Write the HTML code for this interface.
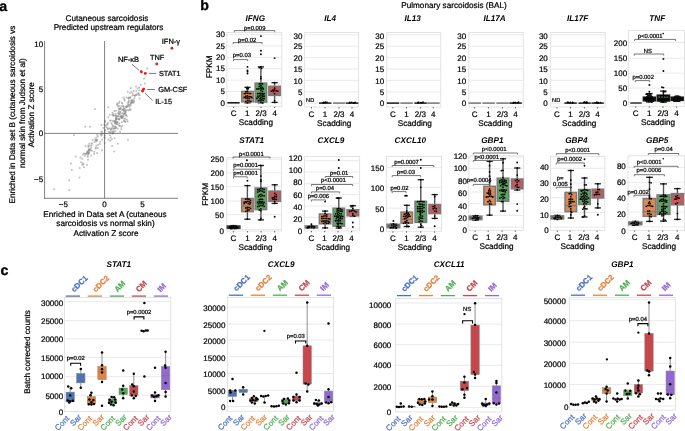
<!DOCTYPE html>
<html lang="en"><head><meta charset="utf-8"><title>Figure</title>
<style>
html,body{margin:0;padding:0;background:#fff;}
body{width:685px;height:431px;overflow:hidden;font-family:"Liberation Sans", Arial, Helvetica, sans-serif;}
svg{display:block;}
</style></head>
<body>
<svg width="685" height="431" viewBox="0 0 685 431" font-family='"Liberation Sans", Arial, Helvetica, sans-serif' text-rendering="geometricPrecision">
<rect x="0" y="0" width="685" height="431" fill="#ffffff"/>
<text x="-0.70" y="10.90" font-size="14.2" text-anchor="start" fill="#000" font-weight="bold" stroke="#000" stroke-width="0.3">a</text>
<text x="107.00" y="20.60" font-size="8.2" text-anchor="middle" fill="#000" stroke="#000" stroke-width="0.22">Cutaneous sarcoidosis</text>
<text x="108.50" y="29.60" font-size="8.2" text-anchor="middle" fill="#000" stroke="#000" stroke-width="0.22">Predicted upstream regulators</text>
<g>
<circle cx="112.82" cy="132.26" r="1.0" fill="#8a8a8a" fill-opacity="0.55"/>
<circle cx="127.70" cy="121.39" r="1.0" fill="#8a8a8a" fill-opacity="0.55"/>
<circle cx="121.16" cy="129.19" r="1.0" fill="#8a8a8a" fill-opacity="0.55"/>
<circle cx="131.17" cy="100.94" r="1.0" fill="#8a8a8a" fill-opacity="0.55"/>
<circle cx="133.23" cy="102.99" r="1.0" fill="#8a8a8a" fill-opacity="0.55"/>
<circle cx="125.52" cy="111.06" r="1.0" fill="#8a8a8a" fill-opacity="0.55"/>
<circle cx="116.37" cy="119.52" r="1.0" fill="#8a8a8a" fill-opacity="0.55"/>
<circle cx="112.19" cy="127.89" r="1.0" fill="#8a8a8a" fill-opacity="0.55"/>
<circle cx="127.92" cy="105.88" r="1.0" fill="#8a8a8a" fill-opacity="0.55"/>
<circle cx="119.01" cy="103.02" r="1.0" fill="#8a8a8a" fill-opacity="0.55"/>
<circle cx="122.78" cy="116.38" r="1.0" fill="#8a8a8a" fill-opacity="0.55"/>
<circle cx="123.59" cy="114.96" r="1.0" fill="#8a8a8a" fill-opacity="0.55"/>
<circle cx="119.21" cy="119.23" r="1.0" fill="#8a8a8a" fill-opacity="0.55"/>
<circle cx="138.61" cy="92.95" r="1.0" fill="#8a8a8a" fill-opacity="0.55"/>
<circle cx="123.72" cy="107.04" r="1.0" fill="#8a8a8a" fill-opacity="0.55"/>
<circle cx="138.55" cy="94.63" r="1.0" fill="#8a8a8a" fill-opacity="0.55"/>
<circle cx="117.29" cy="103.29" r="1.0" fill="#8a8a8a" fill-opacity="0.55"/>
<circle cx="110.56" cy="129.98" r="1.0" fill="#8a8a8a" fill-opacity="0.55"/>
<circle cx="127.68" cy="91.75" r="1.0" fill="#8a8a8a" fill-opacity="0.55"/>
<circle cx="114.66" cy="138.29" r="1.0" fill="#8a8a8a" fill-opacity="0.55"/>
<circle cx="127.64" cy="109.98" r="1.0" fill="#8a8a8a" fill-opacity="0.55"/>
<circle cx="119.19" cy="114.00" r="1.0" fill="#8a8a8a" fill-opacity="0.55"/>
<circle cx="124.11" cy="109.05" r="1.0" fill="#8a8a8a" fill-opacity="0.55"/>
<circle cx="118.84" cy="109.06" r="1.0" fill="#8a8a8a" fill-opacity="0.55"/>
<circle cx="134.43" cy="98.04" r="1.0" fill="#8a8a8a" fill-opacity="0.55"/>
<circle cx="118.67" cy="112.87" r="1.0" fill="#8a8a8a" fill-opacity="0.55"/>
<circle cx="126.16" cy="115.16" r="1.0" fill="#8a8a8a" fill-opacity="0.55"/>
<circle cx="118.61" cy="110.91" r="1.0" fill="#8a8a8a" fill-opacity="0.55"/>
<circle cx="121.54" cy="116.23" r="1.0" fill="#8a8a8a" fill-opacity="0.55"/>
<circle cx="124.02" cy="111.26" r="1.0" fill="#8a8a8a" fill-opacity="0.55"/>
<circle cx="122.29" cy="125.68" r="1.0" fill="#8a8a8a" fill-opacity="0.55"/>
<circle cx="136.39" cy="94.54" r="1.0" fill="#8a8a8a" fill-opacity="0.55"/>
<circle cx="115.25" cy="115.48" r="1.0" fill="#8a8a8a" fill-opacity="0.55"/>
<circle cx="124.80" cy="109.98" r="1.0" fill="#8a8a8a" fill-opacity="0.55"/>
<circle cx="130.75" cy="88.12" r="1.0" fill="#8a8a8a" fill-opacity="0.55"/>
<circle cx="126.77" cy="97.40" r="1.0" fill="#8a8a8a" fill-opacity="0.55"/>
<circle cx="139.68" cy="98.41" r="1.0" fill="#8a8a8a" fill-opacity="0.55"/>
<circle cx="118.10" cy="113.30" r="1.0" fill="#8a8a8a" fill-opacity="0.55"/>
<circle cx="108.56" cy="131.79" r="1.0" fill="#8a8a8a" fill-opacity="0.55"/>
<circle cx="132.72" cy="93.59" r="1.0" fill="#8a8a8a" fill-opacity="0.55"/>
<circle cx="126.97" cy="119.69" r="1.0" fill="#8a8a8a" fill-opacity="0.55"/>
<circle cx="128.49" cy="102.35" r="1.0" fill="#8a8a8a" fill-opacity="0.55"/>
<circle cx="108.49" cy="139.44" r="1.0" fill="#8a8a8a" fill-opacity="0.55"/>
<circle cx="112.52" cy="112.76" r="1.0" fill="#8a8a8a" fill-opacity="0.55"/>
<circle cx="115.62" cy="122.95" r="1.0" fill="#8a8a8a" fill-opacity="0.55"/>
<circle cx="120.26" cy="111.97" r="1.0" fill="#8a8a8a" fill-opacity="0.55"/>
<circle cx="126.34" cy="106.46" r="1.0" fill="#8a8a8a" fill-opacity="0.55"/>
<circle cx="112.15" cy="145.98" r="1.0" fill="#8a8a8a" fill-opacity="0.55"/>
<circle cx="123.65" cy="109.77" r="1.0" fill="#8a8a8a" fill-opacity="0.55"/>
<circle cx="132.22" cy="101.63" r="1.0" fill="#8a8a8a" fill-opacity="0.55"/>
<circle cx="117.39" cy="116.54" r="1.0" fill="#8a8a8a" fill-opacity="0.55"/>
<circle cx="109.80" cy="135.29" r="1.0" fill="#8a8a8a" fill-opacity="0.55"/>
<circle cx="114.21" cy="121.25" r="1.0" fill="#8a8a8a" fill-opacity="0.55"/>
<circle cx="139.14" cy="87.50" r="1.0" fill="#8a8a8a" fill-opacity="0.55"/>
<circle cx="131.50" cy="100.30" r="1.0" fill="#8a8a8a" fill-opacity="0.55"/>
<circle cx="124.56" cy="113.30" r="1.0" fill="#8a8a8a" fill-opacity="0.55"/>
<circle cx="120.05" cy="131.68" r="1.0" fill="#8a8a8a" fill-opacity="0.55"/>
<circle cx="112.63" cy="133.39" r="1.0" fill="#8a8a8a" fill-opacity="0.55"/>
<circle cx="129.05" cy="100.57" r="1.0" fill="#8a8a8a" fill-opacity="0.55"/>
<circle cx="131.50" cy="91.76" r="1.0" fill="#8a8a8a" fill-opacity="0.55"/>
<circle cx="119.85" cy="109.33" r="1.0" fill="#8a8a8a" fill-opacity="0.55"/>
<circle cx="138.05" cy="93.85" r="1.0" fill="#8a8a8a" fill-opacity="0.55"/>
<circle cx="131.06" cy="103.46" r="1.0" fill="#8a8a8a" fill-opacity="0.55"/>
<circle cx="109.33" cy="128.34" r="1.0" fill="#8a8a8a" fill-opacity="0.55"/>
<circle cx="115.69" cy="120.58" r="1.0" fill="#8a8a8a" fill-opacity="0.55"/>
<circle cx="118.58" cy="115.66" r="1.0" fill="#8a8a8a" fill-opacity="0.55"/>
<circle cx="105.11" cy="120.80" r="1.0" fill="#8a8a8a" fill-opacity="0.55"/>
<circle cx="133.26" cy="101.96" r="1.0" fill="#8a8a8a" fill-opacity="0.55"/>
<circle cx="114.99" cy="122.12" r="1.0" fill="#8a8a8a" fill-opacity="0.55"/>
<circle cx="127.75" cy="103.72" r="1.0" fill="#8a8a8a" fill-opacity="0.55"/>
<circle cx="125.54" cy="121.94" r="1.0" fill="#8a8a8a" fill-opacity="0.55"/>
<circle cx="113.21" cy="115.64" r="1.0" fill="#8a8a8a" fill-opacity="0.55"/>
<circle cx="124.24" cy="120.63" r="1.0" fill="#8a8a8a" fill-opacity="0.55"/>
<circle cx="115.32" cy="131.13" r="1.0" fill="#8a8a8a" fill-opacity="0.55"/>
<circle cx="114.09" cy="115.60" r="1.0" fill="#8a8a8a" fill-opacity="0.55"/>
<circle cx="120.52" cy="108.02" r="1.0" fill="#8a8a8a" fill-opacity="0.55"/>
<circle cx="123.84" cy="121.13" r="1.0" fill="#8a8a8a" fill-opacity="0.55"/>
<circle cx="117.03" cy="104.60" r="1.0" fill="#8a8a8a" fill-opacity="0.55"/>
<circle cx="116.06" cy="127.74" r="1.0" fill="#8a8a8a" fill-opacity="0.55"/>
<circle cx="132.41" cy="100.13" r="1.0" fill="#8a8a8a" fill-opacity="0.55"/>
<circle cx="122.26" cy="103.54" r="1.0" fill="#8a8a8a" fill-opacity="0.55"/>
<circle cx="107.88" cy="128.14" r="1.0" fill="#8a8a8a" fill-opacity="0.55"/>
<circle cx="113.67" cy="133.04" r="1.0" fill="#8a8a8a" fill-opacity="0.55"/>
<circle cx="115.63" cy="113.75" r="1.0" fill="#8a8a8a" fill-opacity="0.55"/>
<circle cx="121.16" cy="126.70" r="1.0" fill="#8a8a8a" fill-opacity="0.55"/>
<circle cx="113.20" cy="114.27" r="1.0" fill="#8a8a8a" fill-opacity="0.55"/>
<circle cx="130.72" cy="110.02" r="1.0" fill="#8a8a8a" fill-opacity="0.55"/>
<circle cx="112.49" cy="126.13" r="1.0" fill="#8a8a8a" fill-opacity="0.55"/>
<circle cx="130.01" cy="93.01" r="1.0" fill="#8a8a8a" fill-opacity="0.55"/>
<circle cx="130.78" cy="105.57" r="1.0" fill="#8a8a8a" fill-opacity="0.55"/>
<circle cx="117.69" cy="128.47" r="1.0" fill="#8a8a8a" fill-opacity="0.55"/>
<circle cx="121.70" cy="117.85" r="1.0" fill="#8a8a8a" fill-opacity="0.55"/>
<circle cx="124.32" cy="119.06" r="1.0" fill="#8a8a8a" fill-opacity="0.55"/>
<circle cx="118.05" cy="124.23" r="1.0" fill="#8a8a8a" fill-opacity="0.55"/>
<circle cx="112.40" cy="133.18" r="1.0" fill="#8a8a8a" fill-opacity="0.55"/>
<circle cx="113.92" cy="131.30" r="1.0" fill="#8a8a8a" fill-opacity="0.55"/>
<circle cx="126.99" cy="106.73" r="1.0" fill="#8a8a8a" fill-opacity="0.55"/>
<circle cx="111.43" cy="123.13" r="1.0" fill="#8a8a8a" fill-opacity="0.55"/>
<circle cx="124.68" cy="100.56" r="1.0" fill="#8a8a8a" fill-opacity="0.55"/>
<circle cx="120.71" cy="116.51" r="1.0" fill="#8a8a8a" fill-opacity="0.55"/>
<circle cx="116.64" cy="119.30" r="1.0" fill="#8a8a8a" fill-opacity="0.55"/>
<circle cx="126.37" cy="107.00" r="1.0" fill="#8a8a8a" fill-opacity="0.55"/>
<circle cx="120.22" cy="111.98" r="1.0" fill="#8a8a8a" fill-opacity="0.55"/>
<circle cx="123.07" cy="110.58" r="1.0" fill="#8a8a8a" fill-opacity="0.55"/>
<circle cx="114.62" cy="121.24" r="1.0" fill="#8a8a8a" fill-opacity="0.55"/>
<circle cx="114.10" cy="128.83" r="1.0" fill="#8a8a8a" fill-opacity="0.55"/>
<circle cx="123.64" cy="97.56" r="1.0" fill="#8a8a8a" fill-opacity="0.55"/>
<circle cx="130.52" cy="103.03" r="1.0" fill="#8a8a8a" fill-opacity="0.55"/>
<circle cx="120.84" cy="108.41" r="1.0" fill="#8a8a8a" fill-opacity="0.55"/>
<circle cx="133.70" cy="91.05" r="1.0" fill="#8a8a8a" fill-opacity="0.55"/>
<circle cx="120.78" cy="113.78" r="1.0" fill="#8a8a8a" fill-opacity="0.55"/>
<circle cx="119.59" cy="118.38" r="1.0" fill="#8a8a8a" fill-opacity="0.55"/>
<circle cx="115.27" cy="123.46" r="1.0" fill="#8a8a8a" fill-opacity="0.55"/>
<circle cx="104.58" cy="142.90" r="1.0" fill="#8a8a8a" fill-opacity="0.55"/>
<circle cx="125.81" cy="114.98" r="1.0" fill="#8a8a8a" fill-opacity="0.55"/>
<circle cx="126.76" cy="116.25" r="1.0" fill="#8a8a8a" fill-opacity="0.55"/>
<circle cx="119.27" cy="114.26" r="1.0" fill="#8a8a8a" fill-opacity="0.55"/>
<circle cx="113.77" cy="128.39" r="1.0" fill="#8a8a8a" fill-opacity="0.55"/>
<circle cx="116.50" cy="124.10" r="1.0" fill="#8a8a8a" fill-opacity="0.55"/>
<circle cx="122.58" cy="112.99" r="1.0" fill="#8a8a8a" fill-opacity="0.55"/>
<circle cx="130.41" cy="97.94" r="1.0" fill="#8a8a8a" fill-opacity="0.55"/>
<circle cx="118.99" cy="119.60" r="1.0" fill="#8a8a8a" fill-opacity="0.55"/>
<circle cx="110.66" cy="137.40" r="1.0" fill="#8a8a8a" fill-opacity="0.55"/>
<circle cx="116.23" cy="115.79" r="1.0" fill="#8a8a8a" fill-opacity="0.55"/>
<circle cx="123.30" cy="106.61" r="1.0" fill="#8a8a8a" fill-opacity="0.55"/>
<circle cx="130.06" cy="104.71" r="1.0" fill="#8a8a8a" fill-opacity="0.55"/>
<circle cx="139.60" cy="95.35" r="1.0" fill="#8a8a8a" fill-opacity="0.55"/>
<circle cx="117.16" cy="122.33" r="1.0" fill="#8a8a8a" fill-opacity="0.55"/>
<circle cx="131.67" cy="102.54" r="1.0" fill="#8a8a8a" fill-opacity="0.55"/>
<circle cx="116.22" cy="117.76" r="1.0" fill="#8a8a8a" fill-opacity="0.55"/>
<circle cx="131.63" cy="102.43" r="1.0" fill="#8a8a8a" fill-opacity="0.55"/>
<circle cx="120.23" cy="108.52" r="1.0" fill="#8a8a8a" fill-opacity="0.55"/>
<circle cx="130.40" cy="96.94" r="1.0" fill="#8a8a8a" fill-opacity="0.55"/>
<circle cx="116.02" cy="119.00" r="1.0" fill="#8a8a8a" fill-opacity="0.55"/>
<circle cx="125.29" cy="121.38" r="1.0" fill="#8a8a8a" fill-opacity="0.55"/>
<circle cx="132.20" cy="100.32" r="1.0" fill="#8a8a8a" fill-opacity="0.55"/>
<circle cx="119.51" cy="101.61" r="1.0" fill="#8a8a8a" fill-opacity="0.55"/>
<circle cx="123.51" cy="116.44" r="1.0" fill="#8a8a8a" fill-opacity="0.55"/>
<circle cx="121.79" cy="110.05" r="1.0" fill="#8a8a8a" fill-opacity="0.55"/>
<circle cx="129.00" cy="105.30" r="1.0" fill="#8a8a8a" fill-opacity="0.55"/>
<circle cx="115.20" cy="126.51" r="1.0" fill="#8a8a8a" fill-opacity="0.55"/>
<circle cx="115.59" cy="128.38" r="1.0" fill="#8a8a8a" fill-opacity="0.55"/>
<circle cx="122.14" cy="116.60" r="1.0" fill="#8a8a8a" fill-opacity="0.55"/>
<circle cx="122.75" cy="118.07" r="1.0" fill="#8a8a8a" fill-opacity="0.55"/>
<circle cx="115.18" cy="123.14" r="1.0" fill="#8a8a8a" fill-opacity="0.55"/>
<circle cx="119.44" cy="109.06" r="1.0" fill="#8a8a8a" fill-opacity="0.55"/>
<circle cx="114.88" cy="120.92" r="1.0" fill="#8a8a8a" fill-opacity="0.55"/>
<circle cx="121.97" cy="122.22" r="1.0" fill="#8a8a8a" fill-opacity="0.55"/>
<circle cx="128.29" cy="104.67" r="1.0" fill="#8a8a8a" fill-opacity="0.55"/>
<circle cx="105.06" cy="130.39" r="1.0" fill="#8a8a8a" fill-opacity="0.55"/>
<circle cx="130.02" cy="108.94" r="1.0" fill="#8a8a8a" fill-opacity="0.55"/>
<circle cx="136.23" cy="95.01" r="1.0" fill="#8a8a8a" fill-opacity="0.55"/>
<circle cx="112.84" cy="121.08" r="1.0" fill="#8a8a8a" fill-opacity="0.55"/>
<circle cx="119.35" cy="125.64" r="1.0" fill="#8a8a8a" fill-opacity="0.55"/>
<circle cx="104.69" cy="133.20" r="1.0" fill="#8a8a8a" fill-opacity="0.55"/>
<circle cx="116.27" cy="116.32" r="1.0" fill="#8a8a8a" fill-opacity="0.55"/>
<circle cx="125.49" cy="112.68" r="1.0" fill="#8a8a8a" fill-opacity="0.55"/>
<circle cx="117.95" cy="106.83" r="1.0" fill="#8a8a8a" fill-opacity="0.55"/>
<circle cx="136.32" cy="90.94" r="1.0" fill="#8a8a8a" fill-opacity="0.55"/>
<circle cx="119.39" cy="123.23" r="1.0" fill="#8a8a8a" fill-opacity="0.55"/>
<circle cx="119.13" cy="106.06" r="1.0" fill="#8a8a8a" fill-opacity="0.55"/>
<circle cx="126.09" cy="110.41" r="1.0" fill="#8a8a8a" fill-opacity="0.55"/>
<circle cx="112.24" cy="124.42" r="1.0" fill="#8a8a8a" fill-opacity="0.55"/>
<circle cx="115.10" cy="121.94" r="1.0" fill="#8a8a8a" fill-opacity="0.55"/>
<circle cx="128.40" cy="98.59" r="1.0" fill="#8a8a8a" fill-opacity="0.55"/>
<circle cx="123.46" cy="114.00" r="1.0" fill="#8a8a8a" fill-opacity="0.55"/>
<circle cx="124.18" cy="98.96" r="1.0" fill="#8a8a8a" fill-opacity="0.55"/>
<circle cx="125.39" cy="118.60" r="1.0" fill="#8a8a8a" fill-opacity="0.55"/>
<circle cx="135.04" cy="95.84" r="1.0" fill="#8a8a8a" fill-opacity="0.55"/>
<circle cx="121.54" cy="116.05" r="1.0" fill="#8a8a8a" fill-opacity="0.55"/>
<circle cx="125.41" cy="113.16" r="1.0" fill="#8a8a8a" fill-opacity="0.55"/>
<circle cx="110.21" cy="140.70" r="1.0" fill="#8a8a8a" fill-opacity="0.55"/>
<circle cx="121.30" cy="117.78" r="1.0" fill="#8a8a8a" fill-opacity="0.55"/>
<circle cx="117.56" cy="105.01" r="1.0" fill="#8a8a8a" fill-opacity="0.55"/>
<circle cx="128.82" cy="97.95" r="1.0" fill="#8a8a8a" fill-opacity="0.55"/>
<circle cx="118.22" cy="116.20" r="1.0" fill="#8a8a8a" fill-opacity="0.55"/>
<circle cx="120.58" cy="116.62" r="1.0" fill="#8a8a8a" fill-opacity="0.55"/>
<circle cx="128.42" cy="101.65" r="1.0" fill="#8a8a8a" fill-opacity="0.55"/>
<circle cx="124.80" cy="109.11" r="1.0" fill="#8a8a8a" fill-opacity="0.55"/>
<circle cx="110.51" cy="132.53" r="1.0" fill="#8a8a8a" fill-opacity="0.55"/>
<circle cx="125.43" cy="111.72" r="1.0" fill="#8a8a8a" fill-opacity="0.55"/>
<circle cx="115.95" cy="118.63" r="1.0" fill="#8a8a8a" fill-opacity="0.55"/>
<circle cx="114.76" cy="126.86" r="1.0" fill="#8a8a8a" fill-opacity="0.55"/>
<circle cx="129.53" cy="106.63" r="1.0" fill="#8a8a8a" fill-opacity="0.55"/>
<circle cx="134.00" cy="95.34" r="1.0" fill="#8a8a8a" fill-opacity="0.55"/>
<circle cx="128.93" cy="97.56" r="1.0" fill="#8a8a8a" fill-opacity="0.55"/>
<circle cx="104.64" cy="135.40" r="1.0" fill="#8a8a8a" fill-opacity="0.55"/>
<circle cx="111.76" cy="129.18" r="1.0" fill="#8a8a8a" fill-opacity="0.55"/>
<circle cx="121.46" cy="106.01" r="1.0" fill="#8a8a8a" fill-opacity="0.55"/>
<circle cx="121.96" cy="102.79" r="1.0" fill="#8a8a8a" fill-opacity="0.55"/>
<circle cx="118.02" cy="118.80" r="1.0" fill="#8a8a8a" fill-opacity="0.55"/>
<circle cx="123.07" cy="106.01" r="1.0" fill="#8a8a8a" fill-opacity="0.55"/>
<circle cx="121.89" cy="117.73" r="1.0" fill="#8a8a8a" fill-opacity="0.55"/>
<circle cx="119.63" cy="125.66" r="1.0" fill="#8a8a8a" fill-opacity="0.55"/>
<circle cx="132.59" cy="95.60" r="1.0" fill="#8a8a8a" fill-opacity="0.55"/>
<circle cx="125.80" cy="107.04" r="1.0" fill="#8a8a8a" fill-opacity="0.55"/>
<circle cx="117.37" cy="121.89" r="1.0" fill="#8a8a8a" fill-opacity="0.55"/>
<circle cx="128.90" cy="110.22" r="1.0" fill="#8a8a8a" fill-opacity="0.55"/>
<circle cx="115.93" cy="110.64" r="1.0" fill="#8a8a8a" fill-opacity="0.55"/>
<circle cx="135.02" cy="95.60" r="1.0" fill="#8a8a8a" fill-opacity="0.55"/>
<circle cx="126.65" cy="106.58" r="1.0" fill="#8a8a8a" fill-opacity="0.55"/>
<circle cx="133.93" cy="101.76" r="1.0" fill="#8a8a8a" fill-opacity="0.55"/>
<circle cx="122.98" cy="109.15" r="1.0" fill="#8a8a8a" fill-opacity="0.55"/>
<circle cx="134.04" cy="100.36" r="1.0" fill="#8a8a8a" fill-opacity="0.55"/>
<circle cx="124.21" cy="114.03" r="1.0" fill="#8a8a8a" fill-opacity="0.55"/>
<circle cx="116.98" cy="123.99" r="1.0" fill="#8a8a8a" fill-opacity="0.55"/>
<circle cx="89.18" cy="145.41" r="1.0" fill="#8a8a8a" fill-opacity="0.55"/>
<circle cx="82.87" cy="163.32" r="1.0" fill="#8a8a8a" fill-opacity="0.55"/>
<circle cx="85.22" cy="153.93" r="1.0" fill="#8a8a8a" fill-opacity="0.55"/>
<circle cx="94.17" cy="153.84" r="1.0" fill="#8a8a8a" fill-opacity="0.55"/>
<circle cx="91.38" cy="155.53" r="1.0" fill="#8a8a8a" fill-opacity="0.55"/>
<circle cx="94.29" cy="151.72" r="1.0" fill="#8a8a8a" fill-opacity="0.55"/>
<circle cx="79.72" cy="167.94" r="1.0" fill="#8a8a8a" fill-opacity="0.55"/>
<circle cx="88.00" cy="159.67" r="1.0" fill="#8a8a8a" fill-opacity="0.55"/>
<circle cx="90.21" cy="149.19" r="1.0" fill="#8a8a8a" fill-opacity="0.55"/>
<circle cx="89.17" cy="149.64" r="1.0" fill="#8a8a8a" fill-opacity="0.55"/>
<circle cx="95.58" cy="148.55" r="1.0" fill="#8a8a8a" fill-opacity="0.55"/>
<circle cx="88.52" cy="152.48" r="1.0" fill="#8a8a8a" fill-opacity="0.55"/>
<circle cx="71.89" cy="170.09" r="1.0" fill="#8a8a8a" fill-opacity="0.55"/>
<circle cx="82.27" cy="164.83" r="1.0" fill="#8a8a8a" fill-opacity="0.55"/>
<circle cx="84.90" cy="156.07" r="1.0" fill="#8a8a8a" fill-opacity="0.55"/>
<circle cx="91.17" cy="145.73" r="1.0" fill="#8a8a8a" fill-opacity="0.55"/>
<circle cx="82.89" cy="154.47" r="1.0" fill="#8a8a8a" fill-opacity="0.55"/>
<circle cx="91.88" cy="150.79" r="1.0" fill="#8a8a8a" fill-opacity="0.55"/>
<circle cx="88.33" cy="147.06" r="1.0" fill="#8a8a8a" fill-opacity="0.55"/>
<circle cx="91.99" cy="143.29" r="1.0" fill="#8a8a8a" fill-opacity="0.55"/>
<circle cx="89.36" cy="143.53" r="1.0" fill="#8a8a8a" fill-opacity="0.55"/>
<circle cx="106.43" cy="127.18" r="1.0" fill="#8a8a8a" fill-opacity="0.55"/>
<circle cx="75.60" cy="156.50" r="1.0" fill="#8a8a8a" fill-opacity="0.55"/>
<circle cx="83.90" cy="167.29" r="1.0" fill="#8a8a8a" fill-opacity="0.55"/>
<circle cx="97.33" cy="134.67" r="1.0" fill="#8a8a8a" fill-opacity="0.55"/>
<circle cx="85.42" cy="146.31" r="1.0" fill="#8a8a8a" fill-opacity="0.55"/>
<circle cx="87.88" cy="157.06" r="1.0" fill="#8a8a8a" fill-opacity="0.55"/>
<circle cx="89.05" cy="150.18" r="1.0" fill="#8a8a8a" fill-opacity="0.55"/>
<circle cx="88.90" cy="149.11" r="1.0" fill="#8a8a8a" fill-opacity="0.55"/>
<circle cx="70.86" cy="163.40" r="1.0" fill="#8a8a8a" fill-opacity="0.55"/>
<circle cx="83.92" cy="153.53" r="1.0" fill="#8a8a8a" fill-opacity="0.55"/>
<circle cx="82.06" cy="159.12" r="1.0" fill="#8a8a8a" fill-opacity="0.55"/>
<circle cx="87.08" cy="164.72" r="1.0" fill="#8a8a8a" fill-opacity="0.55"/>
<circle cx="91.59" cy="144.21" r="1.0" fill="#8a8a8a" fill-opacity="0.55"/>
<circle cx="79.52" cy="177.50" r="1.0" fill="#8a8a8a" fill-opacity="0.55"/>
<circle cx="83.30" cy="164.38" r="1.0" fill="#8a8a8a" fill-opacity="0.55"/>
<circle cx="89.39" cy="151.32" r="1.0" fill="#8a8a8a" fill-opacity="0.55"/>
<circle cx="101.48" cy="131.96" r="1.0" fill="#8a8a8a" fill-opacity="0.55"/>
<circle cx="86.44" cy="153.74" r="1.0" fill="#8a8a8a" fill-opacity="0.55"/>
<circle cx="81.08" cy="162.17" r="1.0" fill="#8a8a8a" fill-opacity="0.55"/>
<circle cx="91.07" cy="147.69" r="1.0" fill="#8a8a8a" fill-opacity="0.55"/>
<circle cx="96.03" cy="147.70" r="1.0" fill="#8a8a8a" fill-opacity="0.55"/>
<circle cx="90.96" cy="150.16" r="1.0" fill="#8a8a8a" fill-opacity="0.55"/>
<circle cx="88.61" cy="150.00" r="1.0" fill="#8a8a8a" fill-opacity="0.55"/>
<circle cx="86.23" cy="153.66" r="1.0" fill="#8a8a8a" fill-opacity="0.55"/>
<circle cx="88.22" cy="145.74" r="1.0" fill="#8a8a8a" fill-opacity="0.55"/>
<circle cx="87.60" cy="151.35" r="1.0" fill="#8a8a8a" fill-opacity="0.55"/>
<circle cx="92.62" cy="139.97" r="1.0" fill="#8a8a8a" fill-opacity="0.55"/>
<circle cx="80.40" cy="157.48" r="1.0" fill="#8a8a8a" fill-opacity="0.55"/>
<circle cx="94.53" cy="141.92" r="1.0" fill="#8a8a8a" fill-opacity="0.55"/>
<circle cx="96.33" cy="137.38" r="1.0" fill="#8a8a8a" fill-opacity="0.55"/>
<circle cx="98.07" cy="144.86" r="1.0" fill="#8a8a8a" fill-opacity="0.55"/>
<circle cx="88.43" cy="153.79" r="1.0" fill="#8a8a8a" fill-opacity="0.55"/>
<circle cx="89.21" cy="153.05" r="1.0" fill="#8a8a8a" fill-opacity="0.55"/>
<circle cx="86.76" cy="153.08" r="1.0" fill="#8a8a8a" fill-opacity="0.55"/>
<circle cx="87.05" cy="152.14" r="1.0" fill="#8a8a8a" fill-opacity="0.55"/>
<circle cx="87.69" cy="155.56" r="1.0" fill="#8a8a8a" fill-opacity="0.55"/>
<circle cx="87.64" cy="152.10" r="1.0" fill="#8a8a8a" fill-opacity="0.55"/>
<circle cx="88.33" cy="153.88" r="1.0" fill="#8a8a8a" fill-opacity="0.55"/>
<circle cx="88.64" cy="152.58" r="1.0" fill="#8a8a8a" fill-opacity="0.55"/>
<circle cx="96.92" cy="140.41" r="1.0" fill="#8a8a8a" fill-opacity="0.55"/>
<circle cx="101.99" cy="150.17" r="1.0" fill="#8a8a8a" fill-opacity="0.55"/>
<circle cx="97.87" cy="136.24" r="1.0" fill="#8a8a8a" fill-opacity="0.55"/>
<circle cx="96.84" cy="139.67" r="1.0" fill="#8a8a8a" fill-opacity="0.55"/>
<circle cx="104.60" cy="138.03" r="1.0" fill="#8a8a8a" fill-opacity="0.55"/>
<circle cx="96.32" cy="145.80" r="1.0" fill="#8a8a8a" fill-opacity="0.55"/>
<circle cx="110.73" cy="120.53" r="1.0" fill="#8a8a8a" fill-opacity="0.55"/>
<circle cx="101.39" cy="135.38" r="1.0" fill="#8a8a8a" fill-opacity="0.55"/>
<circle cx="103.36" cy="127.96" r="1.0" fill="#8a8a8a" fill-opacity="0.55"/>
<circle cx="102.02" cy="131.49" r="1.0" fill="#8a8a8a" fill-opacity="0.55"/>
<circle cx="111.90" cy="139.25" r="1.0" fill="#8a8a8a" fill-opacity="0.55"/>
<circle cx="109.68" cy="132.32" r="1.0" fill="#8a8a8a" fill-opacity="0.55"/>
<circle cx="112.06" cy="131.14" r="1.0" fill="#8a8a8a" fill-opacity="0.55"/>
<circle cx="113.35" cy="125.93" r="1.0" fill="#8a8a8a" fill-opacity="0.55"/>
<circle cx="109.71" cy="114.81" r="1.0" fill="#8a8a8a" fill-opacity="0.55"/>
<circle cx="110.74" cy="128.86" r="1.0" fill="#8a8a8a" fill-opacity="0.55"/>
<circle cx="100.97" cy="134.55" r="1.0" fill="#8a8a8a" fill-opacity="0.55"/>
<circle cx="97.88" cy="148.17" r="1.0" fill="#8a8a8a" fill-opacity="0.55"/>
<circle cx="96.43" cy="140.10" r="1.0" fill="#8a8a8a" fill-opacity="0.55"/>
<circle cx="110.17" cy="120.87" r="1.0" fill="#8a8a8a" fill-opacity="0.55"/>
<circle cx="101.38" cy="124.94" r="1.0" fill="#8a8a8a" fill-opacity="0.55"/>
<circle cx="107.50" cy="124.33" r="1.0" fill="#8a8a8a" fill-opacity="0.55"/>
<circle cx="95.56" cy="140.23" r="1.0" fill="#8a8a8a" fill-opacity="0.55"/>
<circle cx="102.99" cy="133.67" r="1.0" fill="#8a8a8a" fill-opacity="0.55"/>
<circle cx="114.32" cy="111.00" r="1.0" fill="#8a8a8a" fill-opacity="0.55"/>
<circle cx="100.15" cy="141.73" r="1.0" fill="#8a8a8a" fill-opacity="0.55"/>
<circle cx="104.61" cy="137.39" r="1.0" fill="#8a8a8a" fill-opacity="0.55"/>
<circle cx="95.22" cy="139.27" r="1.0" fill="#8a8a8a" fill-opacity="0.55"/>
<circle cx="108.11" cy="122.90" r="1.0" fill="#8a8a8a" fill-opacity="0.55"/>
<circle cx="97.09" cy="153.10" r="1.0" fill="#8a8a8a" fill-opacity="0.55"/>
<circle cx="106.89" cy="124.41" r="1.0" fill="#8a8a8a" fill-opacity="0.55"/>
<circle cx="105.00" cy="121.88" r="1.0" fill="#8a8a8a" fill-opacity="0.55"/>
<circle cx="116.09" cy="117.75" r="1.0" fill="#8a8a8a" fill-opacity="0.55"/>
<circle cx="102.09" cy="139.73" r="1.0" fill="#8a8a8a" fill-opacity="0.55"/>
<circle cx="115.56" cy="127.39" r="1.0" fill="#8a8a8a" fill-opacity="0.55"/>
<circle cx="104.89" cy="130.61" r="1.0" fill="#8a8a8a" fill-opacity="0.55"/>
<circle cx="112.24" cy="114.87" r="1.0" fill="#8a8a8a" fill-opacity="0.55"/>
<circle cx="116.80" cy="121.63" r="1.0" fill="#8a8a8a" fill-opacity="0.55"/>
<circle cx="108.37" cy="117.14" r="1.0" fill="#8a8a8a" fill-opacity="0.55"/>
<circle cx="104.39" cy="124.70" r="1.0" fill="#8a8a8a" fill-opacity="0.55"/>
<circle cx="96.12" cy="141.42" r="1.0" fill="#8a8a8a" fill-opacity="0.55"/>
<circle cx="107.95" cy="129.11" r="1.0" fill="#8a8a8a" fill-opacity="0.55"/>
<circle cx="105.80" cy="125.84" r="1.0" fill="#8a8a8a" fill-opacity="0.55"/>
<circle cx="99.80" cy="144.02" r="1.0" fill="#8a8a8a" fill-opacity="0.55"/>
<circle cx="101.18" cy="134.18" r="1.0" fill="#8a8a8a" fill-opacity="0.55"/>
<circle cx="53.88" cy="189.20" r="1.0" fill="#8a8a8a" fill-opacity="0.55"/>
<circle cx="69.18" cy="190.10" r="1.0" fill="#8a8a8a" fill-opacity="0.55"/>
<circle cx="69.18" cy="180.20" r="1.0" fill="#8a8a8a" fill-opacity="0.55"/>
<circle cx="74.01" cy="135.20" r="1.0" fill="#8a8a8a" fill-opacity="0.55"/>
<circle cx="127.94" cy="139.70" r="1.0" fill="#8a8a8a" fill-opacity="0.55"/>
<circle cx="117.88" cy="143.75" r="1.0" fill="#8a8a8a" fill-opacity="0.55"/>
<circle cx="114.26" cy="151.40" r="1.0" fill="#8a8a8a" fill-opacity="0.55"/>
<circle cx="85.28" cy="126.65" r="1.0" fill="#8a8a8a" fill-opacity="0.55"/>
<circle cx="90.11" cy="126.65" r="1.0" fill="#8a8a8a" fill-opacity="0.55"/>
<circle cx="94.94" cy="109.10" r="1.0" fill="#8a8a8a" fill-opacity="0.55"/>
<circle cx="108.22" cy="107.30" r="1.0" fill="#8a8a8a" fill-opacity="0.55"/>
<circle cx="144.05" cy="78.50" r="1.0" fill="#8a8a8a" fill-opacity="0.55"/>
<circle cx="144.85" cy="83.45" r="1.0" fill="#8a8a8a" fill-opacity="0.55"/>
<circle cx="140.82" cy="84.80" r="1.0" fill="#8a8a8a" fill-opacity="0.55"/>
<circle cx="139.22" cy="90.20" r="1.0" fill="#8a8a8a" fill-opacity="0.55"/>
<circle cx="142.44" cy="91.10" r="1.0" fill="#8a8a8a" fill-opacity="0.55"/>
<circle cx="147.26" cy="68.60" r="1.0" fill="#8a8a8a" fill-opacity="0.55"/>
<circle cx="141.63" cy="73.10" r="1.0" fill="#8a8a8a" fill-opacity="0.55"/>
<circle cx="136.00" cy="86.60" r="1.0" fill="#8a8a8a" fill-opacity="0.55"/>
<circle cx="137.60" cy="88.40" r="1.0" fill="#8a8a8a" fill-opacity="0.55"/>
</g>
<line x1="44.60" y1="41.00" x2="44.60" y2="198.70" stroke="#555" stroke-width="0.75" stroke-linecap="butt"/>
<line x1="44.20" y1="198.30" x2="178.00" y2="198.30" stroke="#555" stroke-width="0.75" stroke-linecap="butt"/>
<line x1="104.60" y1="41.00" x2="104.60" y2="198.30" stroke="#555" stroke-width="0.75" stroke-linecap="butt"/>
<line x1="44.60" y1="133.40" x2="178.00" y2="133.40" stroke="#555" stroke-width="0.75" stroke-linecap="butt"/>
<text x="43.20" y="46.50" font-size="8.0" text-anchor="end" fill="#000" stroke="#000" stroke-width="0.22">10</text>
<text x="43.20" y="91.50" font-size="8.0" text-anchor="end" fill="#000" stroke="#000" stroke-width="0.22">5</text>
<text x="43.20" y="136.30" font-size="8.0" text-anchor="end" fill="#000" stroke="#000" stroke-width="0.22">0</text>
<text x="43.20" y="181.60" font-size="8.0" text-anchor="end" fill="#000" stroke="#000" stroke-width="0.22">−5</text>
<text x="63.40" y="207.40" font-size="8.0" text-anchor="middle" fill="#000" stroke="#000" stroke-width="0.22">−5</text>
<text x="104.50" y="207.40" font-size="8.0" text-anchor="middle" fill="#000" stroke="#000" stroke-width="0.22">0</text>
<text x="142.60" y="207.40" font-size="8.0" text-anchor="middle" fill="#000" stroke="#000" stroke-width="0.22">5</text>
<text x="105.00" y="217.00" font-size="8.2" text-anchor="middle" fill="#000" stroke="#000" stroke-width="0.22">Enriched in Data set A (cutaneous</text>
<text x="105.50" y="226.30" font-size="8.2" text-anchor="middle" fill="#000" stroke="#000" stroke-width="0.22">sarcoidosis vs normal skin)</text>
<text x="106.00" y="235.80" font-size="8.2" text-anchor="middle" fill="#000" stroke="#000" stroke-width="0.22">Activation Z score</text>
<text x="14.90" y="114.60" font-size="8.2" text-anchor="middle" fill="#000" stroke="#000" stroke-width="0.22" transform="rotate(-90 14.90 114.60)">Enriched in Data set B (cutaneous sarcoidosis vs</text>
<text x="25.00" y="113.20" font-size="8.2" text-anchor="middle" fill="#000" stroke="#000" stroke-width="0.22" transform="rotate(-90 25.00 113.20)">normal skin from Judson et al)</text>
<text x="34.10" y="114.80" font-size="8.2" text-anchor="middle" fill="#000" stroke="#000" stroke-width="0.22" transform="rotate(-90 34.10 114.80)">Activation Z score</text>
<circle cx="171.90" cy="48.30" r="1.45" fill="#e0201b"/>
<circle cx="156.80" cy="64.00" r="1.45" fill="#e0201b"/>
<circle cx="141.30" cy="71.70" r="1.45" fill="#e0201b"/>
<circle cx="145.30" cy="73.40" r="1.45" fill="#e0201b"/>
<circle cx="143.60" cy="89.20" r="1.45" fill="#e0201b"/>
<circle cx="142.60" cy="91.00" r="1.45" fill="#e0201b"/>
<line x1="132.00" y1="64.30" x2="139.30" y2="70.50" stroke="#222" stroke-width="0.6" stroke-linecap="butt"/>
<line x1="148.80" y1="73.40" x2="156.40" y2="73.40" stroke="#222" stroke-width="0.6" stroke-linecap="butt"/>
<line x1="147.20" y1="89.50" x2="155.00" y2="89.50" stroke="#222" stroke-width="0.6" stroke-linecap="butt"/>
<line x1="145.00" y1="93.20" x2="152.60" y2="100.40" stroke="#222" stroke-width="0.6" stroke-linecap="butt"/>
<text x="170.90" y="44.30" font-size="7.5" text-anchor="middle" fill="#000" stroke="#000" stroke-width="0.22">IFN-γ</text>
<text x="157.10" y="59.60" font-size="7.4" text-anchor="middle" fill="#000" stroke="#000" stroke-width="0.22">TNF</text>
<text x="128.50" y="61.80" font-size="7.5" text-anchor="middle" fill="#000" stroke="#000" stroke-width="0.22">NF-κB</text>
<text x="158.90" y="76.20" font-size="7.3" text-anchor="start" fill="#000" stroke="#000" stroke-width="0.22">STAT1</text>
<text x="158.20" y="92.40" font-size="7.4" text-anchor="start" fill="#000" stroke="#000" stroke-width="0.22">GM-CSF</text>
<text x="155.20" y="104.00" font-size="7.4" text-anchor="start" fill="#000" stroke="#000" stroke-width="0.22">IL-15</text>
<text x="200.20" y="9.90" font-size="14.2" text-anchor="start" fill="#000" font-weight="bold" stroke="#000" stroke-width="0.3">b</text>
<text x="454.00" y="7.60" font-size="8.2" text-anchor="middle" fill="#000" stroke="#000" stroke-width="0.22">Pulmonary sarcoidosis (BAL)</text>
<rect x="226.80" y="32.40" width="55.00" height="74.20" fill="#fff" stroke="#dcdcdc" stroke-width="0.8"/>
<line x1="226.80" y1="34.60" x2="281.80" y2="34.60" stroke="#e4e4e4" stroke-width="0.8" stroke-linecap="butt"/>
<text x="224.90" y="37.10" font-size="8.0" text-anchor="end" fill="#000" stroke="#000" stroke-width="0.22">30</text>
<line x1="226.80" y1="45.98" x2="281.80" y2="45.98" stroke="#e4e4e4" stroke-width="0.8" stroke-linecap="butt"/>
<text x="224.90" y="48.55" font-size="8.0" text-anchor="end" fill="#000" stroke="#000" stroke-width="0.22">25</text>
<line x1="226.80" y1="57.37" x2="281.80" y2="57.37" stroke="#e4e4e4" stroke-width="0.8" stroke-linecap="butt"/>
<text x="224.90" y="60.00" font-size="8.0" text-anchor="end" fill="#000" stroke="#000" stroke-width="0.22">20</text>
<line x1="226.80" y1="68.75" x2="281.80" y2="68.75" stroke="#e4e4e4" stroke-width="0.8" stroke-linecap="butt"/>
<text x="224.90" y="71.45" font-size="8.0" text-anchor="end" fill="#000" stroke="#000" stroke-width="0.22">15</text>
<line x1="226.80" y1="80.13" x2="281.80" y2="80.13" stroke="#e4e4e4" stroke-width="0.8" stroke-linecap="butt"/>
<text x="224.90" y="82.90" font-size="8.0" text-anchor="end" fill="#000" stroke="#000" stroke-width="0.22">10</text>
<line x1="226.80" y1="91.52" x2="281.80" y2="91.52" stroke="#e4e4e4" stroke-width="0.8" stroke-linecap="butt"/>
<text x="224.90" y="94.35" font-size="8.0" text-anchor="end" fill="#000" stroke="#000" stroke-width="0.22">5</text>
<line x1="226.80" y1="102.90" x2="281.80" y2="102.90" stroke="#e4e4e4" stroke-width="0.8" stroke-linecap="butt"/>
<text x="224.90" y="105.80" font-size="8.0" text-anchor="end" fill="#000" stroke="#000" stroke-width="0.22">0</text>
<line x1="233.70" y1="106.80" x2="233.70" y2="108.00" stroke="#333" stroke-width="0.9" stroke-linecap="butt"/>
<text x="233.70" y="116.20" font-size="8.0" text-anchor="middle" fill="#000" stroke="#000" stroke-width="0.22">C</text>
<line x1="247.30" y1="106.80" x2="247.30" y2="108.00" stroke="#333" stroke-width="0.9" stroke-linecap="butt"/>
<text x="247.30" y="116.20" font-size="8.0" text-anchor="middle" fill="#000" stroke="#000" stroke-width="0.22">1</text>
<line x1="261.10" y1="106.80" x2="261.10" y2="108.00" stroke="#333" stroke-width="0.9" stroke-linecap="butt"/>
<text x="261.10" y="116.20" font-size="8.0" text-anchor="middle" fill="#000" stroke="#000" stroke-width="0.22">2/3</text>
<line x1="274.70" y1="106.80" x2="274.70" y2="108.00" stroke="#333" stroke-width="0.9" stroke-linecap="butt"/>
<text x="274.70" y="116.20" font-size="8.0" text-anchor="middle" fill="#000" stroke="#000" stroke-width="0.22">4</text>
<text x="255.90" y="125.20" font-size="8.2" text-anchor="middle" fill="#000" stroke="#000" stroke-width="0.22">Scadding</text>
<text x="255.30" y="21.20" font-size="8.2" text-anchor="middle" fill="#000" font-weight="bold" font-style="italic">IFNG</text>
<text x="211.80" y="66.90" font-size="8.2" text-anchor="middle" fill="#000" stroke="#000" stroke-width="0.22" transform="rotate(-90 211.80 66.90)">FPKM</text>
<rect x="227.40" y="102.05" width="12.20" height="1.50" fill="#111" stroke="none" stroke-width="1"/>
<line x1="247.50" y1="87.30" x2="247.50" y2="91.40" stroke="#555" stroke-width="1.4" stroke-linecap="butt"/>
<line x1="247.50" y1="101.70" x2="247.50" y2="102.80" stroke="#555" stroke-width="1.4" stroke-linecap="butt"/>
<line x1="244.40" y1="87.30" x2="250.60" y2="87.30" stroke="#1c1c1c" stroke-width="1.3" stroke-linecap="butt"/>
<line x1="244.40" y1="102.80" x2="250.60" y2="102.80" stroke="#1c1c1c" stroke-width="1.3" stroke-linecap="butt"/>
<rect x="241.75" y="91.40" width="11.50" height="10.30" fill="#e0884f" stroke="#7a7a7a" stroke-width="1.5"/>
<line x1="241.75" y1="98.30" x2="253.25" y2="98.30" stroke="#7a7a7a" stroke-width="1.2" stroke-linecap="butt"/>
<circle cx="247.50" cy="87.30" r="0.88" fill="#000"/>
<circle cx="246.70" cy="88.64" r="0.88" fill="#000"/>
<circle cx="248.30" cy="88.64" r="0.88" fill="#000"/>
<circle cx="247.50" cy="91.39" r="0.88" fill="#000"/>
<circle cx="245.90" cy="91.55" r="0.88" fill="#000"/>
<circle cx="247.50" cy="93.36" r="0.88" fill="#000"/>
<circle cx="249.10" cy="93.41" r="0.88" fill="#000"/>
<circle cx="245.90" cy="93.43" r="0.88" fill="#000"/>
<circle cx="244.30" cy="93.51" r="0.88" fill="#000"/>
<circle cx="250.70" cy="93.56" r="0.88" fill="#000"/>
<circle cx="247.50" cy="95.94" r="0.88" fill="#000"/>
<circle cx="245.90" cy="96.20" r="0.88" fill="#000"/>
<circle cx="249.10" cy="96.63" r="0.88" fill="#000"/>
<circle cx="250.70" cy="96.67" r="0.88" fill="#000"/>
<circle cx="244.30" cy="97.17" r="0.88" fill="#000"/>
<circle cx="251.72" cy="97.44" r="0.88" fill="#000"/>
<circle cx="247.50" cy="97.88" r="0.88" fill="#000"/>
<circle cx="245.90" cy="98.00" r="0.88" fill="#000"/>
<circle cx="249.10" cy="98.59" r="0.88" fill="#000"/>
<circle cx="247.50" cy="100.32" r="0.88" fill="#000"/>
<circle cx="249.10" cy="100.82" r="0.88" fill="#000"/>
<circle cx="245.90" cy="101.27" r="0.88" fill="#000"/>
<circle cx="250.70" cy="101.50" r="0.88" fill="#000"/>
<circle cx="247.50" cy="102.80" r="0.88" fill="#000"/>
<circle cx="247.50" cy="66.90" r="0.95" fill="#000"/>
<circle cx="247.50" cy="70.40" r="0.95" fill="#000"/>
<circle cx="247.50" cy="71.80" r="0.95" fill="#000"/>
<circle cx="247.50" cy="73.60" r="0.95" fill="#000"/>
<line x1="260.90" y1="66.90" x2="260.90" y2="83.10" stroke="#555" stroke-width="1.4" stroke-linecap="butt"/>
<line x1="260.90" y1="102.10" x2="260.90" y2="102.80" stroke="#555" stroke-width="1.4" stroke-linecap="butt"/>
<line x1="257.79" y1="66.90" x2="264.00" y2="66.90" stroke="#1c1c1c" stroke-width="1.3" stroke-linecap="butt"/>
<line x1="257.79" y1="102.80" x2="264.00" y2="102.80" stroke="#1c1c1c" stroke-width="1.3" stroke-linecap="butt"/>
<rect x="255.15" y="83.10" width="11.50" height="19.00" fill="#5aa65c" stroke="#7a7a7a" stroke-width="1.5"/>
<line x1="255.15" y1="96.00" x2="266.65" y2="96.00" stroke="#7a7a7a" stroke-width="1.2" stroke-linecap="butt"/>
<circle cx="260.90" cy="66.90" r="0.88" fill="#000"/>
<circle cx="259.30" cy="67.66" r="0.88" fill="#000"/>
<circle cx="261.70" cy="68.39" r="0.88" fill="#000"/>
<circle cx="260.90" cy="76.78" r="0.88" fill="#000"/>
<circle cx="260.90" cy="78.64" r="0.88" fill="#000"/>
<circle cx="260.90" cy="83.81" r="0.88" fill="#000"/>
<circle cx="259.30" cy="83.84" r="0.88" fill="#000"/>
<circle cx="262.50" cy="83.98" r="0.88" fill="#000"/>
<circle cx="260.90" cy="85.60" r="0.88" fill="#000"/>
<circle cx="259.30" cy="86.45" r="0.88" fill="#000"/>
<circle cx="260.90" cy="87.17" r="0.88" fill="#000"/>
<circle cx="262.50" cy="87.44" r="0.88" fill="#000"/>
<circle cx="260.10" cy="88.57" r="0.88" fill="#000"/>
<circle cx="261.70" cy="88.80" r="0.88" fill="#000"/>
<circle cx="258.50" cy="88.89" r="0.88" fill="#000"/>
<circle cx="263.30" cy="88.97" r="0.88" fill="#000"/>
<circle cx="256.90" cy="88.97" r="0.88" fill="#000"/>
<circle cx="260.90" cy="90.59" r="0.88" fill="#000"/>
<circle cx="262.50" cy="91.29" r="0.88" fill="#000"/>
<circle cx="260.90" cy="93.36" r="0.88" fill="#000"/>
<circle cx="259.30" cy="93.41" r="0.88" fill="#000"/>
<circle cx="262.50" cy="93.48" r="0.88" fill="#000"/>
<circle cx="257.70" cy="93.66" r="0.88" fill="#000"/>
<circle cx="264.10" cy="93.74" r="0.88" fill="#000"/>
<circle cx="262.94" cy="94.52" r="0.88" fill="#000"/>
<circle cx="260.90" cy="94.97" r="0.88" fill="#000"/>
<circle cx="259.30" cy="95.87" r="0.88" fill="#000"/>
<circle cx="262.50" cy="96.13" r="0.88" fill="#000"/>
<circle cx="264.10" cy="96.20" r="0.88" fill="#000"/>
<circle cx="257.70" cy="96.37" r="0.88" fill="#000"/>
<circle cx="260.90" cy="97.07" r="0.88" fill="#000"/>
<circle cx="258.31" cy="97.37" r="0.88" fill="#000"/>
<circle cx="262.50" cy="98.12" r="0.88" fill="#000"/>
<circle cx="260.10" cy="98.48" r="0.88" fill="#000"/>
<circle cx="264.10" cy="98.50" r="0.88" fill="#000"/>
<circle cx="256.90" cy="98.50" r="0.88" fill="#000"/>
<circle cx="261.70" cy="99.75" r="0.88" fill="#000"/>
<circle cx="260.10" cy="100.22" r="0.88" fill="#000"/>
<circle cx="263.30" cy="100.39" r="0.88" fill="#000"/>
<circle cx="258.50" cy="100.60" r="0.88" fill="#000"/>
<circle cx="260.90" cy="102.10" r="0.88" fill="#000"/>
<circle cx="262.50" cy="102.80" r="0.88" fill="#000"/>
<circle cx="260.90" cy="36.10" r="0.95" fill="#000"/>
<circle cx="260.90" cy="50.70" r="0.95" fill="#000"/>
<circle cx="260.90" cy="54.20" r="0.95" fill="#000"/>
<line x1="274.60" y1="82.70" x2="274.60" y2="86.30" stroke="#555" stroke-width="1.4" stroke-linecap="butt"/>
<line x1="274.60" y1="95.40" x2="274.60" y2="102.40" stroke="#555" stroke-width="1.4" stroke-linecap="butt"/>
<line x1="271.50" y1="82.70" x2="277.71" y2="82.70" stroke="#1c1c1c" stroke-width="1.3" stroke-linecap="butt"/>
<line x1="271.50" y1="102.40" x2="277.71" y2="102.40" stroke="#1c1c1c" stroke-width="1.3" stroke-linecap="butt"/>
<rect x="268.85" y="86.30" width="11.50" height="9.10" fill="#cf5559" stroke="#7a7a7a" stroke-width="1.5"/>
<line x1="268.85" y1="93.90" x2="280.35" y2="93.90" stroke="#7a7a7a" stroke-width="1.2" stroke-linecap="butt"/>
<circle cx="274.60" cy="82.70" r="0.88" fill="#000"/>
<circle cx="274.60" cy="88.13" r="0.88" fill="#000"/>
<circle cx="274.60" cy="89.95" r="0.88" fill="#000"/>
<circle cx="273.00" cy="90.25" r="0.88" fill="#000"/>
<circle cx="276.20" cy="90.77" r="0.88" fill="#000"/>
<circle cx="277.80" cy="91.08" r="0.88" fill="#000"/>
<circle cx="271.40" cy="91.20" r="0.88" fill="#000"/>
<circle cx="273.46" cy="91.39" r="0.88" fill="#000"/>
<circle cx="274.60" cy="93.71" r="0.88" fill="#000"/>
<circle cx="274.60" cy="100.79" r="0.88" fill="#000"/>
<circle cx="274.60" cy="102.40" r="0.88" fill="#000"/>
<circle cx="274.60" cy="58.10" r="0.95" fill="#000"/>
<polyline points="234.30,32.20 234.30,30.60 274.80,30.60 274.80,32.20" fill="none" stroke="#555" stroke-width="0.8"/>
<text x="254.70" y="29.60" font-size="5.9" text-anchor="middle" fill="#000" stroke="#000" stroke-width="0.22">p=0.009</text>
<polyline points="233.10,44.20 233.10,42.60 262.10,42.60 262.10,44.20" fill="none" stroke="#555" stroke-width="0.8"/>
<text x="247.10" y="41.60" font-size="5.9" text-anchor="middle" fill="#000" stroke="#000" stroke-width="0.22">p=0.02</text>
<polyline points="233.50,61.20 233.50,59.60 247.70,59.60 247.70,61.20" fill="none" stroke="#555" stroke-width="0.8"/>
<text x="241.90" y="56.60" font-size="5.9" text-anchor="middle" fill="#000" stroke="#000" stroke-width="0.22">p=0.03</text>
<rect x="304.70" y="32.60" width="54.00" height="74.40" fill="#fff" stroke="#dcdcdc" stroke-width="0.8"/>
<line x1="304.70" y1="34.80" x2="358.70" y2="34.80" stroke="#e4e4e4" stroke-width="0.8" stroke-linecap="butt"/>
<text x="302.50" y="38.50" font-size="8.0" text-anchor="end" fill="#000" stroke="#000" stroke-width="0.22">30</text>
<line x1="304.70" y1="46.20" x2="358.70" y2="46.20" stroke="#e4e4e4" stroke-width="0.8" stroke-linecap="butt"/>
<text x="302.50" y="49.30" font-size="8.0" text-anchor="end" fill="#000" stroke="#000" stroke-width="0.22">25</text>
<line x1="304.70" y1="57.60" x2="358.70" y2="57.60" stroke="#e4e4e4" stroke-width="0.8" stroke-linecap="butt"/>
<text x="302.50" y="60.60" font-size="8.0" text-anchor="end" fill="#000" stroke="#000" stroke-width="0.22">20</text>
<line x1="304.70" y1="69.00" x2="358.70" y2="69.00" stroke="#e4e4e4" stroke-width="0.8" stroke-linecap="butt"/>
<text x="302.50" y="72.40" font-size="8.0" text-anchor="end" fill="#000" stroke="#000" stroke-width="0.22">15</text>
<line x1="304.70" y1="80.40" x2="358.70" y2="80.40" stroke="#e4e4e4" stroke-width="0.8" stroke-linecap="butt"/>
<text x="302.50" y="83.80" font-size="8.0" text-anchor="end" fill="#000" stroke="#000" stroke-width="0.22">10</text>
<line x1="304.70" y1="91.80" x2="358.70" y2="91.80" stroke="#e4e4e4" stroke-width="0.8" stroke-linecap="butt"/>
<text x="302.50" y="95.40" font-size="8.0" text-anchor="end" fill="#000" stroke="#000" stroke-width="0.22">5</text>
<line x1="304.70" y1="103.20" x2="358.70" y2="103.20" stroke="#e4e4e4" stroke-width="0.8" stroke-linecap="butt"/>
<text x="302.50" y="106.20" font-size="8.0" text-anchor="end" fill="#000" stroke="#000" stroke-width="0.22">0</text>
<line x1="311.50" y1="107.20" x2="311.50" y2="108.40" stroke="#333" stroke-width="0.9" stroke-linecap="butt"/>
<text x="311.50" y="116.60" font-size="8.0" text-anchor="middle" fill="#000" stroke="#000" stroke-width="0.22">C</text>
<line x1="325.00" y1="107.20" x2="325.00" y2="108.40" stroke="#333" stroke-width="0.9" stroke-linecap="butt"/>
<text x="325.00" y="116.60" font-size="8.0" text-anchor="middle" fill="#000" stroke="#000" stroke-width="0.22">1</text>
<line x1="339.00" y1="107.20" x2="339.00" y2="108.40" stroke="#333" stroke-width="0.9" stroke-linecap="butt"/>
<text x="339.00" y="116.60" font-size="8.0" text-anchor="middle" fill="#000" stroke="#000" stroke-width="0.22">2/3</text>
<line x1="352.00" y1="107.20" x2="352.00" y2="108.40" stroke="#333" stroke-width="0.9" stroke-linecap="butt"/>
<text x="352.00" y="116.60" font-size="8.0" text-anchor="middle" fill="#000" stroke="#000" stroke-width="0.22">4</text>
<text x="334.20" y="125.60" font-size="8.2" text-anchor="middle" fill="#000" stroke="#000" stroke-width="0.22">Scadding</text>
<text x="330.20" y="21.20" font-size="8.2" text-anchor="middle" fill="#000" font-weight="bold" font-style="italic">IL4</text>
<rect x="319.00" y="102.35" width="12.40" height="1.50" fill="#1a1a1a" stroke="none" stroke-width="1"/>
<circle cx="324.68" cy="102.57" r="0.8" fill="#000"/>
<circle cx="323.16" cy="102.90" r="0.8" fill="#000"/>
<circle cx="325.99" cy="102.46" r="0.8" fill="#000"/>
<circle cx="325.38" cy="102.25" r="0.8" fill="#000"/>
<circle cx="325.87" cy="102.24" r="0.8" fill="#000"/>
<circle cx="323.60" cy="102.36" r="0.8" fill="#000"/>
<circle cx="327.06" cy="102.20" r="0.8" fill="#000"/>
<circle cx="324.10" cy="102.79" r="0.8" fill="#000"/>
<rect x="333.00" y="102.35" width="12.40" height="1.50" fill="#777" stroke="none" stroke-width="1"/>
<rect x="346.00" y="102.35" width="12.40" height="1.50" fill="#1a1a1a" stroke="none" stroke-width="1"/>
<circle cx="354.74" cy="102.88" r="0.8" fill="#000"/>
<circle cx="355.19" cy="102.21" r="0.8" fill="#000"/>
<circle cx="350.00" cy="102.86" r="0.8" fill="#000"/>
<circle cx="353.56" cy="102.84" r="0.8" fill="#000"/>
<circle cx="349.78" cy="102.27" r="0.8" fill="#000"/>
<circle cx="351.73" cy="102.31" r="0.8" fill="#000"/>
<circle cx="349.96" cy="102.70" r="0.8" fill="#000"/>
<circle cx="353.31" cy="103.08" r="0.8" fill="#000"/>
<text x="306.10" y="102.00" font-size="5.6" text-anchor="start" fill="#000" stroke="#000" stroke-width="0.22">ND</text>
<rect x="386.70" y="32.60" width="54.10" height="74.40" fill="#fff" stroke="#dcdcdc" stroke-width="0.8"/>
<line x1="386.70" y1="34.80" x2="440.80" y2="34.80" stroke="#e4e4e4" stroke-width="0.8" stroke-linecap="butt"/>
<text x="384.20" y="38.50" font-size="8.0" text-anchor="end" fill="#000" stroke="#000" stroke-width="0.22">30</text>
<line x1="386.70" y1="46.20" x2="440.80" y2="46.20" stroke="#e4e4e4" stroke-width="0.8" stroke-linecap="butt"/>
<text x="384.20" y="49.30" font-size="8.0" text-anchor="end" fill="#000" stroke="#000" stroke-width="0.22">25</text>
<line x1="386.70" y1="57.60" x2="440.80" y2="57.60" stroke="#e4e4e4" stroke-width="0.8" stroke-linecap="butt"/>
<text x="384.20" y="60.60" font-size="8.0" text-anchor="end" fill="#000" stroke="#000" stroke-width="0.22">20</text>
<line x1="386.70" y1="69.00" x2="440.80" y2="69.00" stroke="#e4e4e4" stroke-width="0.8" stroke-linecap="butt"/>
<text x="384.20" y="72.40" font-size="8.0" text-anchor="end" fill="#000" stroke="#000" stroke-width="0.22">15</text>
<line x1="386.70" y1="80.40" x2="440.80" y2="80.40" stroke="#e4e4e4" stroke-width="0.8" stroke-linecap="butt"/>
<text x="384.20" y="83.80" font-size="8.0" text-anchor="end" fill="#000" stroke="#000" stroke-width="0.22">10</text>
<line x1="386.70" y1="91.80" x2="440.80" y2="91.80" stroke="#e4e4e4" stroke-width="0.8" stroke-linecap="butt"/>
<text x="384.20" y="95.40" font-size="8.0" text-anchor="end" fill="#000" stroke="#000" stroke-width="0.22">5</text>
<line x1="386.70" y1="103.20" x2="440.80" y2="103.20" stroke="#e4e4e4" stroke-width="0.8" stroke-linecap="butt"/>
<text x="384.20" y="106.20" font-size="8.0" text-anchor="end" fill="#000" stroke="#000" stroke-width="0.22">0</text>
<line x1="392.80" y1="107.20" x2="392.80" y2="108.40" stroke="#333" stroke-width="0.9" stroke-linecap="butt"/>
<text x="392.80" y="116.60" font-size="8.0" text-anchor="middle" fill="#000" stroke="#000" stroke-width="0.22">C</text>
<line x1="406.40" y1="107.20" x2="406.40" y2="108.40" stroke="#333" stroke-width="0.9" stroke-linecap="butt"/>
<text x="406.40" y="116.60" font-size="8.0" text-anchor="middle" fill="#000" stroke="#000" stroke-width="0.22">1</text>
<line x1="420.40" y1="107.20" x2="420.40" y2="108.40" stroke="#333" stroke-width="0.9" stroke-linecap="butt"/>
<text x="420.40" y="116.60" font-size="8.0" text-anchor="middle" fill="#000" stroke="#000" stroke-width="0.22">2/3</text>
<line x1="433.20" y1="107.20" x2="433.20" y2="108.40" stroke="#333" stroke-width="0.9" stroke-linecap="butt"/>
<text x="433.20" y="116.60" font-size="8.0" text-anchor="middle" fill="#000" stroke="#000" stroke-width="0.22">4</text>
<text x="414.80" y="125.60" font-size="8.2" text-anchor="middle" fill="#000" stroke="#000" stroke-width="0.22">Scadding</text>
<text x="412.60" y="21.20" font-size="8.2" text-anchor="middle" fill="#000" font-weight="bold" font-style="italic">IL13</text>
<rect x="386.80" y="102.35" width="12.40" height="1.50" fill="#1a1a1a" stroke="none" stroke-width="1"/>
<rect x="400.40" y="102.35" width="12.40" height="1.50" fill="#777" stroke="none" stroke-width="1"/>
<rect x="414.40" y="102.35" width="12.40" height="1.50" fill="#1a1a1a" stroke="none" stroke-width="1"/>
<circle cx="418.81" cy="102.42" r="0.8" fill="#000"/>
<circle cx="423.07" cy="102.13" r="0.8" fill="#000"/>
<circle cx="418.29" cy="102.59" r="0.8" fill="#000"/>
<circle cx="422.15" cy="102.60" r="0.8" fill="#000"/>
<circle cx="421.71" cy="102.91" r="0.8" fill="#000"/>
<circle cx="418.02" cy="102.99" r="0.8" fill="#000"/>
<circle cx="417.82" cy="102.55" r="0.8" fill="#000"/>
<circle cx="420.69" cy="102.53" r="0.8" fill="#000"/>
<rect x="427.20" y="102.35" width="12.40" height="1.50" fill="#777" stroke="none" stroke-width="1"/>
<rect x="468.80" y="32.60" width="54.50" height="74.40" fill="#fff" stroke="#dcdcdc" stroke-width="0.8"/>
<line x1="468.80" y1="34.80" x2="523.30" y2="34.80" stroke="#e4e4e4" stroke-width="0.8" stroke-linecap="butt"/>
<text x="466.10" y="38.50" font-size="8.0" text-anchor="end" fill="#000" stroke="#000" stroke-width="0.22">30</text>
<line x1="468.80" y1="46.20" x2="523.30" y2="46.20" stroke="#e4e4e4" stroke-width="0.8" stroke-linecap="butt"/>
<text x="466.10" y="49.30" font-size="8.0" text-anchor="end" fill="#000" stroke="#000" stroke-width="0.22">25</text>
<line x1="468.80" y1="57.60" x2="523.30" y2="57.60" stroke="#e4e4e4" stroke-width="0.8" stroke-linecap="butt"/>
<text x="466.10" y="60.60" font-size="8.0" text-anchor="end" fill="#000" stroke="#000" stroke-width="0.22">20</text>
<line x1="468.80" y1="69.00" x2="523.30" y2="69.00" stroke="#e4e4e4" stroke-width="0.8" stroke-linecap="butt"/>
<text x="466.10" y="72.40" font-size="8.0" text-anchor="end" fill="#000" stroke="#000" stroke-width="0.22">15</text>
<line x1="468.80" y1="80.40" x2="523.30" y2="80.40" stroke="#e4e4e4" stroke-width="0.8" stroke-linecap="butt"/>
<text x="466.10" y="83.80" font-size="8.0" text-anchor="end" fill="#000" stroke="#000" stroke-width="0.22">10</text>
<line x1="468.80" y1="91.80" x2="523.30" y2="91.80" stroke="#e4e4e4" stroke-width="0.8" stroke-linecap="butt"/>
<text x="466.10" y="95.40" font-size="8.0" text-anchor="end" fill="#000" stroke="#000" stroke-width="0.22">5</text>
<line x1="468.80" y1="103.20" x2="523.30" y2="103.20" stroke="#e4e4e4" stroke-width="0.8" stroke-linecap="butt"/>
<text x="466.10" y="106.20" font-size="8.0" text-anchor="end" fill="#000" stroke="#000" stroke-width="0.22">0</text>
<line x1="474.60" y1="107.20" x2="474.60" y2="108.40" stroke="#333" stroke-width="0.9" stroke-linecap="butt"/>
<text x="474.60" y="116.60" font-size="8.0" text-anchor="middle" fill="#000" stroke="#000" stroke-width="0.22">C</text>
<line x1="488.40" y1="107.20" x2="488.40" y2="108.40" stroke="#333" stroke-width="0.9" stroke-linecap="butt"/>
<text x="488.40" y="116.60" font-size="8.0" text-anchor="middle" fill="#000" stroke="#000" stroke-width="0.22">1</text>
<line x1="502.40" y1="107.20" x2="502.40" y2="108.40" stroke="#333" stroke-width="0.9" stroke-linecap="butt"/>
<text x="502.40" y="116.60" font-size="8.0" text-anchor="middle" fill="#000" stroke="#000" stroke-width="0.22">2/3</text>
<line x1="515.40" y1="107.20" x2="515.40" y2="108.40" stroke="#333" stroke-width="0.9" stroke-linecap="butt"/>
<text x="515.40" y="116.60" font-size="8.0" text-anchor="middle" fill="#000" stroke="#000" stroke-width="0.22">4</text>
<text x="495.40" y="125.60" font-size="8.2" text-anchor="middle" fill="#000" stroke="#000" stroke-width="0.22">Scadding</text>
<text x="494.60" y="21.20" font-size="8.2" text-anchor="middle" fill="#000" font-weight="bold" font-style="italic">IL17A</text>
<rect x="468.60" y="102.35" width="12.40" height="1.50" fill="#777" stroke="none" stroke-width="1"/>
<rect x="482.40" y="102.35" width="12.40" height="1.50" fill="#777" stroke="none" stroke-width="1"/>
<rect x="496.40" y="102.35" width="12.40" height="1.50" fill="#777" stroke="none" stroke-width="1"/>
<rect x="509.40" y="102.35" width="12.40" height="1.50" fill="#1a1a1a" stroke="none" stroke-width="1"/>
<circle cx="513.48" cy="102.92" r="0.8" fill="#000"/>
<circle cx="513.82" cy="102.26" r="0.8" fill="#000"/>
<circle cx="518.54" cy="102.17" r="0.8" fill="#000"/>
<circle cx="513.17" cy="103.04" r="0.8" fill="#000"/>
<circle cx="518.31" cy="102.64" r="0.8" fill="#000"/>
<circle cx="517.19" cy="102.77" r="0.8" fill="#000"/>
<circle cx="515.40" cy="102.58" r="0.8" fill="#000"/>
<circle cx="515.18" cy="102.50" r="0.8" fill="#000"/>
<rect x="550.70" y="32.60" width="54.50" height="74.40" fill="#fff" stroke="#dcdcdc" stroke-width="0.8"/>
<line x1="550.70" y1="34.80" x2="605.20" y2="34.80" stroke="#e4e4e4" stroke-width="0.8" stroke-linecap="butt"/>
<text x="547.80" y="38.50" font-size="8.0" text-anchor="end" fill="#000" stroke="#000" stroke-width="0.22">30</text>
<line x1="550.70" y1="46.20" x2="605.20" y2="46.20" stroke="#e4e4e4" stroke-width="0.8" stroke-linecap="butt"/>
<text x="547.80" y="49.30" font-size="8.0" text-anchor="end" fill="#000" stroke="#000" stroke-width="0.22">25</text>
<line x1="550.70" y1="57.60" x2="605.20" y2="57.60" stroke="#e4e4e4" stroke-width="0.8" stroke-linecap="butt"/>
<text x="547.80" y="60.60" font-size="8.0" text-anchor="end" fill="#000" stroke="#000" stroke-width="0.22">20</text>
<line x1="550.70" y1="69.00" x2="605.20" y2="69.00" stroke="#e4e4e4" stroke-width="0.8" stroke-linecap="butt"/>
<text x="547.80" y="72.40" font-size="8.0" text-anchor="end" fill="#000" stroke="#000" stroke-width="0.22">15</text>
<line x1="550.70" y1="80.40" x2="605.20" y2="80.40" stroke="#e4e4e4" stroke-width="0.8" stroke-linecap="butt"/>
<text x="547.80" y="83.80" font-size="8.0" text-anchor="end" fill="#000" stroke="#000" stroke-width="0.22">10</text>
<line x1="550.70" y1="91.80" x2="605.20" y2="91.80" stroke="#e4e4e4" stroke-width="0.8" stroke-linecap="butt"/>
<text x="547.80" y="95.40" font-size="8.0" text-anchor="end" fill="#000" stroke="#000" stroke-width="0.22">5</text>
<line x1="550.70" y1="103.20" x2="605.20" y2="103.20" stroke="#e4e4e4" stroke-width="0.8" stroke-linecap="butt"/>
<text x="547.80" y="106.20" font-size="8.0" text-anchor="end" fill="#000" stroke="#000" stroke-width="0.22">0</text>
<line x1="557.00" y1="107.20" x2="557.00" y2="108.40" stroke="#333" stroke-width="0.9" stroke-linecap="butt"/>
<text x="557.00" y="116.60" font-size="8.0" text-anchor="middle" fill="#000" stroke="#000" stroke-width="0.22">C</text>
<line x1="570.40" y1="107.20" x2="570.40" y2="108.40" stroke="#333" stroke-width="0.9" stroke-linecap="butt"/>
<text x="570.40" y="116.60" font-size="8.0" text-anchor="middle" fill="#000" stroke="#000" stroke-width="0.22">1</text>
<line x1="584.40" y1="107.20" x2="584.40" y2="108.40" stroke="#333" stroke-width="0.9" stroke-linecap="butt"/>
<text x="584.40" y="116.60" font-size="8.0" text-anchor="middle" fill="#000" stroke="#000" stroke-width="0.22">2/3</text>
<line x1="597.40" y1="107.20" x2="597.40" y2="108.40" stroke="#333" stroke-width="0.9" stroke-linecap="butt"/>
<text x="597.40" y="116.60" font-size="8.0" text-anchor="middle" fill="#000" stroke="#000" stroke-width="0.22">4</text>
<text x="579.20" y="125.60" font-size="8.2" text-anchor="middle" fill="#000" stroke="#000" stroke-width="0.22">Scadding</text>
<text x="577.60" y="21.20" font-size="8.2" text-anchor="middle" fill="#000" font-weight="bold" font-style="italic">IL17F</text>
<rect x="564.40" y="102.35" width="12.40" height="1.50" fill="#1a1a1a" stroke="none" stroke-width="1"/>
<circle cx="567.68" cy="102.40" r="0.8" fill="#000"/>
<circle cx="572.67" cy="102.92" r="0.8" fill="#000"/>
<circle cx="570.32" cy="102.36" r="0.8" fill="#000"/>
<circle cx="570.03" cy="102.90" r="0.8" fill="#000"/>
<circle cx="568.59" cy="102.59" r="0.8" fill="#000"/>
<circle cx="567.69" cy="102.21" r="0.8" fill="#000"/>
<circle cx="572.41" cy="102.40" r="0.8" fill="#000"/>
<circle cx="572.76" cy="102.47" r="0.8" fill="#000"/>
<rect x="578.40" y="102.35" width="12.40" height="1.50" fill="#1a1a1a" stroke="none" stroke-width="1"/>
<circle cx="584.03" cy="102.50" r="0.8" fill="#000"/>
<circle cx="584.63" cy="102.12" r="0.8" fill="#000"/>
<circle cx="586.43" cy="102.84" r="0.8" fill="#000"/>
<circle cx="587.07" cy="102.36" r="0.8" fill="#000"/>
<circle cx="586.27" cy="102.29" r="0.8" fill="#000"/>
<circle cx="584.03" cy="102.20" r="0.8" fill="#000"/>
<circle cx="586.88" cy="102.41" r="0.8" fill="#000"/>
<circle cx="586.20" cy="102.33" r="0.8" fill="#000"/>
<rect x="591.40" y="102.35" width="12.40" height="1.50" fill="#1a1a1a" stroke="none" stroke-width="1"/>
<circle cx="597.03" cy="102.38" r="0.8" fill="#000"/>
<circle cx="595.02" cy="102.76" r="0.8" fill="#000"/>
<circle cx="597.41" cy="103.09" r="0.8" fill="#000"/>
<circle cx="596.73" cy="102.46" r="0.8" fill="#000"/>
<circle cx="598.34" cy="102.87" r="0.8" fill="#000"/>
<circle cx="600.27" cy="102.43" r="0.8" fill="#000"/>
<circle cx="596.63" cy="102.44" r="0.8" fill="#000"/>
<circle cx="598.02" cy="102.57" r="0.8" fill="#000"/>
<text x="552.10" y="102.00" font-size="5.6" text-anchor="start" fill="#000" stroke="#000" stroke-width="0.22">ND</text>
<rect x="628.40" y="30.60" width="56.10" height="75.70" fill="#fff" stroke="#dcdcdc" stroke-width="0.8"/>
<line x1="628.40" y1="42.40" x2="684.50" y2="42.40" stroke="#e4e4e4" stroke-width="0.8" stroke-linecap="butt"/>
<text x="627.20" y="45.70" font-size="8.0" text-anchor="end" fill="#000" stroke="#000" stroke-width="0.22">200</text>
<line x1="628.40" y1="58.20" x2="684.50" y2="58.20" stroke="#e4e4e4" stroke-width="0.8" stroke-linecap="butt"/>
<text x="627.20" y="60.90" font-size="8.0" text-anchor="end" fill="#000" stroke="#000" stroke-width="0.22">150</text>
<line x1="628.40" y1="73.20" x2="684.50" y2="73.20" stroke="#e4e4e4" stroke-width="0.8" stroke-linecap="butt"/>
<text x="627.20" y="76.10" font-size="8.0" text-anchor="end" fill="#000" stroke="#000" stroke-width="0.22">100</text>
<line x1="628.40" y1="88.10" x2="684.50" y2="88.10" stroke="#e4e4e4" stroke-width="0.8" stroke-linecap="butt"/>
<text x="627.20" y="91.10" font-size="8.0" text-anchor="end" fill="#000" stroke="#000" stroke-width="0.22">50</text>
<line x1="628.40" y1="103.00" x2="684.50" y2="103.00" stroke="#e4e4e4" stroke-width="0.8" stroke-linecap="butt"/>
<text x="627.20" y="106.10" font-size="8.0" text-anchor="end" fill="#000" stroke="#000" stroke-width="0.22">0</text>
<line x1="635.70" y1="106.50" x2="635.70" y2="107.70" stroke="#333" stroke-width="0.9" stroke-linecap="butt"/>
<text x="635.70" y="115.90" font-size="8.0" text-anchor="middle" fill="#000" stroke="#000" stroke-width="0.22">C</text>
<line x1="649.20" y1="106.50" x2="649.20" y2="107.70" stroke="#333" stroke-width="0.9" stroke-linecap="butt"/>
<text x="649.20" y="115.90" font-size="8.0" text-anchor="middle" fill="#000" stroke="#000" stroke-width="0.22">1</text>
<line x1="663.00" y1="106.50" x2="663.00" y2="107.70" stroke="#333" stroke-width="0.9" stroke-linecap="butt"/>
<text x="663.00" y="115.90" font-size="8.0" text-anchor="middle" fill="#000" stroke="#000" stroke-width="0.22">2/3</text>
<line x1="676.50" y1="106.50" x2="676.50" y2="107.70" stroke="#333" stroke-width="0.9" stroke-linecap="butt"/>
<text x="676.50" y="115.90" font-size="8.0" text-anchor="middle" fill="#000" stroke="#000" stroke-width="0.22">4</text>
<text x="658.00" y="124.90" font-size="8.2" text-anchor="middle" fill="#000" stroke="#000" stroke-width="0.22">Scadding</text>
<text x="657.20" y="21.20" font-size="8.2" text-anchor="middle" fill="#000" font-weight="bold" font-style="italic">TNF</text>
<rect x="630.30" y="102.35" width="11.40" height="1.30" fill="#111" stroke="none" stroke-width="1"/>
<line x1="649.40" y1="93.60" x2="649.40" y2="97.20" stroke="#555" stroke-width="1.4" stroke-linecap="butt"/>
<line x1="649.40" y1="100.80" x2="649.40" y2="102.00" stroke="#555" stroke-width="1.4" stroke-linecap="butt"/>
<line x1="646.16" y1="93.60" x2="652.64" y2="93.60" stroke="#1c1c1c" stroke-width="1.3" stroke-linecap="butt"/>
<line x1="646.16" y1="102.00" x2="652.64" y2="102.00" stroke="#1c1c1c" stroke-width="1.3" stroke-linecap="butt"/>
<rect x="643.40" y="97.20" width="12.00" height="3.60" fill="#141414" stroke="#141414" stroke-width="1.5"/>
<circle cx="649.40" cy="93.60" r="0.88" fill="#000"/>
<circle cx="651.00" cy="93.98" r="0.88" fill="#000"/>
<circle cx="647.80" cy="94.22" r="0.88" fill="#000"/>
<circle cx="646.20" cy="94.24" r="0.88" fill="#000"/>
<circle cx="649.40" cy="97.41" r="0.88" fill="#000"/>
<circle cx="651.00" cy="97.53" r="0.88" fill="#000"/>
<circle cx="647.80" cy="97.61" r="0.88" fill="#000"/>
<circle cx="646.20" cy="98.14" r="0.88" fill="#000"/>
<circle cx="652.60" cy="98.22" r="0.88" fill="#000"/>
<circle cx="647.91" cy="98.22" r="0.88" fill="#000"/>
<circle cx="648.89" cy="98.23" r="0.88" fill="#000"/>
<circle cx="647.48" cy="98.28" r="0.88" fill="#000"/>
<circle cx="645.52" cy="98.40" r="0.88" fill="#000"/>
<circle cx="645.50" cy="98.41" r="0.88" fill="#000"/>
<circle cx="652.91" cy="98.45" r="0.88" fill="#000"/>
<circle cx="651.33" cy="98.56" r="0.88" fill="#000"/>
<circle cx="648.48" cy="98.79" r="0.88" fill="#000"/>
<circle cx="651.03" cy="98.85" r="0.88" fill="#000"/>
<circle cx="646.42" cy="98.92" r="0.88" fill="#000"/>
<circle cx="650.02" cy="99.03" r="0.88" fill="#000"/>
<circle cx="645.55" cy="99.08" r="0.88" fill="#000"/>
<circle cx="651.66" cy="99.10" r="0.88" fill="#000"/>
<circle cx="648.43" cy="99.42" r="0.88" fill="#000"/>
<circle cx="651.31" cy="99.67" r="0.88" fill="#000"/>
<circle cx="653.40" cy="99.92" r="0.88" fill="#000"/>
<circle cx="648.68" cy="99.94" r="0.88" fill="#000"/>
<circle cx="647.75" cy="100.00" r="0.88" fill="#000"/>
<circle cx="650.20" cy="100.78" r="0.88" fill="#000"/>
<circle cx="646.20" cy="100.80" r="0.88" fill="#000"/>
<circle cx="653.19" cy="101.00" r="0.88" fill="#000"/>
<circle cx="648.60" cy="101.60" r="0.88" fill="#000"/>
<circle cx="651.80" cy="102.00" r="0.88" fill="#000"/>
<circle cx="649.40" cy="85.00" r="0.95" fill="#000"/>
<circle cx="649.40" cy="91.70" r="0.95" fill="#000"/>
<polygon points="645.6,97 653.2,97 651,94.4 647.8,94.4" fill="#141414"/>
<line x1="663.40" y1="91.10" x2="663.40" y2="95.20" stroke="#555" stroke-width="1.4" stroke-linecap="butt"/>
<line x1="663.40" y1="101.00" x2="663.40" y2="102.20" stroke="#555" stroke-width="1.4" stroke-linecap="butt"/>
<line x1="660.11" y1="91.10" x2="666.69" y2="91.10" stroke="#1c1c1c" stroke-width="1.3" stroke-linecap="butt"/>
<line x1="660.11" y1="102.20" x2="666.69" y2="102.20" stroke="#1c1c1c" stroke-width="1.3" stroke-linecap="butt"/>
<rect x="657.30" y="95.20" width="12.20" height="5.80" fill="#141414" stroke="#141414" stroke-width="1.5"/>
<circle cx="663.40" cy="91.10" r="0.88" fill="#000"/>
<circle cx="665.00" cy="91.74" r="0.88" fill="#000"/>
<circle cx="663.40" cy="92.79" r="0.88" fill="#000"/>
<circle cx="663.40" cy="95.42" r="0.88" fill="#000"/>
<circle cx="665.00" cy="95.51" r="0.88" fill="#000"/>
<circle cx="661.80" cy="95.68" r="0.88" fill="#000"/>
<circle cx="660.20" cy="95.72" r="0.88" fill="#000"/>
<circle cx="666.60" cy="95.86" r="0.88" fill="#000"/>
<circle cx="667.88" cy="95.91" r="0.88" fill="#000"/>
<circle cx="664.75" cy="95.94" r="0.88" fill="#000"/>
<circle cx="665.49" cy="95.98" r="0.88" fill="#000"/>
<circle cx="661.95" cy="96.35" r="0.88" fill="#000"/>
<circle cx="666.39" cy="96.38" r="0.88" fill="#000"/>
<circle cx="664.08" cy="96.48" r="0.88" fill="#000"/>
<circle cx="661.05" cy="96.63" r="0.88" fill="#000"/>
<circle cx="667.40" cy="97.55" r="0.88" fill="#000"/>
<circle cx="662.60" cy="97.76" r="0.88" fill="#000"/>
<circle cx="664.20" cy="98.23" r="0.88" fill="#000"/>
<circle cx="661.00" cy="98.26" r="0.88" fill="#000"/>
<circle cx="665.80" cy="98.28" r="0.88" fill="#000"/>
<circle cx="659.40" cy="98.28" r="0.88" fill="#000"/>
<circle cx="664.30" cy="98.43" r="0.88" fill="#000"/>
<circle cx="661.63" cy="98.68" r="0.88" fill="#000"/>
<circle cx="659.10" cy="99.00" r="0.88" fill="#000"/>
<circle cx="667.40" cy="99.07" r="0.88" fill="#000"/>
<circle cx="665.44" cy="99.16" r="0.88" fill="#000"/>
<circle cx="662.59" cy="99.42" r="0.88" fill="#000"/>
<circle cx="659.88" cy="99.50" r="0.88" fill="#000"/>
<circle cx="667.15" cy="99.92" r="0.88" fill="#000"/>
<circle cx="664.20" cy="100.20" r="0.88" fill="#000"/>
<circle cx="659.94" cy="100.47" r="0.88" fill="#000"/>
<circle cx="663.64" cy="100.47" r="0.88" fill="#000"/>
<circle cx="666.77" cy="100.48" r="0.88" fill="#000"/>
<circle cx="659.71" cy="100.66" r="0.88" fill="#000"/>
<circle cx="665.50" cy="100.69" r="0.88" fill="#000"/>
<circle cx="661.80" cy="100.78" r="0.88" fill="#000"/>
<circle cx="662.08" cy="100.80" r="0.88" fill="#000"/>
<circle cx="663.40" cy="102.20" r="0.88" fill="#000"/>
<circle cx="663.40" cy="58.90" r="0.95" fill="#000"/>
<circle cx="663.40" cy="71.00" r="0.95" fill="#000"/>
<circle cx="663.40" cy="87.60" r="0.95" fill="#000"/>
<circle cx="662.00" cy="87.20" r="0.95" fill="#000"/>
<rect x="658.40" y="96.60" width="1.70" height="1.00" fill="#58b05c" stroke="none" stroke-width="1"/>
<rect x="661.00" y="96.60" width="1.70" height="1.00" fill="#58b05c" stroke="none" stroke-width="1"/>
<rect x="663.80" y="96.60" width="1.70" height="1.00" fill="#58b05c" stroke="none" stroke-width="1"/>
<rect x="666.40" y="96.60" width="1.70" height="1.00" fill="#58b05c" stroke="none" stroke-width="1"/>
<line x1="677.20" y1="96.40" x2="677.20" y2="97.20" stroke="#555" stroke-width="1.4" stroke-linecap="butt"/>
<line x1="677.20" y1="100.40" x2="677.20" y2="101.20" stroke="#555" stroke-width="1.4" stroke-linecap="butt"/>
<line x1="673.96" y1="96.40" x2="680.44" y2="96.40" stroke="#1c1c1c" stroke-width="1.3" stroke-linecap="butt"/>
<line x1="673.96" y1="101.20" x2="680.44" y2="101.20" stroke="#1c1c1c" stroke-width="1.3" stroke-linecap="butt"/>
<rect x="671.20" y="97.20" width="12.00" height="3.20" fill="#141414" stroke="#141414" stroke-width="1.5"/>
<circle cx="677.20" cy="96.40" r="0.88" fill="#000"/>
<circle cx="675.60" cy="97.37" r="0.88" fill="#000"/>
<circle cx="678.00" cy="97.90" r="0.88" fill="#000"/>
<circle cx="679.60" cy="98.29" r="0.88" fill="#000"/>
<circle cx="674.00" cy="98.32" r="0.88" fill="#000"/>
<circle cx="681.20" cy="98.55" r="0.88" fill="#000"/>
<circle cx="677.48" cy="98.56" r="0.88" fill="#000"/>
<circle cx="674.11" cy="98.79" r="0.88" fill="#000"/>
<circle cx="677.20" cy="100.64" r="0.88" fill="#000"/>
<circle cx="675.60" cy="100.88" r="0.88" fill="#000"/>
<circle cx="678.80" cy="100.94" r="0.88" fill="#000"/>
<circle cx="674.00" cy="101.20" r="0.88" fill="#000"/>
<polygon points="672.4,97.4 682,97.4 678.6,95.6 675.6,95.6" fill="#141414"/>
<polyline points="634.60,41.00 634.60,39.40 675.60,39.40 675.60,41.00" fill="none" stroke="#555" stroke-width="0.8"/>
<text x="650.20" y="38.30" font-size="5.9" text-anchor="middle" fill="#000" stroke="#000" stroke-width="0.22">p&lt;0.0001</text>
<circle cx="663.20" cy="33.60" r="0.8" fill="#000"/>
<polyline points="634.20,55.60 634.20,54.00 663.70,54.00 663.70,55.60" fill="none" stroke="#555" stroke-width="0.8"/>
<text x="647.90" y="52.80" font-size="5.9" text-anchor="middle" fill="#000" stroke="#000" stroke-width="0.22">NS</text>
<polyline points="635.30,82.20 635.30,80.60 649.60,80.60 649.60,82.20" fill="none" stroke="#555" stroke-width="0.8"/>
<text x="643.20" y="79.00" font-size="5.9" text-anchor="middle" fill="#000" stroke="#000" stroke-width="0.22">p=0.002</text>
<rect x="226.80" y="157.30" width="54.60" height="73.70" fill="#fff" stroke="#dcdcdc" stroke-width="0.8"/>
<line x1="226.80" y1="159.20" x2="281.40" y2="159.20" stroke="#e4e4e4" stroke-width="0.8" stroke-linecap="butt"/>
<text x="223.90" y="162.30" font-size="8.0" text-anchor="end" fill="#000" stroke="#000" stroke-width="0.22">250</text>
<line x1="226.80" y1="172.80" x2="281.40" y2="172.80" stroke="#e4e4e4" stroke-width="0.8" stroke-linecap="butt"/>
<text x="223.90" y="175.80" font-size="8.0" text-anchor="end" fill="#000" stroke="#000" stroke-width="0.22">200</text>
<line x1="226.80" y1="186.60" x2="281.40" y2="186.60" stroke="#e4e4e4" stroke-width="0.8" stroke-linecap="butt"/>
<text x="223.90" y="189.50" font-size="8.0" text-anchor="end" fill="#000" stroke="#000" stroke-width="0.22">150</text>
<line x1="226.80" y1="201.10" x2="281.40" y2="201.10" stroke="#e4e4e4" stroke-width="0.8" stroke-linecap="butt"/>
<text x="223.90" y="204.10" font-size="8.0" text-anchor="end" fill="#000" stroke="#000" stroke-width="0.22">100</text>
<line x1="226.80" y1="214.60" x2="281.40" y2="214.60" stroke="#e4e4e4" stroke-width="0.8" stroke-linecap="butt"/>
<text x="223.90" y="217.70" font-size="8.0" text-anchor="end" fill="#000" stroke="#000" stroke-width="0.22">50</text>
<line x1="226.80" y1="229.50" x2="281.40" y2="229.50" stroke="#e4e4e4" stroke-width="0.8" stroke-linecap="butt"/>
<text x="223.90" y="233.50" font-size="8.0" text-anchor="end" fill="#000" stroke="#000" stroke-width="0.22">0</text>
<line x1="233.40" y1="231.20" x2="233.40" y2="232.40" stroke="#333" stroke-width="0.9" stroke-linecap="butt"/>
<text x="233.40" y="240.60" font-size="8.0" text-anchor="middle" fill="#000" stroke="#000" stroke-width="0.22">C</text>
<line x1="247.40" y1="231.20" x2="247.40" y2="232.40" stroke="#333" stroke-width="0.9" stroke-linecap="butt"/>
<text x="247.40" y="240.60" font-size="8.0" text-anchor="middle" fill="#000" stroke="#000" stroke-width="0.22">1</text>
<line x1="261.10" y1="231.20" x2="261.10" y2="232.40" stroke="#333" stroke-width="0.9" stroke-linecap="butt"/>
<text x="261.10" y="240.60" font-size="8.0" text-anchor="middle" fill="#000" stroke="#000" stroke-width="0.22">2/3</text>
<line x1="274.70" y1="231.20" x2="274.70" y2="232.40" stroke="#333" stroke-width="0.9" stroke-linecap="butt"/>
<text x="274.70" y="240.60" font-size="8.0" text-anchor="middle" fill="#000" stroke="#000" stroke-width="0.22">4</text>
<text x="255.60" y="249.60" font-size="8.2" text-anchor="middle" fill="#000" stroke="#000" stroke-width="0.22">Scadding</text>
<text x="251.60" y="143.40" font-size="8.2" text-anchor="middle" fill="#000" font-weight="bold" font-style="italic">STAT1</text>
<text x="207.90" y="194.30" font-size="8.2" text-anchor="middle" fill="#000" stroke="#000" stroke-width="0.22" transform="rotate(-90 207.90 194.30)">FPKM</text>
<line x1="233.60" y1="225.60" x2="233.60" y2="226.00" stroke="#555" stroke-width="1.4" stroke-linecap="butt"/>
<line x1="233.60" y1="228.30" x2="233.60" y2="228.60" stroke="#555" stroke-width="1.4" stroke-linecap="butt"/>
<line x1="230.20" y1="225.60" x2="237.00" y2="225.60" stroke="#1c1c1c" stroke-width="1.3" stroke-linecap="butt"/>
<line x1="230.20" y1="228.60" x2="237.00" y2="228.60" stroke="#1c1c1c" stroke-width="1.3" stroke-linecap="butt"/>
<rect x="227.30" y="226.00" width="12.60" height="2.30" fill="#2a2a2a" stroke="#3a3a3a" stroke-width="1.5"/>
<circle cx="233.60" cy="225.60" r="0.88" fill="#000"/>
<circle cx="232.00" cy="225.76" r="0.88" fill="#000"/>
<circle cx="235.20" cy="226.38" r="0.88" fill="#000"/>
<circle cx="236.80" cy="226.58" r="0.88" fill="#000"/>
<circle cx="230.40" cy="226.59" r="0.88" fill="#000"/>
<circle cx="229.56" cy="226.67" r="0.88" fill="#000"/>
<circle cx="233.50" cy="227.00" r="0.88" fill="#000"/>
<circle cx="232.00" cy="227.37" r="0.88" fill="#000"/>
<circle cx="229.84" cy="227.83" r="0.88" fill="#000"/>
<circle cx="231.72" cy="227.85" r="0.88" fill="#000"/>
<circle cx="232.35" cy="227.85" r="0.88" fill="#000"/>
<circle cx="236.00" cy="227.88" r="0.88" fill="#000"/>
<circle cx="237.60" cy="227.99" r="0.88" fill="#000"/>
<circle cx="230.98" cy="228.11" r="0.88" fill="#000"/>
<circle cx="234.40" cy="228.26" r="0.88" fill="#000"/>
<circle cx="230.97" cy="228.60" r="0.88" fill="#000"/>
<line x1="247.40" y1="185.60" x2="247.40" y2="198.50" stroke="#555" stroke-width="1.4" stroke-linecap="butt"/>
<line x1="247.40" y1="211.60" x2="247.40" y2="219.20" stroke="#555" stroke-width="1.4" stroke-linecap="butt"/>
<line x1="244.30" y1="185.60" x2="250.50" y2="185.60" stroke="#1c1c1c" stroke-width="1.3" stroke-linecap="butt"/>
<line x1="244.30" y1="219.20" x2="250.50" y2="219.20" stroke="#1c1c1c" stroke-width="1.3" stroke-linecap="butt"/>
<rect x="241.65" y="198.50" width="11.50" height="13.10" fill="#e0884f" stroke="#7a7a7a" stroke-width="1.5"/>
<line x1="241.65" y1="206.10" x2="253.15" y2="206.10" stroke="#7a7a7a" stroke-width="1.2" stroke-linecap="butt"/>
<circle cx="247.40" cy="185.60" r="0.88" fill="#000"/>
<circle cx="247.40" cy="198.82" r="0.88" fill="#000"/>
<circle cx="245.80" cy="199.22" r="0.88" fill="#000"/>
<circle cx="249.00" cy="199.24" r="0.88" fill="#000"/>
<circle cx="250.60" cy="200.28" r="0.88" fill="#000"/>
<circle cx="247.40" cy="201.47" r="0.88" fill="#000"/>
<circle cx="249.00" cy="201.49" r="0.88" fill="#000"/>
<circle cx="245.80" cy="201.69" r="0.88" fill="#000"/>
<circle cx="244.20" cy="202.02" r="0.88" fill="#000"/>
<circle cx="250.60" cy="202.54" r="0.88" fill="#000"/>
<circle cx="250.20" cy="202.59" r="0.88" fill="#000"/>
<circle cx="246.15" cy="202.72" r="0.88" fill="#000"/>
<circle cx="248.20" cy="203.56" r="0.88" fill="#000"/>
<circle cx="244.20" cy="203.65" r="0.88" fill="#000"/>
<circle cx="249.80" cy="204.08" r="0.88" fill="#000"/>
<circle cx="247.40" cy="207.28" r="0.88" fill="#000"/>
<circle cx="249.00" cy="207.53" r="0.88" fill="#000"/>
<circle cx="245.80" cy="208.00" r="0.88" fill="#000"/>
<circle cx="250.60" cy="208.42" r="0.88" fill="#000"/>
<circle cx="247.40" cy="209.09" r="0.88" fill="#000"/>
<circle cx="249.00" cy="209.91" r="0.88" fill="#000"/>
<circle cx="247.40" cy="210.77" r="0.88" fill="#000"/>
<circle cx="245.80" cy="211.31" r="0.88" fill="#000"/>
<circle cx="247.40" cy="219.20" r="0.88" fill="#000"/>
<circle cx="247.40" cy="180.70" r="0.95" fill="#000"/>
<circle cx="246.90" cy="160.30" r="0.95" fill="#000"/>
<line x1="260.90" y1="165.50" x2="260.90" y2="188.00" stroke="#555" stroke-width="1.4" stroke-linecap="butt"/>
<line x1="260.90" y1="209.60" x2="260.90" y2="219.90" stroke="#555" stroke-width="1.4" stroke-linecap="butt"/>
<line x1="257.79" y1="165.50" x2="264.00" y2="165.50" stroke="#1c1c1c" stroke-width="1.3" stroke-linecap="butt"/>
<line x1="257.79" y1="219.90" x2="264.00" y2="219.90" stroke="#1c1c1c" stroke-width="1.3" stroke-linecap="butt"/>
<rect x="255.15" y="188.00" width="11.50" height="21.60" fill="#5aa65c" stroke="#7a7a7a" stroke-width="1.5"/>
<line x1="255.15" y1="203.80" x2="266.65" y2="203.80" stroke="#7a7a7a" stroke-width="1.2" stroke-linecap="butt"/>
<circle cx="260.90" cy="165.50" r="0.88" fill="#000"/>
<circle cx="260.90" cy="176.04" r="0.88" fill="#000"/>
<circle cx="260.90" cy="179.90" r="0.88" fill="#000"/>
<circle cx="260.90" cy="181.48" r="0.88" fill="#000"/>
<circle cx="260.90" cy="188.46" r="0.88" fill="#000"/>
<circle cx="262.50" cy="188.87" r="0.88" fill="#000"/>
<circle cx="259.30" cy="189.46" r="0.88" fill="#000"/>
<circle cx="264.10" cy="189.48" r="0.88" fill="#000"/>
<circle cx="257.70" cy="189.72" r="0.88" fill="#000"/>
<circle cx="260.90" cy="190.71" r="0.88" fill="#000"/>
<circle cx="259.30" cy="191.07" r="0.88" fill="#000"/>
<circle cx="262.50" cy="191.40" r="0.88" fill="#000"/>
<circle cx="257.70" cy="192.05" r="0.88" fill="#000"/>
<circle cx="264.10" cy="192.15" r="0.88" fill="#000"/>
<circle cx="260.90" cy="194.41" r="0.88" fill="#000"/>
<circle cx="259.30" cy="195.19" r="0.88" fill="#000"/>
<circle cx="262.50" cy="195.38" r="0.88" fill="#000"/>
<circle cx="264.10" cy="195.82" r="0.88" fill="#000"/>
<circle cx="260.90" cy="196.35" r="0.88" fill="#000"/>
<circle cx="258.50" cy="196.68" r="0.88" fill="#000"/>
<circle cx="260.90" cy="199.16" r="0.88" fill="#000"/>
<circle cx="262.50" cy="199.39" r="0.88" fill="#000"/>
<circle cx="259.30" cy="199.73" r="0.88" fill="#000"/>
<circle cx="260.90" cy="201.60" r="0.88" fill="#000"/>
<circle cx="262.50" cy="201.69" r="0.88" fill="#000"/>
<circle cx="259.30" cy="201.74" r="0.88" fill="#000"/>
<circle cx="257.70" cy="202.08" r="0.88" fill="#000"/>
<circle cx="264.10" cy="202.43" r="0.88" fill="#000"/>
<circle cx="261.70" cy="202.99" r="0.88" fill="#000"/>
<circle cx="260.10" cy="203.10" r="0.88" fill="#000"/>
<circle cx="258.50" cy="203.83" r="0.88" fill="#000"/>
<circle cx="263.30" cy="204.05" r="0.88" fill="#000"/>
<circle cx="260.90" cy="205.32" r="0.88" fill="#000"/>
<circle cx="262.50" cy="205.62" r="0.88" fill="#000"/>
<circle cx="259.30" cy="206.01" r="0.88" fill="#000"/>
<circle cx="264.10" cy="206.34" r="0.88" fill="#000"/>
<circle cx="257.70" cy="206.53" r="0.88" fill="#000"/>
<circle cx="260.90" cy="208.87" r="0.88" fill="#000"/>
<circle cx="259.30" cy="209.99" r="0.88" fill="#000"/>
<circle cx="260.90" cy="210.80" r="0.88" fill="#000"/>
<circle cx="260.90" cy="218.42" r="0.88" fill="#000"/>
<circle cx="260.10" cy="219.90" r="0.88" fill="#000"/>
<line x1="274.70" y1="184.80" x2="274.70" y2="191.10" stroke="#555" stroke-width="1.4" stroke-linecap="butt"/>
<line x1="274.70" y1="201.40" x2="274.70" y2="203.40" stroke="#555" stroke-width="1.4" stroke-linecap="butt"/>
<line x1="271.59" y1="184.80" x2="277.81" y2="184.80" stroke="#1c1c1c" stroke-width="1.3" stroke-linecap="butt"/>
<line x1="271.59" y1="203.40" x2="277.81" y2="203.40" stroke="#1c1c1c" stroke-width="1.3" stroke-linecap="butt"/>
<rect x="268.95" y="191.10" width="11.50" height="10.30" fill="#cf5559" stroke="#7a7a7a" stroke-width="1.5"/>
<line x1="268.95" y1="198.30" x2="280.45" y2="198.30" stroke="#7a7a7a" stroke-width="1.2" stroke-linecap="butt"/>
<circle cx="274.70" cy="184.80" r="0.88" fill="#000"/>
<circle cx="274.70" cy="193.44" r="0.88" fill="#000"/>
<circle cx="276.30" cy="194.71" r="0.88" fill="#000"/>
<circle cx="274.70" cy="196.28" r="0.88" fill="#000"/>
<circle cx="276.30" cy="196.63" r="0.88" fill="#000"/>
<circle cx="273.90" cy="197.67" r="0.88" fill="#000"/>
<circle cx="272.30" cy="197.87" r="0.88" fill="#000"/>
<circle cx="274.70" cy="199.04" r="0.88" fill="#000"/>
<circle cx="273.10" cy="199.30" r="0.88" fill="#000"/>
<circle cx="276.30" cy="199.30" r="0.88" fill="#000"/>
<circle cx="274.70" cy="201.44" r="0.88" fill="#000"/>
<circle cx="274.70" cy="203.40" r="0.88" fill="#000"/>
<circle cx="274.70" cy="216.80" r="0.95" fill="#000"/>
<polyline points="233.00,158.60 233.00,157.00 270.00,157.00 270.00,158.60" fill="none" stroke="#555" stroke-width="0.8"/>
<text x="251.30" y="155.60" font-size="5.9" text-anchor="middle" fill="#000" stroke="#000" stroke-width="0.22">p&lt;0.0001</text>
<polyline points="233.50,170.80 233.50,169.20 260.40,169.20 260.40,170.80" fill="none" stroke="#555" stroke-width="0.8"/>
<text x="233.20" y="167.00" font-size="5.9" text-anchor="start" fill="#000" stroke="#000" stroke-width="0.22">p=0.0001</text>
<polyline points="233.50,178.40 233.50,176.80 247.20,176.80 247.20,178.40" fill="none" stroke="#555" stroke-width="0.8"/>
<text x="233.20" y="174.60" font-size="5.9" text-anchor="start" fill="#000" stroke="#000" stroke-width="0.22">p=0.0001</text>
<rect x="304.60" y="156.60" width="55.10" height="74.30" fill="#fff" stroke="#dcdcdc" stroke-width="0.8"/>
<line x1="304.60" y1="160.70" x2="359.70" y2="160.70" stroke="#e4e4e4" stroke-width="0.8" stroke-linecap="butt"/>
<text x="302.20" y="160.70" font-size="8.0" text-anchor="end" fill="#000" stroke="#000" stroke-width="0.22">120</text>
<line x1="304.60" y1="172.03" x2="359.70" y2="172.03" stroke="#e4e4e4" stroke-width="0.8" stroke-linecap="butt"/>
<text x="302.20" y="172.97" font-size="8.0" text-anchor="end" fill="#000" stroke="#000" stroke-width="0.22">100</text>
<line x1="304.60" y1="183.37" x2="359.70" y2="183.37" stroke="#e4e4e4" stroke-width="0.8" stroke-linecap="butt"/>
<text x="302.20" y="185.23" font-size="8.0" text-anchor="end" fill="#000" stroke="#000" stroke-width="0.22">80</text>
<line x1="304.60" y1="194.70" x2="359.70" y2="194.70" stroke="#e4e4e4" stroke-width="0.8" stroke-linecap="butt"/>
<text x="302.20" y="197.50" font-size="8.0" text-anchor="end" fill="#000" stroke="#000" stroke-width="0.22">60</text>
<line x1="304.60" y1="206.03" x2="359.70" y2="206.03" stroke="#e4e4e4" stroke-width="0.8" stroke-linecap="butt"/>
<text x="302.20" y="209.77" font-size="8.0" text-anchor="end" fill="#000" stroke="#000" stroke-width="0.22">40</text>
<line x1="304.60" y1="217.37" x2="359.70" y2="217.37" stroke="#e4e4e4" stroke-width="0.8" stroke-linecap="butt"/>
<text x="302.20" y="222.03" font-size="8.0" text-anchor="end" fill="#000" stroke="#000" stroke-width="0.22">20</text>
<line x1="304.60" y1="228.70" x2="359.70" y2="228.70" stroke="#e4e4e4" stroke-width="0.8" stroke-linecap="butt"/>
<text x="302.20" y="234.30" font-size="8.0" text-anchor="end" fill="#000" stroke="#000" stroke-width="0.22">0</text>
<line x1="311.40" y1="231.10" x2="311.40" y2="232.30" stroke="#333" stroke-width="0.9" stroke-linecap="butt"/>
<text x="311.40" y="240.50" font-size="8.0" text-anchor="middle" fill="#000" stroke="#000" stroke-width="0.22">C</text>
<line x1="324.60" y1="231.10" x2="324.60" y2="232.30" stroke="#333" stroke-width="0.9" stroke-linecap="butt"/>
<text x="324.60" y="240.50" font-size="8.0" text-anchor="middle" fill="#000" stroke="#000" stroke-width="0.22">1</text>
<line x1="338.00" y1="231.10" x2="338.00" y2="232.30" stroke="#333" stroke-width="0.9" stroke-linecap="butt"/>
<text x="338.00" y="240.50" font-size="8.0" text-anchor="middle" fill="#000" stroke="#000" stroke-width="0.22">2/3</text>
<line x1="351.60" y1="231.10" x2="351.60" y2="232.30" stroke="#333" stroke-width="0.9" stroke-linecap="butt"/>
<text x="351.60" y="240.50" font-size="8.0" text-anchor="middle" fill="#000" stroke="#000" stroke-width="0.22">4</text>
<text x="333.00" y="249.50" font-size="8.2" text-anchor="middle" fill="#000" stroke="#000" stroke-width="0.22">Scadding</text>
<text x="331.00" y="143.40" font-size="8.2" text-anchor="middle" fill="#000" font-weight="bold" font-style="italic">CXCL9</text>
<line x1="311.40" y1="226.20" x2="311.40" y2="225.90" stroke="#555" stroke-width="1.4" stroke-linecap="butt"/>
<line x1="311.40" y1="227.90" x2="311.40" y2="227.80" stroke="#555" stroke-width="1.4" stroke-linecap="butt"/>
<line x1="308.11" y1="226.20" x2="314.69" y2="226.20" stroke="#1c1c1c" stroke-width="1.3" stroke-linecap="butt"/>
<line x1="308.11" y1="227.80" x2="314.69" y2="227.80" stroke="#1c1c1c" stroke-width="1.3" stroke-linecap="butt"/>
<rect x="305.30" y="225.90" width="12.20" height="2.00" fill="#666666" stroke="#7a7a7a" stroke-width="1.5"/>
<circle cx="311.40" cy="226.20" r="0.88" fill="#000"/>
<circle cx="313.00" cy="226.29" r="0.88" fill="#000"/>
<circle cx="309.80" cy="226.65" r="0.88" fill="#000"/>
<circle cx="314.60" cy="226.78" r="0.88" fill="#000"/>
<circle cx="308.20" cy="226.83" r="0.88" fill="#000"/>
<circle cx="308.95" cy="227.36" r="0.88" fill="#000"/>
<circle cx="308.50" cy="227.38" r="0.88" fill="#000"/>
<circle cx="311.73" cy="227.44" r="0.88" fill="#000"/>
<circle cx="307.79" cy="227.74" r="0.88" fill="#000"/>
<circle cx="313.89" cy="227.80" r="0.88" fill="#000"/>
<circle cx="307.14" cy="227.80" r="0.88" fill="#000"/>
<circle cx="311.40" cy="224.20" r="0.95" fill="#000"/>
<line x1="325.10" y1="211.10" x2="325.10" y2="214.00" stroke="#555" stroke-width="1.4" stroke-linecap="butt"/>
<line x1="325.10" y1="223.80" x2="325.10" y2="227.90" stroke="#555" stroke-width="1.4" stroke-linecap="butt"/>
<line x1="322.00" y1="211.10" x2="328.21" y2="211.10" stroke="#1c1c1c" stroke-width="1.3" stroke-linecap="butt"/>
<line x1="322.00" y1="227.90" x2="328.21" y2="227.90" stroke="#1c1c1c" stroke-width="1.3" stroke-linecap="butt"/>
<rect x="319.35" y="214.00" width="11.50" height="9.80" fill="#e0884f" stroke="#7a7a7a" stroke-width="1.5"/>
<line x1="319.35" y1="220.50" x2="330.85" y2="220.50" stroke="#7a7a7a" stroke-width="1.2" stroke-linecap="butt"/>
<circle cx="325.10" cy="211.10" r="0.88" fill="#000"/>
<circle cx="325.10" cy="213.53" r="0.88" fill="#000"/>
<circle cx="326.70" cy="214.63" r="0.88" fill="#000"/>
<circle cx="325.10" cy="215.78" r="0.88" fill="#000"/>
<circle cx="323.50" cy="216.08" r="0.88" fill="#000"/>
<circle cx="326.70" cy="216.18" r="0.88" fill="#000"/>
<circle cx="321.90" cy="216.73" r="0.88" fill="#000"/>
<circle cx="325.10" cy="218.32" r="0.88" fill="#000"/>
<circle cx="326.70" cy="218.45" r="0.88" fill="#000"/>
<circle cx="323.50" cy="218.46" r="0.88" fill="#000"/>
<circle cx="321.90" cy="218.56" r="0.88" fill="#000"/>
<circle cx="328.30" cy="218.60" r="0.88" fill="#000"/>
<circle cx="329.63" cy="218.96" r="0.88" fill="#000"/>
<circle cx="325.10" cy="220.81" r="0.88" fill="#000"/>
<circle cx="326.70" cy="220.83" r="0.88" fill="#000"/>
<circle cx="323.50" cy="221.22" r="0.88" fill="#000"/>
<circle cx="328.30" cy="221.28" r="0.88" fill="#000"/>
<circle cx="321.90" cy="221.47" r="0.88" fill="#000"/>
<circle cx="329.32" cy="222.04" r="0.88" fill="#000"/>
<circle cx="325.10" cy="222.48" r="0.88" fill="#000"/>
<circle cx="326.70" cy="223.25" r="0.88" fill="#000"/>
<circle cx="323.50" cy="223.27" r="0.88" fill="#000"/>
<circle cx="328.30" cy="223.34" r="0.88" fill="#000"/>
<circle cx="325.10" cy="227.90" r="0.88" fill="#000"/>
<circle cx="325.10" cy="201.60" r="0.95" fill="#000"/>
<line x1="338.80" y1="198.00" x2="338.80" y2="208.20" stroke="#555" stroke-width="1.4" stroke-linecap="butt"/>
<line x1="338.80" y1="226.20" x2="338.80" y2="228.00" stroke="#555" stroke-width="1.4" stroke-linecap="butt"/>
<line x1="335.69" y1="198.00" x2="341.91" y2="198.00" stroke="#1c1c1c" stroke-width="1.3" stroke-linecap="butt"/>
<line x1="335.69" y1="228.00" x2="341.91" y2="228.00" stroke="#1c1c1c" stroke-width="1.3" stroke-linecap="butt"/>
<rect x="333.05" y="208.20" width="11.50" height="18.00" fill="#5aa65c" stroke="#7a7a7a" stroke-width="1.5"/>
<line x1="333.05" y1="221.00" x2="344.55" y2="221.00" stroke="#7a7a7a" stroke-width="1.2" stroke-linecap="butt"/>
<circle cx="338.80" cy="198.00" r="0.88" fill="#000"/>
<circle cx="337.20" cy="198.21" r="0.88" fill="#000"/>
<circle cx="338.80" cy="208.36" r="0.88" fill="#000"/>
<circle cx="340.40" cy="208.93" r="0.88" fill="#000"/>
<circle cx="337.20" cy="208.97" r="0.88" fill="#000"/>
<circle cx="342.00" cy="209.79" r="0.88" fill="#000"/>
<circle cx="338.80" cy="210.20" r="0.88" fill="#000"/>
<circle cx="337.20" cy="210.97" r="0.88" fill="#000"/>
<circle cx="340.40" cy="211.15" r="0.88" fill="#000"/>
<circle cx="342.00" cy="211.39" r="0.88" fill="#000"/>
<circle cx="338.80" cy="212.12" r="0.88" fill="#000"/>
<circle cx="337.20" cy="213.06" r="0.88" fill="#000"/>
<circle cx="339.60" cy="213.62" r="0.88" fill="#000"/>
<circle cx="341.20" cy="213.77" r="0.88" fill="#000"/>
<circle cx="335.60" cy="213.87" r="0.88" fill="#000"/>
<circle cx="338.00" cy="214.52" r="0.88" fill="#000"/>
<circle cx="339.60" cy="215.52" r="0.88" fill="#000"/>
<circle cx="338.00" cy="216.09" r="0.88" fill="#000"/>
<circle cx="341.20" cy="216.10" r="0.88" fill="#000"/>
<circle cx="336.40" cy="216.13" r="0.88" fill="#000"/>
<circle cx="334.80" cy="216.17" r="0.88" fill="#000"/>
<circle cx="342.80" cy="216.47" r="0.88" fill="#000"/>
<circle cx="340.68" cy="216.78" r="0.88" fill="#000"/>
<circle cx="337.43" cy="217.00" r="0.88" fill="#000"/>
<circle cx="338.80" cy="217.70" r="0.88" fill="#000"/>
<circle cx="340.40" cy="218.41" r="0.88" fill="#000"/>
<circle cx="336.40" cy="218.43" r="0.88" fill="#000"/>
<circle cx="342.00" cy="218.51" r="0.88" fill="#000"/>
<circle cx="338.80" cy="219.44" r="0.88" fill="#000"/>
<circle cx="337.20" cy="220.43" r="0.88" fill="#000"/>
<circle cx="340.40" cy="220.64" r="0.88" fill="#000"/>
<circle cx="335.60" cy="220.75" r="0.88" fill="#000"/>
<circle cx="338.80" cy="220.99" r="0.88" fill="#000"/>
<circle cx="338.80" cy="223.17" r="0.88" fill="#000"/>
<circle cx="337.20" cy="223.17" r="0.88" fill="#000"/>
<circle cx="340.40" cy="223.39" r="0.88" fill="#000"/>
<circle cx="342.00" cy="223.68" r="0.88" fill="#000"/>
<circle cx="338.00" cy="224.47" r="0.88" fill="#000"/>
<circle cx="338.80" cy="226.34" r="0.88" fill="#000"/>
<circle cx="337.20" cy="226.39" r="0.88" fill="#000"/>
<circle cx="340.40" cy="226.91" r="0.88" fill="#000"/>
<circle cx="338.80" cy="228.00" r="0.88" fill="#000"/>
<circle cx="338.80" cy="160.00" r="0.95" fill="#000"/>
<circle cx="338.80" cy="168.00" r="0.95" fill="#000"/>
<line x1="352.80" y1="205.70" x2="352.80" y2="209.70" stroke="#555" stroke-width="1.4" stroke-linecap="butt"/>
<line x1="352.80" y1="215.80" x2="352.80" y2="216.20" stroke="#555" stroke-width="1.4" stroke-linecap="butt"/>
<line x1="349.69" y1="205.70" x2="355.91" y2="205.70" stroke="#1c1c1c" stroke-width="1.3" stroke-linecap="butt"/>
<line x1="349.69" y1="216.20" x2="355.91" y2="216.20" stroke="#1c1c1c" stroke-width="1.3" stroke-linecap="butt"/>
<rect x="347.05" y="209.70" width="11.50" height="6.10" fill="#cf5559" stroke="#7a7a7a" stroke-width="1.5"/>
<line x1="347.05" y1="211.90" x2="358.55" y2="211.90" stroke="#7a7a7a" stroke-width="1.2" stroke-linecap="butt"/>
<circle cx="352.80" cy="205.70" r="0.88" fill="#000"/>
<circle cx="351.20" cy="206.73" r="0.88" fill="#000"/>
<circle cx="352.80" cy="208.61" r="0.88" fill="#000"/>
<circle cx="352.80" cy="210.44" r="0.88" fill="#000"/>
<circle cx="351.20" cy="210.92" r="0.88" fill="#000"/>
<circle cx="354.40" cy="211.10" r="0.88" fill="#000"/>
<circle cx="349.60" cy="211.47" r="0.88" fill="#000"/>
<circle cx="356.00" cy="211.92" r="0.88" fill="#000"/>
<circle cx="352.80" cy="213.51" r="0.88" fill="#000"/>
<circle cx="352.80" cy="215.19" r="0.88" fill="#000"/>
<circle cx="354.40" cy="216.20" r="0.88" fill="#000"/>
<circle cx="352.80" cy="222.50" r="0.95" fill="#000"/>
<circle cx="352.80" cy="226.90" r="0.95" fill="#000"/>
<polyline points="325.30,178.10 325.30,176.50 352.70,176.50 352.70,178.10" fill="none" stroke="#555" stroke-width="0.8"/>
<text x="339.20" y="174.60" font-size="5.9" text-anchor="middle" fill="#000" stroke="#000" stroke-width="0.22">p=0.01</text>
<polyline points="311.40,186.10 311.40,184.50 352.70,184.50 352.70,186.10" fill="none" stroke="#555" stroke-width="0.8"/>
<text x="333.40" y="182.30" font-size="5.9" text-anchor="middle" fill="#000" stroke="#000" stroke-width="0.22">p&lt;0.0001</text>
<polyline points="311.40,193.50 311.40,191.90 339.60,191.90 339.60,193.50" fill="none" stroke="#555" stroke-width="0.8"/>
<text x="325.00" y="190.20" font-size="5.9" text-anchor="middle" fill="#000" stroke="#000" stroke-width="0.22">p=0.04</text>
<polyline points="311.40,201.50 311.40,199.90 325.60,199.90 325.60,201.50" fill="none" stroke="#555" stroke-width="0.8"/>
<text x="318.40" y="198.40" font-size="5.9" text-anchor="middle" fill="#000" stroke="#000" stroke-width="0.22">p=0.006</text>
<rect x="386.60" y="156.30" width="55.00" height="74.90" fill="#fff" stroke="#dcdcdc" stroke-width="0.8"/>
<line x1="386.60" y1="167.60" x2="441.60" y2="167.60" stroke="#e4e4e4" stroke-width="0.8" stroke-linecap="butt"/>
<text x="384.10" y="170.90" font-size="8.0" text-anchor="end" fill="#000" stroke="#000" stroke-width="0.22">150</text>
<line x1="386.60" y1="187.30" x2="441.60" y2="187.30" stroke="#e4e4e4" stroke-width="0.8" stroke-linecap="butt"/>
<text x="384.10" y="191.10" font-size="8.0" text-anchor="end" fill="#000" stroke="#000" stroke-width="0.22">100</text>
<line x1="386.60" y1="208.20" x2="441.60" y2="208.20" stroke="#e4e4e4" stroke-width="0.8" stroke-linecap="butt"/>
<text x="384.10" y="211.50" font-size="8.0" text-anchor="end" fill="#000" stroke="#000" stroke-width="0.22">50</text>
<line x1="386.60" y1="228.20" x2="441.60" y2="228.20" stroke="#e4e4e4" stroke-width="0.8" stroke-linecap="butt"/>
<text x="384.10" y="231.50" font-size="8.0" text-anchor="end" fill="#000" stroke="#000" stroke-width="0.22">0</text>
<line x1="392.90" y1="231.40" x2="392.90" y2="232.60" stroke="#333" stroke-width="0.9" stroke-linecap="butt"/>
<text x="392.90" y="240.80" font-size="8.0" text-anchor="middle" fill="#000" stroke="#000" stroke-width="0.22">C</text>
<line x1="406.50" y1="231.40" x2="406.50" y2="232.60" stroke="#333" stroke-width="0.9" stroke-linecap="butt"/>
<text x="406.50" y="240.80" font-size="8.0" text-anchor="middle" fill="#000" stroke="#000" stroke-width="0.22">1</text>
<line x1="420.70" y1="231.40" x2="420.70" y2="232.60" stroke="#333" stroke-width="0.9" stroke-linecap="butt"/>
<text x="420.70" y="240.80" font-size="8.0" text-anchor="middle" fill="#000" stroke="#000" stroke-width="0.22">2/3</text>
<line x1="434.60" y1="231.40" x2="434.60" y2="232.60" stroke="#333" stroke-width="0.9" stroke-linecap="butt"/>
<text x="434.60" y="240.80" font-size="8.0" text-anchor="middle" fill="#000" stroke="#000" stroke-width="0.22">4</text>
<text x="414.80" y="249.80" font-size="8.2" text-anchor="middle" fill="#000" stroke="#000" stroke-width="0.22">Scadding</text>
<text x="410.30" y="143.40" font-size="8.2" text-anchor="middle" fill="#000" font-weight="bold" font-style="italic">CXCL10</text>
<line x1="393.40" y1="224.00" x2="393.40" y2="224.30" stroke="#555" stroke-width="1.4" stroke-linecap="butt"/>
<line x1="393.40" y1="227.60" x2="393.40" y2="228.00" stroke="#555" stroke-width="1.4" stroke-linecap="butt"/>
<line x1="390.00" y1="224.00" x2="396.80" y2="224.00" stroke="#1c1c1c" stroke-width="1.3" stroke-linecap="butt"/>
<line x1="390.00" y1="228.00" x2="396.80" y2="228.00" stroke="#1c1c1c" stroke-width="1.3" stroke-linecap="butt"/>
<rect x="387.10" y="224.30" width="12.60" height="3.30" fill="#666666" stroke="#7a7a7a" stroke-width="1.5"/>
<circle cx="393.40" cy="224.00" r="0.88" fill="#000"/>
<circle cx="391.80" cy="224.76" r="0.88" fill="#000"/>
<circle cx="395.00" cy="224.76" r="0.88" fill="#000"/>
<circle cx="396.60" cy="225.01" r="0.88" fill="#000"/>
<circle cx="393.40" cy="226.11" r="0.88" fill="#000"/>
<circle cx="395.00" cy="226.70" r="0.88" fill="#000"/>
<circle cx="391.80" cy="227.28" r="0.88" fill="#000"/>
<circle cx="393.40" cy="227.68" r="0.88" fill="#000"/>
<circle cx="390.20" cy="227.80" r="0.88" fill="#000"/>
<circle cx="396.60" cy="227.95" r="0.88" fill="#000"/>
<circle cx="396.12" cy="228.00" r="0.88" fill="#000"/>
<circle cx="393.40" cy="220.90" r="0.95" fill="#000"/>
<line x1="406.80" y1="205.30" x2="406.80" y2="212.10" stroke="#555" stroke-width="1.4" stroke-linecap="butt"/>
<line x1="406.80" y1="223.10" x2="406.80" y2="226.50" stroke="#555" stroke-width="1.4" stroke-linecap="butt"/>
<line x1="403.69" y1="205.30" x2="409.91" y2="205.30" stroke="#1c1c1c" stroke-width="1.3" stroke-linecap="butt"/>
<line x1="403.69" y1="226.50" x2="409.91" y2="226.50" stroke="#1c1c1c" stroke-width="1.3" stroke-linecap="butt"/>
<rect x="401.05" y="212.10" width="11.50" height="11.00" fill="#e0884f" stroke="#7a7a7a" stroke-width="1.5"/>
<line x1="401.05" y1="219.50" x2="412.55" y2="219.50" stroke="#7a7a7a" stroke-width="1.2" stroke-linecap="butt"/>
<circle cx="406.80" cy="205.30" r="0.88" fill="#000"/>
<circle cx="406.80" cy="211.03" r="0.88" fill="#000"/>
<circle cx="406.80" cy="212.63" r="0.88" fill="#000"/>
<circle cx="408.40" cy="213.12" r="0.88" fill="#000"/>
<circle cx="406.00" cy="213.96" r="0.88" fill="#000"/>
<circle cx="404.40" cy="214.15" r="0.88" fill="#000"/>
<circle cx="407.60" cy="214.43" r="0.88" fill="#000"/>
<circle cx="409.20" cy="214.66" r="0.88" fill="#000"/>
<circle cx="406.80" cy="215.94" r="0.88" fill="#000"/>
<circle cx="408.40" cy="216.02" r="0.88" fill="#000"/>
<circle cx="405.20" cy="216.18" r="0.88" fill="#000"/>
<circle cx="410.00" cy="216.35" r="0.88" fill="#000"/>
<circle cx="403.60" cy="216.41" r="0.88" fill="#000"/>
<circle cx="407.60" cy="217.41" r="0.88" fill="#000"/>
<circle cx="406.00" cy="218.23" r="0.88" fill="#000"/>
<circle cx="404.40" cy="218.65" r="0.88" fill="#000"/>
<circle cx="406.80" cy="220.61" r="0.88" fill="#000"/>
<circle cx="405.20" cy="221.55" r="0.88" fill="#000"/>
<circle cx="406.80" cy="222.34" r="0.88" fill="#000"/>
<circle cx="408.40" cy="222.96" r="0.88" fill="#000"/>
<circle cx="405.20" cy="223.12" r="0.88" fill="#000"/>
<circle cx="403.60" cy="223.27" r="0.88" fill="#000"/>
<circle cx="406.80" cy="226.50" r="0.88" fill="#000"/>
<circle cx="408.40" cy="226.50" r="0.88" fill="#000"/>
<circle cx="406.80" cy="195.80" r="0.95" fill="#000"/>
<circle cx="405.20" cy="195.80" r="0.95" fill="#000"/>
<line x1="420.80" y1="179.70" x2="420.80" y2="201.30" stroke="#555" stroke-width="1.4" stroke-linecap="butt"/>
<line x1="420.80" y1="222.40" x2="420.80" y2="227.20" stroke="#555" stroke-width="1.4" stroke-linecap="butt"/>
<line x1="417.69" y1="179.70" x2="423.91" y2="179.70" stroke="#1c1c1c" stroke-width="1.3" stroke-linecap="butt"/>
<line x1="417.69" y1="227.20" x2="423.91" y2="227.20" stroke="#1c1c1c" stroke-width="1.3" stroke-linecap="butt"/>
<rect x="415.05" y="201.30" width="11.50" height="21.10" fill="#5aa65c" stroke="#7a7a7a" stroke-width="1.5"/>
<line x1="415.05" y1="218.10" x2="426.55" y2="218.10" stroke="#7a7a7a" stroke-width="1.2" stroke-linecap="butt"/>
<circle cx="420.80" cy="179.70" r="0.88" fill="#000"/>
<circle cx="420.80" cy="187.27" r="0.88" fill="#000"/>
<circle cx="420.80" cy="201.37" r="0.88" fill="#000"/>
<circle cx="422.40" cy="201.59" r="0.88" fill="#000"/>
<circle cx="419.20" cy="201.65" r="0.88" fill="#000"/>
<circle cx="424.00" cy="201.65" r="0.88" fill="#000"/>
<circle cx="417.60" cy="201.66" r="0.88" fill="#000"/>
<circle cx="420.80" cy="204.02" r="0.88" fill="#000"/>
<circle cx="419.20" cy="204.03" r="0.88" fill="#000"/>
<circle cx="422.40" cy="204.33" r="0.88" fill="#000"/>
<circle cx="424.00" cy="204.81" r="0.88" fill="#000"/>
<circle cx="420.80" cy="206.36" r="0.88" fill="#000"/>
<circle cx="422.40" cy="206.43" r="0.88" fill="#000"/>
<circle cx="419.20" cy="206.51" r="0.88" fill="#000"/>
<circle cx="417.60" cy="206.59" r="0.88" fill="#000"/>
<circle cx="424.00" cy="207.58" r="0.88" fill="#000"/>
<circle cx="420.80" cy="208.47" r="0.88" fill="#000"/>
<circle cx="422.40" cy="208.61" r="0.88" fill="#000"/>
<circle cx="419.20" cy="208.63" r="0.88" fill="#000"/>
<circle cx="417.60" cy="208.69" r="0.88" fill="#000"/>
<circle cx="420.80" cy="210.36" r="0.88" fill="#000"/>
<circle cx="422.40" cy="210.56" r="0.88" fill="#000"/>
<circle cx="419.20" cy="211.18" r="0.88" fill="#000"/>
<circle cx="424.00" cy="211.27" r="0.88" fill="#000"/>
<circle cx="417.60" cy="211.34" r="0.88" fill="#000"/>
<circle cx="420.55" cy="211.50" r="0.88" fill="#000"/>
<circle cx="419.21" cy="211.80" r="0.88" fill="#000"/>
<circle cx="422.40" cy="212.31" r="0.88" fill="#000"/>
<circle cx="420.80" cy="213.01" r="0.88" fill="#000"/>
<circle cx="420.00" cy="214.42" r="0.88" fill="#000"/>
<circle cx="420.80" cy="215.77" r="0.88" fill="#000"/>
<circle cx="422.40" cy="216.05" r="0.88" fill="#000"/>
<circle cx="419.20" cy="217.02" r="0.88" fill="#000"/>
<circle cx="420.80" cy="218.24" r="0.88" fill="#000"/>
<circle cx="422.40" cy="218.36" r="0.88" fill="#000"/>
<circle cx="419.20" cy="219.19" r="0.88" fill="#000"/>
<circle cx="420.80" cy="220.85" r="0.88" fill="#000"/>
<circle cx="422.40" cy="221.33" r="0.88" fill="#000"/>
<circle cx="419.20" cy="221.66" r="0.88" fill="#000"/>
<circle cx="420.80" cy="224.07" r="0.88" fill="#000"/>
<circle cx="421.60" cy="225.57" r="0.88" fill="#000"/>
<circle cx="420.80" cy="227.20" r="0.88" fill="#000"/>
<circle cx="420.80" cy="159.70" r="0.95" fill="#000"/>
<circle cx="420.80" cy="168.00" r="0.95" fill="#000"/>
<line x1="434.70" y1="194.60" x2="434.70" y2="204.50" stroke="#555" stroke-width="1.4" stroke-linecap="butt"/>
<line x1="434.70" y1="213.60" x2="434.70" y2="218.40" stroke="#555" stroke-width="1.4" stroke-linecap="butt"/>
<line x1="431.59" y1="194.60" x2="437.81" y2="194.60" stroke="#1c1c1c" stroke-width="1.3" stroke-linecap="butt"/>
<line x1="431.59" y1="218.40" x2="437.81" y2="218.40" stroke="#1c1c1c" stroke-width="1.3" stroke-linecap="butt"/>
<rect x="428.95" y="204.50" width="11.50" height="9.10" fill="#cf5559" stroke="#7a7a7a" stroke-width="1.5"/>
<line x1="428.95" y1="208.50" x2="440.45" y2="208.50" stroke="#7a7a7a" stroke-width="1.2" stroke-linecap="butt"/>
<circle cx="434.70" cy="194.60" r="0.88" fill="#000"/>
<circle cx="434.70" cy="196.71" r="0.88" fill="#000"/>
<circle cx="434.70" cy="205.87" r="0.88" fill="#000"/>
<circle cx="433.10" cy="206.51" r="0.88" fill="#000"/>
<circle cx="434.70" cy="207.81" r="0.88" fill="#000"/>
<circle cx="436.30" cy="208.66" r="0.88" fill="#000"/>
<circle cx="433.10" cy="208.82" r="0.88" fill="#000"/>
<circle cx="434.70" cy="211.05" r="0.88" fill="#000"/>
<circle cx="436.30" cy="211.48" r="0.88" fill="#000"/>
<circle cx="434.70" cy="216.02" r="0.88" fill="#000"/>
<circle cx="434.70" cy="218.40" r="0.88" fill="#000"/>
<circle cx="434.70" cy="226.20" r="0.95" fill="#000"/>
<polyline points="392.20,167.10 392.20,165.50 433.80,165.50 433.80,167.10" fill="none" stroke="#555" stroke-width="0.8"/>
<text x="406.50" y="163.60" font-size="5.9" text-anchor="middle" fill="#000" stroke="#000" stroke-width="0.22">p=0.0007</text>
<polyline points="392.20,177.20 392.20,175.60 420.70,175.60 420.70,177.20" fill="none" stroke="#555" stroke-width="0.8"/>
<text x="406.00" y="173.90" font-size="5.9" text-anchor="middle" fill="#000" stroke="#000" stroke-width="0.22">p=0.03</text>
<polyline points="392.20,193.20 392.20,191.60 406.00,191.60 406.00,193.20" fill="none" stroke="#555" stroke-width="0.8"/>
<text x="399.50" y="190.00" font-size="5.9" text-anchor="middle" fill="#000" stroke="#000" stroke-width="0.22">p=0.02</text>
<rect x="468.80" y="155.90" width="54.80" height="74.50" fill="#fff" stroke="#dcdcdc" stroke-width="0.8"/>
<line x1="468.80" y1="156.90" x2="523.60" y2="156.90" stroke="#e4e4e4" stroke-width="0.8" stroke-linecap="butt"/>
<text x="467.00" y="158.90" font-size="8.0" text-anchor="end" fill="#000" stroke="#000" stroke-width="0.22">120</text>
<line x1="468.80" y1="168.62" x2="523.60" y2="168.62" stroke="#e4e4e4" stroke-width="0.8" stroke-linecap="butt"/>
<text x="467.00" y="171.30" font-size="8.0" text-anchor="end" fill="#000" stroke="#000" stroke-width="0.22">100</text>
<line x1="468.80" y1="180.33" x2="523.60" y2="180.33" stroke="#e4e4e4" stroke-width="0.8" stroke-linecap="butt"/>
<text x="467.00" y="183.70" font-size="8.0" text-anchor="end" fill="#000" stroke="#000" stroke-width="0.22">80</text>
<line x1="468.80" y1="192.05" x2="523.60" y2="192.05" stroke="#e4e4e4" stroke-width="0.8" stroke-linecap="butt"/>
<text x="467.00" y="196.10" font-size="8.0" text-anchor="end" fill="#000" stroke="#000" stroke-width="0.22">60</text>
<line x1="468.80" y1="203.77" x2="523.60" y2="203.77" stroke="#e4e4e4" stroke-width="0.8" stroke-linecap="butt"/>
<text x="467.00" y="208.50" font-size="8.0" text-anchor="end" fill="#000" stroke="#000" stroke-width="0.22">40</text>
<line x1="468.80" y1="215.48" x2="523.60" y2="215.48" stroke="#e4e4e4" stroke-width="0.8" stroke-linecap="butt"/>
<text x="467.00" y="220.90" font-size="8.0" text-anchor="end" fill="#000" stroke="#000" stroke-width="0.22">20</text>
<line x1="468.80" y1="227.20" x2="523.60" y2="227.20" stroke="#e4e4e4" stroke-width="0.8" stroke-linecap="butt"/>
<text x="467.00" y="233.30" font-size="8.0" text-anchor="end" fill="#000" stroke="#000" stroke-width="0.22">0</text>
<line x1="475.10" y1="230.60" x2="475.10" y2="231.80" stroke="#333" stroke-width="0.9" stroke-linecap="butt"/>
<text x="475.10" y="240.00" font-size="8.0" text-anchor="middle" fill="#000" stroke="#000" stroke-width="0.22">C</text>
<line x1="488.20" y1="230.60" x2="488.20" y2="231.80" stroke="#333" stroke-width="0.9" stroke-linecap="butt"/>
<text x="488.20" y="240.00" font-size="8.0" text-anchor="middle" fill="#000" stroke="#000" stroke-width="0.22">1</text>
<line x1="502.10" y1="230.60" x2="502.10" y2="231.80" stroke="#333" stroke-width="0.9" stroke-linecap="butt"/>
<text x="502.10" y="240.00" font-size="8.0" text-anchor="middle" fill="#000" stroke="#000" stroke-width="0.22">2/3</text>
<line x1="515.30" y1="230.60" x2="515.30" y2="231.80" stroke="#333" stroke-width="0.9" stroke-linecap="butt"/>
<text x="515.30" y="240.00" font-size="8.0" text-anchor="middle" fill="#000" stroke="#000" stroke-width="0.22">4</text>
<text x="496.60" y="249.00" font-size="8.2" text-anchor="middle" fill="#000" stroke="#000" stroke-width="0.22">Scadding</text>
<text x="492.40" y="143.40" font-size="8.2" text-anchor="middle" fill="#000" font-weight="bold" font-style="italic">GBP1</text>
<line x1="475.60" y1="215.60" x2="475.60" y2="216.20" stroke="#555" stroke-width="1.4" stroke-linecap="butt"/>
<line x1="475.60" y1="219.60" x2="475.60" y2="220.20" stroke="#555" stroke-width="1.4" stroke-linecap="butt"/>
<line x1="472.20" y1="215.60" x2="479.00" y2="215.60" stroke="#1c1c1c" stroke-width="1.3" stroke-linecap="butt"/>
<line x1="472.20" y1="220.20" x2="479.00" y2="220.20" stroke="#1c1c1c" stroke-width="1.3" stroke-linecap="butt"/>
<rect x="469.30" y="216.20" width="12.60" height="3.40" fill="#666666" stroke="#7a7a7a" stroke-width="1.5"/>
<circle cx="475.60" cy="215.60" r="0.88" fill="#000"/>
<circle cx="477.20" cy="215.96" r="0.88" fill="#000"/>
<circle cx="474.00" cy="216.56" r="0.88" fill="#000"/>
<circle cx="475.60" cy="217.44" r="0.88" fill="#000"/>
<circle cx="477.20" cy="217.56" r="0.88" fill="#000"/>
<circle cx="478.80" cy="217.84" r="0.88" fill="#000"/>
<circle cx="474.00" cy="218.22" r="0.88" fill="#000"/>
<circle cx="472.40" cy="218.32" r="0.88" fill="#000"/>
<circle cx="476.40" cy="218.89" r="0.88" fill="#000"/>
<circle cx="478.00" cy="219.14" r="0.88" fill="#000"/>
<circle cx="475.60" cy="220.20" r="0.88" fill="#000"/>
<line x1="489.60" y1="161.40" x2="489.60" y2="186.30" stroke="#555" stroke-width="1.4" stroke-linecap="butt"/>
<line x1="489.60" y1="204.80" x2="489.60" y2="215.10" stroke="#555" stroke-width="1.4" stroke-linecap="butt"/>
<line x1="486.50" y1="161.40" x2="492.71" y2="161.40" stroke="#1c1c1c" stroke-width="1.3" stroke-linecap="butt"/>
<line x1="486.50" y1="215.10" x2="492.71" y2="215.10" stroke="#1c1c1c" stroke-width="1.3" stroke-linecap="butt"/>
<rect x="483.85" y="186.30" width="11.50" height="18.50" fill="#e0884f" stroke="#7a7a7a" stroke-width="1.5"/>
<line x1="483.85" y1="196.50" x2="495.35" y2="196.50" stroke="#7a7a7a" stroke-width="1.2" stroke-linecap="butt"/>
<circle cx="489.60" cy="161.40" r="0.88" fill="#000"/>
<circle cx="489.60" cy="165.68" r="0.88" fill="#000"/>
<circle cx="489.60" cy="171.96" r="0.88" fill="#000"/>
<circle cx="489.60" cy="176.14" r="0.88" fill="#000"/>
<circle cx="489.60" cy="182.41" r="0.88" fill="#000"/>
<circle cx="489.60" cy="188.99" r="0.88" fill="#000"/>
<circle cx="488.80" cy="190.48" r="0.88" fill="#000"/>
<circle cx="490.40" cy="190.95" r="0.88" fill="#000"/>
<circle cx="488.80" cy="192.06" r="0.88" fill="#000"/>
<circle cx="490.40" cy="192.93" r="0.88" fill="#000"/>
<circle cx="487.20" cy="193.23" r="0.88" fill="#000"/>
<circle cx="488.80" cy="194.00" r="0.88" fill="#000"/>
<circle cx="490.40" cy="194.45" r="0.88" fill="#000"/>
<circle cx="489.60" cy="196.10" r="0.88" fill="#000"/>
<circle cx="491.20" cy="196.37" r="0.88" fill="#000"/>
<circle cx="488.00" cy="196.76" r="0.88" fill="#000"/>
<circle cx="492.80" cy="196.92" r="0.88" fill="#000"/>
<circle cx="486.40" cy="197.09" r="0.88" fill="#000"/>
<circle cx="489.60" cy="200.39" r="0.88" fill="#000"/>
<circle cx="488.00" cy="201.63" r="0.88" fill="#000"/>
<circle cx="490.40" cy="201.69" r="0.88" fill="#000"/>
<circle cx="489.60" cy="203.94" r="0.88" fill="#000"/>
<circle cx="491.20" cy="204.08" r="0.88" fill="#000"/>
<circle cx="489.60" cy="215.10" r="0.88" fill="#000"/>
<line x1="503.00" y1="158.80" x2="503.00" y2="178.20" stroke="#555" stroke-width="1.4" stroke-linecap="butt"/>
<line x1="503.00" y1="201.30" x2="503.00" y2="211.10" stroke="#555" stroke-width="1.4" stroke-linecap="butt"/>
<line x1="499.89" y1="158.80" x2="506.11" y2="158.80" stroke="#1c1c1c" stroke-width="1.3" stroke-linecap="butt"/>
<line x1="499.89" y1="211.10" x2="506.11" y2="211.10" stroke="#1c1c1c" stroke-width="1.3" stroke-linecap="butt"/>
<rect x="497.25" y="178.20" width="11.50" height="23.10" fill="#5aa65c" stroke="#7a7a7a" stroke-width="1.5"/>
<line x1="497.25" y1="190.00" x2="508.75" y2="190.00" stroke="#7a7a7a" stroke-width="1.2" stroke-linecap="butt"/>
<circle cx="503.00" cy="158.80" r="0.88" fill="#000"/>
<circle cx="503.00" cy="162.75" r="0.88" fill="#000"/>
<circle cx="503.00" cy="170.32" r="0.88" fill="#000"/>
<circle cx="501.40" cy="170.65" r="0.88" fill="#000"/>
<circle cx="503.00" cy="177.66" r="0.88" fill="#000"/>
<circle cx="503.00" cy="179.88" r="0.88" fill="#000"/>
<circle cx="501.40" cy="179.94" r="0.88" fill="#000"/>
<circle cx="504.60" cy="180.08" r="0.88" fill="#000"/>
<circle cx="506.20" cy="180.76" r="0.88" fill="#000"/>
<circle cx="499.80" cy="180.81" r="0.88" fill="#000"/>
<circle cx="503.00" cy="181.58" r="0.88" fill="#000"/>
<circle cx="504.60" cy="181.62" r="0.88" fill="#000"/>
<circle cx="501.40" cy="182.16" r="0.88" fill="#000"/>
<circle cx="499.80" cy="182.58" r="0.88" fill="#000"/>
<circle cx="506.20" cy="182.62" r="0.88" fill="#000"/>
<circle cx="503.00" cy="183.19" r="0.88" fill="#000"/>
<circle cx="504.60" cy="183.35" r="0.88" fill="#000"/>
<circle cx="502.20" cy="184.50" r="0.88" fill="#000"/>
<circle cx="503.80" cy="184.70" r="0.88" fill="#000"/>
<circle cx="505.40" cy="185.37" r="0.88" fill="#000"/>
<circle cx="500.60" cy="185.65" r="0.88" fill="#000"/>
<circle cx="507.00" cy="185.98" r="0.88" fill="#000"/>
<circle cx="503.00" cy="187.23" r="0.88" fill="#000"/>
<circle cx="503.00" cy="189.75" r="0.88" fill="#000"/>
<circle cx="501.40" cy="189.76" r="0.88" fill="#000"/>
<circle cx="504.60" cy="189.85" r="0.88" fill="#000"/>
<circle cx="506.20" cy="190.19" r="0.88" fill="#000"/>
<circle cx="499.80" cy="190.51" r="0.88" fill="#000"/>
<circle cx="502.20" cy="191.17" r="0.88" fill="#000"/>
<circle cx="503.80" cy="191.36" r="0.88" fill="#000"/>
<circle cx="505.40" cy="191.99" r="0.88" fill="#000"/>
<circle cx="503.00" cy="194.38" r="0.88" fill="#000"/>
<circle cx="504.60" cy="194.48" r="0.88" fill="#000"/>
<circle cx="501.40" cy="194.56" r="0.88" fill="#000"/>
<circle cx="503.00" cy="196.60" r="0.88" fill="#000"/>
<circle cx="501.40" cy="197.32" r="0.88" fill="#000"/>
<circle cx="504.60" cy="197.63" r="0.88" fill="#000"/>
<circle cx="499.80" cy="198.11" r="0.88" fill="#000"/>
<circle cx="503.00" cy="198.54" r="0.88" fill="#000"/>
<circle cx="503.00" cy="201.50" r="0.88" fill="#000"/>
<circle cx="501.40" cy="201.58" r="0.88" fill="#000"/>
<circle cx="503.00" cy="211.10" r="0.88" fill="#000"/>
<line x1="517.20" y1="168.00" x2="517.20" y2="179.00" stroke="#555" stroke-width="1.4" stroke-linecap="butt"/>
<line x1="517.20" y1="188.80" x2="517.20" y2="190.00" stroke="#555" stroke-width="1.4" stroke-linecap="butt"/>
<line x1="514.10" y1="168.00" x2="520.31" y2="168.00" stroke="#1c1c1c" stroke-width="1.3" stroke-linecap="butt"/>
<line x1="514.10" y1="190.00" x2="520.31" y2="190.00" stroke="#1c1c1c" stroke-width="1.3" stroke-linecap="butt"/>
<rect x="511.45" y="179.00" width="11.50" height="9.80" fill="#cf5559" stroke="#7a7a7a" stroke-width="1.5"/>
<line x1="511.45" y1="184.00" x2="522.95" y2="184.00" stroke="#7a7a7a" stroke-width="1.2" stroke-linecap="butt"/>
<circle cx="517.20" cy="168.00" r="0.88" fill="#000"/>
<circle cx="517.20" cy="175.11" r="0.88" fill="#000"/>
<circle cx="517.20" cy="179.72" r="0.88" fill="#000"/>
<circle cx="515.60" cy="180.60" r="0.88" fill="#000"/>
<circle cx="518.80" cy="180.76" r="0.88" fill="#000"/>
<circle cx="517.20" cy="182.37" r="0.88" fill="#000"/>
<circle cx="517.20" cy="184.74" r="0.88" fill="#000"/>
<circle cx="515.60" cy="185.67" r="0.88" fill="#000"/>
<circle cx="517.20" cy="187.10" r="0.88" fill="#000"/>
<circle cx="518.80" cy="187.26" r="0.88" fill="#000"/>
<circle cx="517.20" cy="190.00" r="0.88" fill="#000"/>
<circle cx="517.20" cy="162.50" r="0.95" fill="#000"/>
<circle cx="517.20" cy="204.10" r="0.95" fill="#000"/>
<circle cx="517.20" cy="210.70" r="0.95" fill="#000"/>
<polyline points="473.30,154.60 473.30,153.00 517.50,153.00 517.50,154.60" fill="none" stroke="#555" stroke-width="0.8"/>
<text x="494.10" y="150.90" font-size="5.9" text-anchor="middle" fill="#000" stroke="#000" stroke-width="0.22">p&lt;0.0001</text>
<polyline points="473.30,162.00 473.30,160.40 503.60,160.40 503.60,162.00" fill="none" stroke="#555" stroke-width="0.8"/>
<text x="474.40" y="158.50" font-size="5.9" text-anchor="start" fill="#000" stroke="#000" stroke-width="0.22">p&lt;0.0001</text>
<polyline points="473.30,186.00 473.30,184.40 489.70,184.40 489.70,186.00" fill="none" stroke="#555" stroke-width="0.8"/>
<text x="466.80" y="182.30" font-size="5.9" text-anchor="start" fill="#000" stroke="#000" stroke-width="0.22">p=0.0004</text>
<rect x="550.40" y="156.30" width="54.40" height="74.10" fill="#fff" stroke="#dcdcdc" stroke-width="0.8"/>
<line x1="550.40" y1="168.30" x2="604.80" y2="168.30" stroke="#e4e4e4" stroke-width="0.8" stroke-linecap="butt"/>
<text x="548.80" y="170.20" font-size="8.0" text-anchor="end" fill="#000" stroke="#000" stroke-width="0.22">40</text>
<line x1="550.40" y1="183.03" x2="604.80" y2="183.03" stroke="#e4e4e4" stroke-width="0.8" stroke-linecap="butt"/>
<text x="548.80" y="185.98" font-size="8.0" text-anchor="end" fill="#000" stroke="#000" stroke-width="0.22">30</text>
<line x1="550.40" y1="197.75" x2="604.80" y2="197.75" stroke="#e4e4e4" stroke-width="0.8" stroke-linecap="butt"/>
<text x="548.80" y="201.75" font-size="8.0" text-anchor="end" fill="#000" stroke="#000" stroke-width="0.22">20</text>
<line x1="550.40" y1="212.47" x2="604.80" y2="212.47" stroke="#e4e4e4" stroke-width="0.8" stroke-linecap="butt"/>
<text x="548.80" y="217.53" font-size="8.0" text-anchor="end" fill="#000" stroke="#000" stroke-width="0.22">10</text>
<line x1="550.40" y1="227.20" x2="604.80" y2="227.20" stroke="#e4e4e4" stroke-width="0.8" stroke-linecap="butt"/>
<text x="548.80" y="233.30" font-size="8.0" text-anchor="end" fill="#000" stroke="#000" stroke-width="0.22">0</text>
<line x1="557.30" y1="230.60" x2="557.30" y2="231.80" stroke="#333" stroke-width="0.9" stroke-linecap="butt"/>
<text x="557.30" y="240.00" font-size="8.0" text-anchor="middle" fill="#000" stroke="#000" stroke-width="0.22">C</text>
<line x1="570.10" y1="230.60" x2="570.10" y2="231.80" stroke="#333" stroke-width="0.9" stroke-linecap="butt"/>
<text x="570.10" y="240.00" font-size="8.0" text-anchor="middle" fill="#000" stroke="#000" stroke-width="0.22">1</text>
<line x1="583.90" y1="230.60" x2="583.90" y2="231.80" stroke="#333" stroke-width="0.9" stroke-linecap="butt"/>
<text x="583.90" y="240.00" font-size="8.0" text-anchor="middle" fill="#000" stroke="#000" stroke-width="0.22">2/3</text>
<line x1="597.00" y1="230.60" x2="597.00" y2="231.80" stroke="#333" stroke-width="0.9" stroke-linecap="butt"/>
<text x="597.00" y="240.00" font-size="8.0" text-anchor="middle" fill="#000" stroke="#000" stroke-width="0.22">4</text>
<text x="577.60" y="249.00" font-size="8.2" text-anchor="middle" fill="#000" stroke="#000" stroke-width="0.22">Scadding</text>
<text x="576.30" y="143.40" font-size="8.2" text-anchor="middle" fill="#000" font-weight="bold" font-style="italic">GBP4</text>
<line x1="557.30" y1="215.40" x2="557.30" y2="215.90" stroke="#555" stroke-width="1.4" stroke-linecap="butt"/>
<line x1="557.30" y1="218.90" x2="557.30" y2="219.40" stroke="#555" stroke-width="1.4" stroke-linecap="butt"/>
<line x1="553.90" y1="215.40" x2="560.70" y2="215.40" stroke="#1c1c1c" stroke-width="1.3" stroke-linecap="butt"/>
<line x1="553.90" y1="219.40" x2="560.70" y2="219.40" stroke="#1c1c1c" stroke-width="1.3" stroke-linecap="butt"/>
<rect x="551.00" y="215.90" width="12.60" height="3.00" fill="#666666" stroke="#7a7a7a" stroke-width="1.5"/>
<circle cx="557.30" cy="215.40" r="0.88" fill="#000"/>
<circle cx="558.90" cy="215.85" r="0.88" fill="#000"/>
<circle cx="555.70" cy="216.10" r="0.88" fill="#000"/>
<circle cx="557.30" cy="217.05" r="0.88" fill="#000"/>
<circle cx="560.50" cy="217.08" r="0.88" fill="#000"/>
<circle cx="558.90" cy="217.53" r="0.88" fill="#000"/>
<circle cx="555.70" cy="218.02" r="0.88" fill="#000"/>
<circle cx="554.10" cy="218.20" r="0.88" fill="#000"/>
<circle cx="555.12" cy="218.33" r="0.88" fill="#000"/>
<circle cx="561.30" cy="218.56" r="0.88" fill="#000"/>
<circle cx="557.30" cy="219.40" r="0.88" fill="#000"/>
<line x1="570.80" y1="170.50" x2="570.80" y2="192.40" stroke="#555" stroke-width="1.4" stroke-linecap="butt"/>
<line x1="570.80" y1="211.60" x2="570.80" y2="218.00" stroke="#555" stroke-width="1.4" stroke-linecap="butt"/>
<line x1="567.69" y1="170.50" x2="573.90" y2="170.50" stroke="#1c1c1c" stroke-width="1.3" stroke-linecap="butt"/>
<line x1="567.69" y1="218.00" x2="573.90" y2="218.00" stroke="#1c1c1c" stroke-width="1.3" stroke-linecap="butt"/>
<rect x="565.05" y="192.40" width="11.50" height="19.20" fill="#e0884f" stroke="#7a7a7a" stroke-width="1.5"/>
<line x1="565.05" y1="205.60" x2="576.55" y2="205.60" stroke="#7a7a7a" stroke-width="1.2" stroke-linecap="butt"/>
<circle cx="570.80" cy="170.50" r="0.88" fill="#000"/>
<circle cx="570.80" cy="180.14" r="0.88" fill="#000"/>
<circle cx="570.80" cy="184.13" r="0.88" fill="#000"/>
<circle cx="570.80" cy="187.27" r="0.88" fill="#000"/>
<circle cx="570.80" cy="193.08" r="0.88" fill="#000"/>
<circle cx="569.20" cy="193.65" r="0.88" fill="#000"/>
<circle cx="571.60" cy="194.57" r="0.88" fill="#000"/>
<circle cx="570.80" cy="196.66" r="0.88" fill="#000"/>
<circle cx="570.80" cy="199.00" r="0.88" fill="#000"/>
<circle cx="572.40" cy="199.30" r="0.88" fill="#000"/>
<circle cx="569.20" cy="199.40" r="0.88" fill="#000"/>
<circle cx="570.80" cy="201.22" r="0.88" fill="#000"/>
<circle cx="572.40" cy="201.59" r="0.88" fill="#000"/>
<circle cx="569.20" cy="201.64" r="0.88" fill="#000"/>
<circle cx="574.00" cy="201.65" r="0.88" fill="#000"/>
<circle cx="570.80" cy="202.92" r="0.88" fill="#000"/>
<circle cx="569.20" cy="203.95" r="0.88" fill="#000"/>
<circle cx="570.80" cy="206.43" r="0.88" fill="#000"/>
<circle cx="569.20" cy="206.51" r="0.88" fill="#000"/>
<circle cx="570.80" cy="208.97" r="0.88" fill="#000"/>
<circle cx="570.80" cy="211.04" r="0.88" fill="#000"/>
<circle cx="571.60" cy="212.49" r="0.88" fill="#000"/>
<circle cx="570.80" cy="214.93" r="0.88" fill="#000"/>
<circle cx="570.80" cy="218.00" r="0.88" fill="#000"/>
<line x1="584.50" y1="178.00" x2="584.50" y2="189.50" stroke="#555" stroke-width="1.4" stroke-linecap="butt"/>
<line x1="584.50" y1="204.50" x2="584.50" y2="217.00" stroke="#555" stroke-width="1.4" stroke-linecap="butt"/>
<line x1="581.39" y1="178.00" x2="587.61" y2="178.00" stroke="#1c1c1c" stroke-width="1.3" stroke-linecap="butt"/>
<line x1="581.39" y1="217.00" x2="587.61" y2="217.00" stroke="#1c1c1c" stroke-width="1.3" stroke-linecap="butt"/>
<rect x="578.75" y="189.50" width="11.50" height="15.00" fill="#5aa65c" stroke="#7a7a7a" stroke-width="1.5"/>
<line x1="578.75" y1="199.00" x2="590.25" y2="199.00" stroke="#7a7a7a" stroke-width="1.2" stroke-linecap="butt"/>
<circle cx="584.50" cy="178.00" r="0.88" fill="#000"/>
<circle cx="584.50" cy="184.77" r="0.88" fill="#000"/>
<circle cx="586.10" cy="184.96" r="0.88" fill="#000"/>
<circle cx="584.50" cy="189.68" r="0.88" fill="#000"/>
<circle cx="586.10" cy="189.91" r="0.88" fill="#000"/>
<circle cx="582.90" cy="190.41" r="0.88" fill="#000"/>
<circle cx="587.70" cy="190.44" r="0.88" fill="#000"/>
<circle cx="581.30" cy="190.51" r="0.88" fill="#000"/>
<circle cx="581.54" cy="190.96" r="0.88" fill="#000"/>
<circle cx="584.50" cy="192.15" r="0.88" fill="#000"/>
<circle cx="586.10" cy="193.05" r="0.88" fill="#000"/>
<circle cx="582.90" cy="193.15" r="0.88" fill="#000"/>
<circle cx="584.50" cy="193.81" r="0.88" fill="#000"/>
<circle cx="586.90" cy="194.38" r="0.88" fill="#000"/>
<circle cx="581.30" cy="194.41" r="0.88" fill="#000"/>
<circle cx="583.70" cy="195.27" r="0.88" fill="#000"/>
<circle cx="585.30" cy="195.77" r="0.88" fill="#000"/>
<circle cx="582.90" cy="196.63" r="0.88" fill="#000"/>
<circle cx="586.90" cy="196.82" r="0.88" fill="#000"/>
<circle cx="581.30" cy="196.88" r="0.88" fill="#000"/>
<circle cx="584.50" cy="197.28" r="0.88" fill="#000"/>
<circle cx="588.50" cy="198.05" r="0.88" fill="#000"/>
<circle cx="583.70" cy="198.71" r="0.88" fill="#000"/>
<circle cx="585.30" cy="199.04" r="0.88" fill="#000"/>
<circle cx="586.90" cy="199.04" r="0.88" fill="#000"/>
<circle cx="582.10" cy="199.09" r="0.88" fill="#000"/>
<circle cx="580.50" cy="199.13" r="0.88" fill="#000"/>
<circle cx="580.45" cy="199.15" r="0.88" fill="#000"/>
<circle cx="584.50" cy="200.73" r="0.88" fill="#000"/>
<circle cx="582.90" cy="201.16" r="0.88" fill="#000"/>
<circle cx="586.10" cy="201.50" r="0.88" fill="#000"/>
<circle cx="587.70" cy="202.16" r="0.88" fill="#000"/>
<circle cx="584.50" cy="202.53" r="0.88" fill="#000"/>
<circle cx="586.10" cy="203.82" r="0.88" fill="#000"/>
<circle cx="583.70" cy="203.93" r="0.88" fill="#000"/>
<circle cx="584.50" cy="206.27" r="0.88" fill="#000"/>
<circle cx="583.70" cy="207.77" r="0.88" fill="#000"/>
<circle cx="585.30" cy="208.70" r="0.88" fill="#000"/>
<circle cx="586.90" cy="208.94" r="0.88" fill="#000"/>
<circle cx="582.90" cy="209.22" r="0.88" fill="#000"/>
<circle cx="584.50" cy="216.00" r="0.88" fill="#000"/>
<circle cx="582.90" cy="217.00" r="0.88" fill="#000"/>
<circle cx="584.50" cy="159.20" r="0.95" fill="#000"/>
<circle cx="584.50" cy="165.80" r="0.95" fill="#000"/>
<line x1="597.80" y1="183.80" x2="597.80" y2="189.20" stroke="#555" stroke-width="1.4" stroke-linecap="butt"/>
<line x1="597.80" y1="198.00" x2="597.80" y2="207.90" stroke="#555" stroke-width="1.4" stroke-linecap="butt"/>
<line x1="594.69" y1="183.80" x2="600.90" y2="183.80" stroke="#1c1c1c" stroke-width="1.3" stroke-linecap="butt"/>
<line x1="594.69" y1="207.90" x2="600.90" y2="207.90" stroke="#1c1c1c" stroke-width="1.3" stroke-linecap="butt"/>
<rect x="592.05" y="189.20" width="11.50" height="8.80" fill="#cf5559" stroke="#7a7a7a" stroke-width="1.5"/>
<line x1="592.05" y1="193.60" x2="603.55" y2="193.60" stroke="#7a7a7a" stroke-width="1.2" stroke-linecap="butt"/>
<circle cx="597.80" cy="183.80" r="0.88" fill="#000"/>
<circle cx="597.80" cy="189.57" r="0.88" fill="#000"/>
<circle cx="599.40" cy="189.60" r="0.88" fill="#000"/>
<circle cx="597.80" cy="192.04" r="0.88" fill="#000"/>
<circle cx="596.20" cy="192.46" r="0.88" fill="#000"/>
<circle cx="597.80" cy="194.33" r="0.88" fill="#000"/>
<circle cx="599.40" cy="194.34" r="0.88" fill="#000"/>
<circle cx="596.20" cy="194.43" r="0.88" fill="#000"/>
<circle cx="594.60" cy="194.91" r="0.88" fill="#000"/>
<circle cx="597.80" cy="203.93" r="0.88" fill="#000"/>
<circle cx="597.80" cy="207.90" r="0.88" fill="#000"/>
<circle cx="597.80" cy="214.80" r="0.95" fill="#000"/>
<polyline points="556.30,155.30 556.30,153.70 598.90,153.70 598.90,155.30" fill="none" stroke="#555" stroke-width="0.8"/>
<text x="577.70" y="151.90" font-size="5.9" text-anchor="middle" fill="#000" stroke="#000" stroke-width="0.22">p&lt;0.0001</text>
<polyline points="556.30,164.50 556.30,162.90 584.30,162.90 584.30,164.50" fill="none" stroke="#555" stroke-width="0.8"/>
<text x="569.70" y="161.10" font-size="5.9" text-anchor="middle" fill="#000" stroke="#000" stroke-width="0.22">p=0.0002</text>
<polyline points="556.30,188.90 556.30,187.30 570.40,187.30 570.40,188.90" fill="none" stroke="#555" stroke-width="0.8"/>
<text x="560.20" y="179.70" font-size="5.9" text-anchor="middle" fill="#000" stroke="#000" stroke-width="0.22">p=</text>
<text x="560.40" y="185.60" font-size="5.9" text-anchor="middle" fill="#000" stroke="#000" stroke-width="0.22">0.005</text>
<rect x="628.00" y="155.80" width="56.50" height="74.50" fill="#fff" stroke="#dcdcdc" stroke-width="0.8"/>
<line x1="628.00" y1="167.40" x2="684.50" y2="167.40" stroke="#e4e4e4" stroke-width="0.8" stroke-linecap="butt"/>
<text x="625.80" y="169.20" font-size="8.0" text-anchor="end" fill="#000" stroke="#000" stroke-width="0.22">80</text>
<line x1="628.00" y1="182.28" x2="684.50" y2="182.28" stroke="#e4e4e4" stroke-width="0.8" stroke-linecap="butt"/>
<text x="625.80" y="185.28" font-size="8.0" text-anchor="end" fill="#000" stroke="#000" stroke-width="0.22">60</text>
<line x1="628.00" y1="197.15" x2="684.50" y2="197.15" stroke="#e4e4e4" stroke-width="0.8" stroke-linecap="butt"/>
<text x="625.80" y="201.35" font-size="8.0" text-anchor="end" fill="#000" stroke="#000" stroke-width="0.22">40</text>
<line x1="628.00" y1="212.03" x2="684.50" y2="212.03" stroke="#e4e4e4" stroke-width="0.8" stroke-linecap="butt"/>
<text x="625.80" y="217.43" font-size="8.0" text-anchor="end" fill="#000" stroke="#000" stroke-width="0.22">20</text>
<line x1="628.00" y1="226.90" x2="684.50" y2="226.90" stroke="#e4e4e4" stroke-width="0.8" stroke-linecap="butt"/>
<text x="625.80" y="233.50" font-size="8.0" text-anchor="end" fill="#000" stroke="#000" stroke-width="0.22">0</text>
<line x1="634.60" y1="230.50" x2="634.60" y2="231.70" stroke="#333" stroke-width="0.9" stroke-linecap="butt"/>
<text x="634.60" y="239.90" font-size="8.0" text-anchor="middle" fill="#000" stroke="#000" stroke-width="0.22">C</text>
<line x1="648.90" y1="230.50" x2="648.90" y2="231.70" stroke="#333" stroke-width="0.9" stroke-linecap="butt"/>
<text x="648.90" y="239.90" font-size="8.0" text-anchor="middle" fill="#000" stroke="#000" stroke-width="0.22">1</text>
<line x1="662.70" y1="230.50" x2="662.70" y2="231.70" stroke="#333" stroke-width="0.9" stroke-linecap="butt"/>
<text x="662.70" y="239.90" font-size="8.0" text-anchor="middle" fill="#000" stroke="#000" stroke-width="0.22">2/3</text>
<line x1="677.20" y1="230.50" x2="677.20" y2="231.70" stroke="#333" stroke-width="0.9" stroke-linecap="butt"/>
<text x="677.20" y="239.90" font-size="8.0" text-anchor="middle" fill="#000" stroke="#000" stroke-width="0.22">4</text>
<text x="659.00" y="248.90" font-size="8.2" text-anchor="middle" fill="#000" stroke="#000" stroke-width="0.22">Scadding</text>
<text x="657.20" y="143.40" font-size="8.2" text-anchor="middle" fill="#000" font-weight="bold" font-style="italic">GBP5</text>
<line x1="635.30" y1="221.40" x2="635.30" y2="222.00" stroke="#555" stroke-width="1.4" stroke-linecap="butt"/>
<line x1="635.30" y1="224.70" x2="635.30" y2="225.20" stroke="#555" stroke-width="1.4" stroke-linecap="butt"/>
<line x1="631.79" y1="221.40" x2="638.81" y2="221.40" stroke="#1c1c1c" stroke-width="1.3" stroke-linecap="butt"/>
<line x1="631.79" y1="225.20" x2="638.81" y2="225.20" stroke="#1c1c1c" stroke-width="1.3" stroke-linecap="butt"/>
<rect x="628.80" y="222.00" width="13.00" height="2.70" fill="#666666" stroke="#7a7a7a" stroke-width="1.5"/>
<circle cx="635.30" cy="221.40" r="0.88" fill="#000"/>
<circle cx="636.90" cy="222.55" r="0.88" fill="#000"/>
<circle cx="634.50" cy="222.82" r="0.88" fill="#000"/>
<circle cx="632.90" cy="222.85" r="0.88" fill="#000"/>
<circle cx="638.50" cy="223.11" r="0.88" fill="#000"/>
<circle cx="631.30" cy="223.27" r="0.88" fill="#000"/>
<circle cx="634.10" cy="223.36" r="0.88" fill="#000"/>
<circle cx="636.10" cy="224.19" r="0.88" fill="#000"/>
<circle cx="637.70" cy="224.59" r="0.88" fill="#000"/>
<circle cx="634.50" cy="225.20" r="0.88" fill="#000"/>
<circle cx="632.90" cy="225.20" r="0.88" fill="#000"/>
<line x1="649.50" y1="177.30" x2="649.50" y2="198.60" stroke="#555" stroke-width="1.4" stroke-linecap="butt"/>
<line x1="649.50" y1="216.30" x2="649.50" y2="221.40" stroke="#555" stroke-width="1.4" stroke-linecap="butt"/>
<line x1="646.10" y1="177.30" x2="652.90" y2="177.30" stroke="#1c1c1c" stroke-width="1.3" stroke-linecap="butt"/>
<line x1="646.10" y1="221.40" x2="652.90" y2="221.40" stroke="#1c1c1c" stroke-width="1.3" stroke-linecap="butt"/>
<rect x="643.20" y="198.60" width="12.60" height="17.70" fill="#e0884f" stroke="#7a7a7a" stroke-width="1.5"/>
<line x1="643.20" y1="211.80" x2="655.80" y2="211.80" stroke="#7a7a7a" stroke-width="1.2" stroke-linecap="butt"/>
<circle cx="649.50" cy="177.30" r="0.88" fill="#000"/>
<circle cx="649.50" cy="182.26" r="0.88" fill="#000"/>
<circle cx="651.10" cy="182.84" r="0.88" fill="#000"/>
<circle cx="649.50" cy="189.20" r="0.88" fill="#000"/>
<circle cx="649.50" cy="195.35" r="0.88" fill="#000"/>
<circle cx="649.50" cy="196.96" r="0.88" fill="#000"/>
<circle cx="649.50" cy="198.73" r="0.88" fill="#000"/>
<circle cx="651.10" cy="198.73" r="0.88" fill="#000"/>
<circle cx="649.50" cy="201.82" r="0.88" fill="#000"/>
<circle cx="648.70" cy="203.25" r="0.88" fill="#000"/>
<circle cx="650.30" cy="203.54" r="0.88" fill="#000"/>
<circle cx="649.50" cy="205.35" r="0.88" fill="#000"/>
<circle cx="647.90" cy="205.51" r="0.88" fill="#000"/>
<circle cx="651.10" cy="206.02" r="0.88" fill="#000"/>
<circle cx="646.30" cy="206.27" r="0.88" fill="#000"/>
<circle cx="652.70" cy="206.35" r="0.88" fill="#000"/>
<circle cx="649.50" cy="210.86" r="0.88" fill="#000"/>
<circle cx="647.90" cy="211.10" r="0.88" fill="#000"/>
<circle cx="649.50" cy="213.52" r="0.88" fill="#000"/>
<circle cx="647.90" cy="213.74" r="0.88" fill="#000"/>
<circle cx="651.10" cy="214.32" r="0.88" fill="#000"/>
<circle cx="649.50" cy="216.10" r="0.88" fill="#000"/>
<circle cx="651.10" cy="216.87" r="0.88" fill="#000"/>
<circle cx="649.50" cy="221.40" r="0.88" fill="#000"/>
<line x1="663.50" y1="183.90" x2="663.50" y2="194.90" stroke="#555" stroke-width="1.4" stroke-linecap="butt"/>
<line x1="663.50" y1="214.40" x2="663.50" y2="221.10" stroke="#555" stroke-width="1.4" stroke-linecap="butt"/>
<line x1="660.04" y1="183.90" x2="666.96" y2="183.90" stroke="#1c1c1c" stroke-width="1.3" stroke-linecap="butt"/>
<line x1="660.04" y1="221.10" x2="666.96" y2="221.10" stroke="#1c1c1c" stroke-width="1.3" stroke-linecap="butt"/>
<rect x="657.10" y="194.90" width="12.80" height="19.50" fill="#5aa65c" stroke="#7a7a7a" stroke-width="1.5"/>
<line x1="657.10" y1="206.00" x2="669.90" y2="206.00" stroke="#7a7a7a" stroke-width="1.2" stroke-linecap="butt"/>
<circle cx="663.50" cy="183.90" r="0.88" fill="#000"/>
<circle cx="663.50" cy="194.99" r="0.88" fill="#000"/>
<circle cx="665.10" cy="195.19" r="0.88" fill="#000"/>
<circle cx="661.90" cy="196.22" r="0.88" fill="#000"/>
<circle cx="660.30" cy="196.29" r="0.88" fill="#000"/>
<circle cx="666.70" cy="196.35" r="0.88" fill="#000"/>
<circle cx="663.50" cy="196.53" r="0.88" fill="#000"/>
<circle cx="665.10" cy="196.76" r="0.88" fill="#000"/>
<circle cx="663.50" cy="199.17" r="0.88" fill="#000"/>
<circle cx="661.90" cy="199.28" r="0.88" fill="#000"/>
<circle cx="665.10" cy="200.09" r="0.88" fill="#000"/>
<circle cx="660.30" cy="200.19" r="0.88" fill="#000"/>
<circle cx="666.70" cy="200.53" r="0.88" fill="#000"/>
<circle cx="663.50" cy="200.86" r="0.88" fill="#000"/>
<circle cx="661.90" cy="201.22" r="0.88" fill="#000"/>
<circle cx="659.81" cy="201.25" r="0.88" fill="#000"/>
<circle cx="665.10" cy="201.73" r="0.88" fill="#000"/>
<circle cx="666.70" cy="202.05" r="0.88" fill="#000"/>
<circle cx="663.50" cy="203.70" r="0.88" fill="#000"/>
<circle cx="663.50" cy="206.21" r="0.88" fill="#000"/>
<circle cx="665.10" cy="206.56" r="0.88" fill="#000"/>
<circle cx="661.90" cy="206.72" r="0.88" fill="#000"/>
<circle cx="666.70" cy="206.73" r="0.88" fill="#000"/>
<circle cx="663.50" cy="208.18" r="0.88" fill="#000"/>
<circle cx="665.10" cy="208.43" r="0.88" fill="#000"/>
<circle cx="661.90" cy="209.46" r="0.88" fill="#000"/>
<circle cx="663.50" cy="209.97" r="0.88" fill="#000"/>
<circle cx="661.90" cy="211.20" r="0.88" fill="#000"/>
<circle cx="663.50" cy="211.73" r="0.88" fill="#000"/>
<circle cx="665.10" cy="211.82" r="0.88" fill="#000"/>
<circle cx="660.30" cy="212.40" r="0.88" fill="#000"/>
<circle cx="666.70" cy="212.63" r="0.88" fill="#000"/>
<circle cx="660.40" cy="212.70" r="0.88" fill="#000"/>
<circle cx="663.50" cy="213.49" r="0.88" fill="#000"/>
<circle cx="665.10" cy="213.76" r="0.88" fill="#000"/>
<circle cx="661.90" cy="214.11" r="0.88" fill="#000"/>
<circle cx="659.50" cy="214.13" r="0.88" fill="#000"/>
<circle cx="663.50" cy="215.47" r="0.88" fill="#000"/>
<circle cx="661.90" cy="215.82" r="0.88" fill="#000"/>
<circle cx="663.50" cy="219.24" r="0.88" fill="#000"/>
<circle cx="665.10" cy="220.04" r="0.88" fill="#000"/>
<circle cx="663.50" cy="221.10" r="0.88" fill="#000"/>
<line x1="677.40" y1="188.60" x2="677.40" y2="193.60" stroke="#555" stroke-width="1.4" stroke-linecap="butt"/>
<line x1="677.40" y1="204.80" x2="677.40" y2="219.40" stroke="#555" stroke-width="1.4" stroke-linecap="butt"/>
<line x1="674.11" y1="188.60" x2="680.69" y2="188.60" stroke="#1c1c1c" stroke-width="1.3" stroke-linecap="butt"/>
<line x1="674.11" y1="219.40" x2="680.69" y2="219.40" stroke="#1c1c1c" stroke-width="1.3" stroke-linecap="butt"/>
<rect x="671.30" y="193.60" width="12.20" height="11.20" fill="#cf5559" stroke="#7a7a7a" stroke-width="1.5"/>
<line x1="671.30" y1="195.60" x2="683.50" y2="195.60" stroke="#7a7a7a" stroke-width="1.2" stroke-linecap="butt"/>
<circle cx="677.40" cy="188.60" r="0.88" fill="#000"/>
<circle cx="677.40" cy="195.51" r="0.88" fill="#000"/>
<circle cx="675.80" cy="196.73" r="0.88" fill="#000"/>
<circle cx="677.40" cy="197.58" r="0.88" fill="#000"/>
<circle cx="679.00" cy="198.24" r="0.88" fill="#000"/>
<circle cx="676.60" cy="199.09" r="0.88" fill="#000"/>
<circle cx="675.00" cy="199.17" r="0.88" fill="#000"/>
<circle cx="677.40" cy="202.78" r="0.88" fill="#000"/>
<circle cx="675.80" cy="203.87" r="0.88" fill="#000"/>
<circle cx="677.40" cy="213.52" r="0.88" fill="#000"/>
<circle cx="677.40" cy="219.40" r="0.88" fill="#000"/>
<polyline points="648.30,155.10 648.30,153.50 678.70,153.50 678.70,155.10" fill="none" stroke="#555" stroke-width="0.8"/>
<text x="663.70" y="150.90" font-size="5.9" text-anchor="middle" fill="#000" stroke="#000" stroke-width="0.22">p=0.04</text>
<polyline points="634.20,167.90 634.20,166.30 678.00,166.30 678.00,167.90" fill="none" stroke="#555" stroke-width="0.8"/>
<text x="649.20" y="164.10" font-size="5.9" text-anchor="middle" fill="#000" stroke="#000" stroke-width="0.22">p&lt;0.0001</text>
<circle cx="663.30" cy="158.80" r="0.8" fill="#000"/>
<polyline points="634.20,176.30 634.20,174.70 664.40,174.70 664.40,176.30" fill="none" stroke="#555" stroke-width="0.8"/>
<text x="648.90" y="172.30" font-size="5.9" text-anchor="middle" fill="#000" stroke="#000" stroke-width="0.22">p=0.0006</text>
<polyline points="634.00,196.80 634.00,195.20 648.90,195.20 648.90,196.80" fill="none" stroke="#555" stroke-width="0.8"/>
<text x="627.40" y="193.60" font-size="5.9" text-anchor="start" fill="#000" stroke="#000" stroke-width="0.22">p=0.002</text>
<text x="0.40" y="275.40" font-size="14.2" text-anchor="start" fill="#000" font-weight="bold" stroke="#000" stroke-width="0.3">c</text>
<text x="30.40" y="352.00" font-size="8.2" text-anchor="middle" fill="#000" stroke="#000" stroke-width="0.22" transform="rotate(-90 30.40 352.00)">Batch corrected counts</text>
<rect x="64.50" y="297.60" width="106.30" height="113.80" fill="#fff" stroke="#dcdcdc" stroke-width="0.8"/>
<line x1="64.50" y1="301.60" x2="170.80" y2="301.60" stroke="#e4e4e4" stroke-width="0.8" stroke-linecap="butt"/>
<text x="63.20" y="305.90" font-size="8.0" text-anchor="end" fill="#000" stroke="#000" stroke-width="0.22">30000</text>
<line x1="64.50" y1="320.60" x2="170.80" y2="320.60" stroke="#e4e4e4" stroke-width="0.8" stroke-linecap="butt"/>
<text x="63.20" y="324.20" font-size="8.0" text-anchor="end" fill="#000" stroke="#000" stroke-width="0.22">25000</text>
<line x1="64.50" y1="338.90" x2="170.80" y2="338.90" stroke="#e4e4e4" stroke-width="0.8" stroke-linecap="butt"/>
<text x="63.20" y="342.20" font-size="8.0" text-anchor="end" fill="#000" stroke="#000" stroke-width="0.22">20000</text>
<line x1="64.50" y1="357.30" x2="170.80" y2="357.30" stroke="#e4e4e4" stroke-width="0.8" stroke-linecap="butt"/>
<text x="63.20" y="361.30" font-size="8.0" text-anchor="end" fill="#000" stroke="#000" stroke-width="0.22">15000</text>
<line x1="64.50" y1="376.60" x2="170.80" y2="376.60" stroke="#e4e4e4" stroke-width="0.8" stroke-linecap="butt"/>
<text x="63.20" y="379.30" font-size="8.0" text-anchor="end" fill="#000" stroke="#000" stroke-width="0.22">10000</text>
<line x1="64.50" y1="395.30" x2="170.80" y2="395.30" stroke="#e4e4e4" stroke-width="0.8" stroke-linecap="butt"/>
<text x="63.20" y="398.70" font-size="8.0" text-anchor="end" fill="#000" stroke="#000" stroke-width="0.22">5000</text>
<text x="63.20" y="414.90" font-size="8.0" text-anchor="end" fill="#000" stroke="#000" stroke-width="0.22">0</text>
<text x="118.80" y="266.70" font-size="8.2" text-anchor="middle" fill="#000" font-weight="bold" font-style="italic">STAT1</text>
<line x1="65.80" y1="296.10" x2="80.00" y2="296.10" stroke="#4a72b8" stroke-width="1.3" stroke-linecap="butt"/>
<text x="74.30" y="292.50" font-size="7.7" text-anchor="start" fill="#4a72c0" font-weight="bold" transform="rotate(-45 74.30 292.50)" stroke="#4a72c0" stroke-width="0.25">cDC1</text>
<text x="69.90" y="419.00" font-size="8.0" text-anchor="end" fill="#4a72c0" stroke="#4a72c0" stroke-width="0.22" transform="rotate(-45 69.90 419.00)">Cont</text>
<text x="82.00" y="417.70" font-size="8.0" text-anchor="end" fill="#4a72c0" stroke="#4a72c0" stroke-width="0.22" transform="rotate(-45 82.00 417.70)">Sar</text>
<line x1="87.80" y1="296.10" x2="102.00" y2="296.10" stroke="#e5823c" stroke-width="1.3" stroke-linecap="butt"/>
<text x="95.85" y="292.50" font-size="7.7" text-anchor="start" fill="#e5823c" font-weight="bold" transform="rotate(-45 95.85 292.50)" stroke="#e5823c" stroke-width="0.25">cDC2</text>
<text x="92.70" y="419.00" font-size="8.0" text-anchor="end" fill="#e5823c" stroke="#e5823c" stroke-width="0.22" transform="rotate(-45 92.70 419.00)">Cont</text>
<text x="104.60" y="417.70" font-size="8.0" text-anchor="end" fill="#e5823c" stroke="#e5823c" stroke-width="0.22" transform="rotate(-45 104.60 417.70)">Sar</text>
<line x1="109.80" y1="296.10" x2="124.00" y2="296.10" stroke="#4eae52" stroke-width="1.3" stroke-linecap="butt"/>
<text x="117.40" y="292.50" font-size="7.7" text-anchor="start" fill="#4eae52" font-weight="bold" transform="rotate(-45 117.40 292.50)" stroke="#4eae52" stroke-width="0.25">AM</text>
<text x="115.50" y="419.00" font-size="8.0" text-anchor="end" fill="#4eae52" stroke="#4eae52" stroke-width="0.22" transform="rotate(-45 115.50 419.00)">Cont</text>
<text x="127.20" y="417.70" font-size="8.0" text-anchor="end" fill="#4eae52" stroke="#4eae52" stroke-width="0.22" transform="rotate(-45 127.20 417.70)">Sar</text>
<line x1="131.80" y1="296.10" x2="146.00" y2="296.10" stroke="#c8474d" stroke-width="1.3" stroke-linecap="butt"/>
<text x="138.95" y="292.50" font-size="7.7" text-anchor="start" fill="#c8474d" font-weight="bold" transform="rotate(-45 138.95 292.50)" stroke="#c8474d" stroke-width="0.25">CM</text>
<text x="138.30" y="419.00" font-size="8.0" text-anchor="end" fill="#c8474d" stroke="#c8474d" stroke-width="0.22" transform="rotate(-45 138.30 419.00)">Cont</text>
<text x="149.80" y="417.70" font-size="8.0" text-anchor="end" fill="#c8474d" stroke="#c8474d" stroke-width="0.22" transform="rotate(-45 149.80 417.70)">Sar</text>
<line x1="153.80" y1="296.10" x2="168.00" y2="296.10" stroke="#9468d2" stroke-width="1.3" stroke-linecap="butt"/>
<text x="160.50" y="292.50" font-size="7.7" text-anchor="start" fill="#9468d2" font-weight="bold" transform="rotate(-45 160.50 292.50)" stroke="#9468d2" stroke-width="0.25">IM</text>
<text x="161.10" y="419.00" font-size="8.0" text-anchor="end" fill="#9468d2" stroke="#9468d2" stroke-width="0.22" transform="rotate(-45 161.10 419.00)">Cont</text>
<text x="172.40" y="417.70" font-size="8.0" text-anchor="end" fill="#9468d2" stroke="#9468d2" stroke-width="0.22" transform="rotate(-45 172.40 417.70)">Sar</text>
<line x1="70.20" y1="386.50" x2="70.20" y2="392.10" stroke="#8f8f8f" stroke-width="1.0" stroke-linecap="butt"/>
<line x1="70.20" y1="401.90" x2="70.20" y2="402.60" stroke="#8f8f8f" stroke-width="1.0" stroke-linecap="butt"/>
<rect x="66.00" y="392.10" width="8.40" height="9.80" fill="#4a72b8" stroke="#8a8a8a" stroke-width="0.5"/>
<line x1="66.00" y1="397.50" x2="74.40" y2="397.50" stroke="#777" stroke-width="0.6" stroke-linecap="butt"/>
<circle cx="68.20" cy="386.40" r="1.25" fill="#000"/>
<circle cx="71.20" cy="388.20" r="1.25" fill="#000"/>
<circle cx="70.20" cy="395.60" r="1.25" fill="#000"/>
<circle cx="67.70" cy="400.60" r="1.25" fill="#000"/>
<circle cx="70.20" cy="401.20" r="1.25" fill="#000"/>
<circle cx="72.80" cy="400.80" r="1.25" fill="#000"/>
<circle cx="69.20" cy="402.40" r="1.25" fill="#000"/>
<line x1="80.80" y1="369.00" x2="80.80" y2="373.40" stroke="#8f8f8f" stroke-width="1.0" stroke-linecap="butt"/>
<line x1="80.80" y1="382.90" x2="80.80" y2="387.70" stroke="#8f8f8f" stroke-width="1.0" stroke-linecap="butt"/>
<rect x="76.60" y="373.40" width="8.40" height="9.50" fill="#4a72b8" stroke="#8a8a8a" stroke-width="0.5"/>
<line x1="76.60" y1="378.20" x2="85.00" y2="378.20" stroke="#777" stroke-width="0.6" stroke-linecap="butt"/>
<circle cx="80.80" cy="369.00" r="1.25" fill="#000"/>
<circle cx="80.80" cy="387.70" r="1.25" fill="#000"/>
<line x1="91.40" y1="392.80" x2="91.40" y2="396.50" stroke="#8f8f8f" stroke-width="1.0" stroke-linecap="butt"/>
<line x1="91.40" y1="404.10" x2="91.40" y2="404.50" stroke="#8f8f8f" stroke-width="1.0" stroke-linecap="butt"/>
<rect x="87.20" y="396.50" width="8.40" height="7.60" fill="#e5823c" stroke="#8a8a8a" stroke-width="0.5"/>
<line x1="87.20" y1="400.80" x2="95.60" y2="400.80" stroke="#777" stroke-width="0.6" stroke-linecap="butt"/>
<circle cx="91.40" cy="392.80" r="1.25" fill="#000"/>
<circle cx="90.40" cy="395.20" r="1.25" fill="#000"/>
<circle cx="89.40" cy="399.60" r="1.25" fill="#000"/>
<circle cx="93.40" cy="400.00" r="1.25" fill="#000"/>
<circle cx="91.40" cy="402.20" r="1.25" fill="#000"/>
<circle cx="88.90" cy="404.20" r="1.25" fill="#000"/>
<circle cx="93.90" cy="404.00" r="1.25" fill="#000"/>
<circle cx="91.40" cy="404.60" r="1.25" fill="#000"/>
<line x1="102.00" y1="352.50" x2="102.00" y2="366.40" stroke="#8f8f8f" stroke-width="1.0" stroke-linecap="butt"/>
<line x1="102.00" y1="379.70" x2="102.00" y2="381.90" stroke="#8f8f8f" stroke-width="1.0" stroke-linecap="butt"/>
<rect x="97.80" y="366.40" width="8.40" height="13.30" fill="#e5823c" stroke="#8a8a8a" stroke-width="0.5"/>
<line x1="97.80" y1="371.90" x2="106.20" y2="371.90" stroke="#777" stroke-width="0.6" stroke-linecap="butt"/>
<circle cx="102.00" cy="352.50" r="1.25" fill="#000"/>
<circle cx="102.00" cy="365.20" r="1.25" fill="#000"/>
<circle cx="102.00" cy="369.20" r="1.25" fill="#000"/>
<circle cx="102.00" cy="372.60" r="1.25" fill="#000"/>
<circle cx="102.00" cy="381.90" r="1.25" fill="#000"/>
<circle cx="102.00" cy="405.80" r="1.25" fill="#000"/>
<line x1="112.60" y1="396.20" x2="112.60" y2="399.00" stroke="#8f8f8f" stroke-width="1.0" stroke-linecap="butt"/>
<line x1="112.60" y1="403.80" x2="112.60" y2="405.40" stroke="#8f8f8f" stroke-width="1.0" stroke-linecap="butt"/>
<rect x="108.40" y="399.00" width="8.40" height="4.80" fill="#4eae52" stroke="#8a8a8a" stroke-width="0.5"/>
<line x1="108.40" y1="401.60" x2="116.80" y2="401.60" stroke="#777" stroke-width="0.6" stroke-linecap="butt"/>
<circle cx="111.60" cy="397.00" r="1.25" fill="#000"/>
<circle cx="114.20" cy="397.20" r="1.25" fill="#000"/>
<circle cx="109.60" cy="399.80" r="1.25" fill="#000"/>
<circle cx="115.00" cy="399.60" r="1.25" fill="#000"/>
<circle cx="111.60" cy="401.80" r="1.25" fill="#000"/>
<circle cx="109.00" cy="402.80" r="1.25" fill="#000"/>
<circle cx="115.60" cy="402.60" r="1.25" fill="#000"/>
<circle cx="111.00" cy="404.40" r="1.25" fill="#000"/>
<circle cx="113.60" cy="405.20" r="1.25" fill="#000"/>
<line x1="123.20" y1="385.80" x2="123.20" y2="388.00" stroke="#8f8f8f" stroke-width="1.0" stroke-linecap="butt"/>
<line x1="123.20" y1="394.60" x2="123.20" y2="398.20" stroke="#8f8f8f" stroke-width="1.0" stroke-linecap="butt"/>
<rect x="119.00" y="388.00" width="8.40" height="6.60" fill="#4eae52" stroke="#8a8a8a" stroke-width="0.5"/>
<line x1="119.00" y1="392.60" x2="127.40" y2="392.60" stroke="#777" stroke-width="0.6" stroke-linecap="butt"/>
<circle cx="123.20" cy="370.50" r="1.25" fill="#000"/>
<circle cx="123.20" cy="385.80" r="1.25" fill="#000"/>
<circle cx="122.20" cy="389.60" r="1.25" fill="#000"/>
<circle cx="123.20" cy="393.20" r="1.25" fill="#000"/>
<circle cx="123.20" cy="398.20" r="1.25" fill="#000"/>
<line x1="133.80" y1="373.80" x2="133.80" y2="385.50" stroke="#8f8f8f" stroke-width="1.0" stroke-linecap="butt"/>
<line x1="133.80" y1="395.30" x2="133.80" y2="398.20" stroke="#8f8f8f" stroke-width="1.0" stroke-linecap="butt"/>
<rect x="129.60" y="385.50" width="8.40" height="9.80" fill="#c8474d" stroke="#8a8a8a" stroke-width="0.5"/>
<line x1="129.60" y1="391.40" x2="138.00" y2="391.40" stroke="#777" stroke-width="0.6" stroke-linecap="butt"/>
<circle cx="133.80" cy="373.80" r="1.25" fill="#000"/>
<circle cx="132.20" cy="384.60" r="1.25" fill="#000"/>
<circle cx="133.80" cy="386.20" r="1.25" fill="#000"/>
<circle cx="133.80" cy="391.40" r="1.25" fill="#000"/>
<circle cx="131.80" cy="395.60" r="1.25" fill="#000"/>
<circle cx="135.80" cy="396.00" r="1.25" fill="#000"/>
<circle cx="133.80" cy="398.20" r="1.25" fill="#000"/>
<circle cx="144.40" cy="303.00" r="1.25" fill="#000"/>
<circle cx="141.60" cy="330.80" r="1.25" fill="#000"/>
<circle cx="143.60" cy="331.20" r="1.25" fill="#000"/>
<circle cx="145.80" cy="330.40" r="1.25" fill="#000"/>
<circle cx="147.60" cy="330.60" r="1.25" fill="#000"/>
<circle cx="144.40" cy="376.60" r="1.25" fill="#000"/>
<line x1="155.00" y1="392.40" x2="155.00" y2="394.60" stroke="#8f8f8f" stroke-width="1.0" stroke-linecap="butt"/>
<line x1="155.00" y1="398.00" x2="155.00" y2="400.90" stroke="#8f8f8f" stroke-width="1.0" stroke-linecap="butt"/>
<rect x="150.80" y="394.60" width="8.40" height="3.40" fill="#9468d2" stroke="#8a8a8a" stroke-width="0.5"/>
<line x1="150.80" y1="396.60" x2="159.20" y2="396.60" stroke="#777" stroke-width="0.6" stroke-linecap="butt"/>
<circle cx="155.00" cy="367.80" r="1.25" fill="#000"/>
<circle cx="155.00" cy="392.40" r="1.25" fill="#000"/>
<circle cx="152.00" cy="395.40" r="1.25" fill="#000"/>
<circle cx="154.00" cy="396.80" r="1.25" fill="#000"/>
<circle cx="156.40" cy="396.20" r="1.25" fill="#000"/>
<circle cx="158.40" cy="395.20" r="1.25" fill="#000"/>
<circle cx="155.00" cy="400.90" r="1.25" fill="#000"/>
<line x1="165.60" y1="351.80" x2="165.60" y2="366.40" stroke="#8f8f8f" stroke-width="1.0" stroke-linecap="butt"/>
<line x1="165.60" y1="389.80" x2="165.60" y2="396.50" stroke="#8f8f8f" stroke-width="1.0" stroke-linecap="butt"/>
<rect x="161.40" y="366.40" width="8.40" height="23.40" fill="#9468d2" stroke="#8a8a8a" stroke-width="0.5"/>
<line x1="161.40" y1="375.60" x2="169.80" y2="375.60" stroke="#777" stroke-width="0.6" stroke-linecap="butt"/>
<circle cx="165.60" cy="351.80" r="1.25" fill="#000"/>
<circle cx="165.00" cy="365.40" r="1.25" fill="#000"/>
<circle cx="165.60" cy="367.80" r="1.25" fill="#000"/>
<circle cx="165.60" cy="383.00" r="1.25" fill="#000"/>
<circle cx="165.60" cy="392.00" r="1.25" fill="#000"/>
<circle cx="165.60" cy="396.50" r="1.25" fill="#000"/>
<text x="75.80" y="360.20" font-size="5.9" text-anchor="middle" fill="#000" stroke="#000" stroke-width="0.22">p=0.02</text>
<polyline points="70.70,365.80 70.70,363.20 80.60,363.20 80.60,365.80" fill="none" stroke="#000" stroke-width="1.1"/>
<text x="139.00" y="314.00" font-size="5.9" text-anchor="middle" fill="#000" stroke="#000" stroke-width="0.22">p=0.0002</text>
<polyline points="134.10,319.50 134.10,316.90 143.90,316.90 143.90,319.50" fill="none" stroke="#000" stroke-width="1.1"/>
<rect x="227.50" y="297.40" width="106.00" height="113.80" fill="#fff" stroke="#dcdcdc" stroke-width="0.8"/>
<line x1="227.50" y1="307.00" x2="333.50" y2="307.00" stroke="#e4e4e4" stroke-width="0.8" stroke-linecap="butt"/>
<text x="225.50" y="311.40" font-size="8.0" text-anchor="end" fill="#000" stroke="#000" stroke-width="0.22">30000</text>
<line x1="227.50" y1="324.10" x2="333.50" y2="324.10" stroke="#e4e4e4" stroke-width="0.8" stroke-linecap="butt"/>
<text x="225.50" y="327.90" font-size="8.0" text-anchor="end" fill="#000" stroke="#000" stroke-width="0.22">25000</text>
<line x1="227.50" y1="340.20" x2="333.50" y2="340.20" stroke="#e4e4e4" stroke-width="0.8" stroke-linecap="butt"/>
<text x="225.50" y="344.10" font-size="8.0" text-anchor="end" fill="#000" stroke="#000" stroke-width="0.22">20000</text>
<line x1="227.50" y1="356.70" x2="333.50" y2="356.70" stroke="#e4e4e4" stroke-width="0.8" stroke-linecap="butt"/>
<text x="225.50" y="360.50" font-size="8.0" text-anchor="end" fill="#000" stroke="#000" stroke-width="0.22">15000</text>
<line x1="227.50" y1="373.50" x2="333.50" y2="373.50" stroke="#e4e4e4" stroke-width="0.8" stroke-linecap="butt"/>
<text x="225.50" y="376.90" font-size="8.0" text-anchor="end" fill="#000" stroke="#000" stroke-width="0.22">10000</text>
<line x1="227.50" y1="390.30" x2="333.50" y2="390.30" stroke="#e4e4e4" stroke-width="0.8" stroke-linecap="butt"/>
<text x="225.50" y="393.50" font-size="8.0" text-anchor="end" fill="#000" stroke="#000" stroke-width="0.22">5000</text>
<line x1="227.50" y1="406.50" x2="333.50" y2="406.50" stroke="#e4e4e4" stroke-width="0.8" stroke-linecap="butt"/>
<text x="225.50" y="409.90" font-size="8.0" text-anchor="end" fill="#000" stroke="#000" stroke-width="0.22">0</text>
<text x="281.20" y="266.70" font-size="8.2" text-anchor="middle" fill="#000" font-weight="bold" font-style="italic">CXCL9</text>
<line x1="228.80" y1="295.20" x2="243.00" y2="295.20" stroke="#4a72b8" stroke-width="1.3" stroke-linecap="butt"/>
<text x="236.64" y="291.60" font-size="7.7" text-anchor="start" fill="#4a72c0" font-weight="bold" transform="rotate(-45 236.64 291.60)" stroke="#4a72c0" stroke-width="0.25">cDC1</text>
<text x="232.90" y="418.80" font-size="8.0" text-anchor="end" fill="#4a72c0" stroke="#4a72c0" stroke-width="0.22" transform="rotate(-45 232.90 418.80)">Cont</text>
<text x="245.00" y="417.50" font-size="8.0" text-anchor="end" fill="#4a72c0" stroke="#4a72c0" stroke-width="0.22" transform="rotate(-45 245.00 417.50)">Sar</text>
<line x1="250.80" y1="295.20" x2="265.00" y2="295.20" stroke="#e5823c" stroke-width="1.3" stroke-linecap="butt"/>
<text x="258.33" y="291.60" font-size="7.7" text-anchor="start" fill="#e5823c" font-weight="bold" transform="rotate(-45 258.33 291.60)" stroke="#e5823c" stroke-width="0.25">cDC2</text>
<text x="255.70" y="418.80" font-size="8.0" text-anchor="end" fill="#e5823c" stroke="#e5823c" stroke-width="0.22" transform="rotate(-45 255.70 418.80)">Cont</text>
<text x="267.60" y="417.50" font-size="8.0" text-anchor="end" fill="#e5823c" stroke="#e5823c" stroke-width="0.22" transform="rotate(-45 267.60 417.50)">Sar</text>
<line x1="272.80" y1="295.20" x2="287.00" y2="295.20" stroke="#4eae52" stroke-width="1.3" stroke-linecap="butt"/>
<text x="280.01" y="291.60" font-size="7.7" text-anchor="start" fill="#4eae52" font-weight="bold" transform="rotate(-45 280.01 291.60)" stroke="#4eae52" stroke-width="0.25">AM</text>
<text x="278.50" y="418.80" font-size="8.0" text-anchor="end" fill="#4eae52" stroke="#4eae52" stroke-width="0.22" transform="rotate(-45 278.50 418.80)">Cont</text>
<text x="290.20" y="417.50" font-size="8.0" text-anchor="end" fill="#4eae52" stroke="#4eae52" stroke-width="0.22" transform="rotate(-45 290.20 417.50)">Sar</text>
<line x1="294.80" y1="295.20" x2="309.00" y2="295.20" stroke="#c8474d" stroke-width="1.3" stroke-linecap="butt"/>
<text x="301.71" y="291.60" font-size="7.7" text-anchor="start" fill="#c8474d" font-weight="bold" transform="rotate(-45 301.71 291.60)" stroke="#c8474d" stroke-width="0.25">CM</text>
<text x="301.30" y="418.80" font-size="8.0" text-anchor="end" fill="#c8474d" stroke="#c8474d" stroke-width="0.22" transform="rotate(-45 301.30 418.80)">Cont</text>
<text x="312.80" y="417.50" font-size="8.0" text-anchor="end" fill="#c8474d" stroke="#c8474d" stroke-width="0.22" transform="rotate(-45 312.80 417.50)">Sar</text>
<line x1="316.80" y1="295.20" x2="331.00" y2="295.20" stroke="#9468d2" stroke-width="1.3" stroke-linecap="butt"/>
<text x="323.39" y="291.60" font-size="7.7" text-anchor="start" fill="#9468d2" font-weight="bold" transform="rotate(-45 323.39 291.60)" stroke="#9468d2" stroke-width="0.25">IM</text>
<text x="324.10" y="418.80" font-size="8.0" text-anchor="end" fill="#9468d2" stroke="#9468d2" stroke-width="0.22" transform="rotate(-45 324.10 418.80)">Cont</text>
<text x="335.40" y="417.50" font-size="8.0" text-anchor="end" fill="#9468d2" stroke="#9468d2" stroke-width="0.22" transform="rotate(-45 335.40 417.50)">Sar</text>
<line x1="232.50" y1="390.00" x2="232.50" y2="390.30" stroke="#8f8f8f" stroke-width="1.0" stroke-linecap="butt"/>
<line x1="232.50" y1="396.50" x2="232.50" y2="401.00" stroke="#8f8f8f" stroke-width="1.0" stroke-linecap="butt"/>
<rect x="228.30" y="390.30" width="8.40" height="6.20" fill="#4a72b8" stroke="#8a8a8a" stroke-width="0.5"/>
<line x1="228.30" y1="394.00" x2="236.70" y2="394.00" stroke="#777" stroke-width="0.6" stroke-linecap="butt"/>
<circle cx="232.50" cy="379.00" r="1.25" fill="#000"/>
<circle cx="230.10" cy="390.60" r="1.25" fill="#000"/>
<circle cx="235.30" cy="390.60" r="1.25" fill="#000"/>
<circle cx="230.50" cy="392.60" r="1.25" fill="#000"/>
<circle cx="230.10" cy="401.00" r="1.25" fill="#000"/>
<circle cx="233.10" cy="401.00" r="1.25" fill="#000"/>
<line x1="243.17" y1="387.30" x2="243.17" y2="389.20" stroke="#8f8f8f" stroke-width="1.0" stroke-linecap="butt"/>
<line x1="243.17" y1="392.60" x2="243.17" y2="394.60" stroke="#8f8f8f" stroke-width="1.0" stroke-linecap="butt"/>
<rect x="238.97" y="389.20" width="8.40" height="3.40" fill="#4a72b8" stroke="#8a8a8a" stroke-width="0.5"/>
<line x1="238.97" y1="390.80" x2="247.37" y2="390.80" stroke="#777" stroke-width="0.6" stroke-linecap="butt"/>
<circle cx="243.17" cy="387.30" r="1.25" fill="#000"/>
<circle cx="243.17" cy="394.60" r="1.25" fill="#000"/>
<line x1="253.84" y1="396.00" x2="253.84" y2="398.20" stroke="#8f8f8f" stroke-width="1.0" stroke-linecap="butt"/>
<line x1="253.84" y1="401.80" x2="253.84" y2="403.60" stroke="#8f8f8f" stroke-width="1.0" stroke-linecap="butt"/>
<rect x="249.64" y="398.20" width="8.40" height="3.60" fill="#e5823c" stroke="#8a8a8a" stroke-width="0.5"/>
<line x1="249.64" y1="400.00" x2="258.04" y2="400.00" stroke="#777" stroke-width="0.6" stroke-linecap="butt"/>
<circle cx="253.84" cy="396.20" r="1.25" fill="#000"/>
<circle cx="251.84" cy="398.00" r="1.25" fill="#000"/>
<circle cx="256.24" cy="398.00" r="1.25" fill="#000"/>
<circle cx="250.44" cy="400.40" r="1.25" fill="#000"/>
<circle cx="252.84" cy="400.00" r="1.25" fill="#000"/>
<circle cx="255.44" cy="400.60" r="1.25" fill="#000"/>
<circle cx="257.44" cy="399.20" r="1.25" fill="#000"/>
<circle cx="251.84" cy="402.60" r="1.25" fill="#000"/>
<circle cx="254.84" cy="403.40" r="1.25" fill="#000"/>
<line x1="264.51" y1="395.60" x2="264.51" y2="402.40" stroke="#8f8f8f" stroke-width="0.8" stroke-linecap="butt"/>
<circle cx="261.11" cy="396.00" r="1.25" fill="#000"/>
<circle cx="263.31" cy="396.40" r="1.25" fill="#000"/>
<circle cx="265.71" cy="396.00" r="1.25" fill="#000"/>
<circle cx="268.11" cy="395.40" r="1.25" fill="#000"/>
<circle cx="264.51" cy="402.40" r="1.25" fill="#000"/>
<circle cx="271.58" cy="406.20" r="1.25" fill="#000"/>
<circle cx="273.98" cy="406.40" r="1.25" fill="#000"/>
<circle cx="276.38" cy="406.20" r="1.25" fill="#000"/>
<circle cx="278.78" cy="405.80" r="1.25" fill="#000"/>
<line x1="285.85" y1="398.00" x2="285.85" y2="399.40" stroke="#8f8f8f" stroke-width="1.0" stroke-linecap="butt"/>
<line x1="285.85" y1="403.50" x2="285.85" y2="405.00" stroke="#8f8f8f" stroke-width="1.0" stroke-linecap="butt"/>
<rect x="281.65" y="399.40" width="8.40" height="4.10" fill="#4eae52" stroke="#8a8a8a" stroke-width="0.5"/>
<line x1="281.65" y1="401.60" x2="290.05" y2="401.60" stroke="#777" stroke-width="0.6" stroke-linecap="butt"/>
<circle cx="283.85" cy="399.00" r="1.25" fill="#000"/>
<circle cx="287.85" cy="398.40" r="1.25" fill="#000"/>
<circle cx="282.45" cy="401.00" r="1.25" fill="#000"/>
<circle cx="289.25" cy="400.40" r="1.25" fill="#000"/>
<circle cx="283.25" cy="403.60" r="1.25" fill="#000"/>
<circle cx="285.85" cy="404.60" r="1.25" fill="#000"/>
<circle cx="288.85" cy="403.20" r="1.25" fill="#000"/>
<line x1="296.52" y1="394.40" x2="296.52" y2="396.10" stroke="#8f8f8f" stroke-width="1.0" stroke-linecap="butt"/>
<line x1="296.52" y1="400.90" x2="296.52" y2="402.60" stroke="#8f8f8f" stroke-width="1.0" stroke-linecap="butt"/>
<rect x="292.32" y="396.10" width="8.40" height="4.80" fill="#c8474d" stroke="#8a8a8a" stroke-width="0.5"/>
<line x1="292.32" y1="398.60" x2="300.72" y2="398.60" stroke="#777" stroke-width="0.6" stroke-linecap="butt"/>
<circle cx="296.52" cy="394.40" r="1.25" fill="#000"/>
<circle cx="293.52" cy="397.00" r="1.25" fill="#000"/>
<circle cx="299.52" cy="397.00" r="1.25" fill="#000"/>
<circle cx="293.52" cy="400.40" r="1.25" fill="#000"/>
<circle cx="296.52" cy="402.20" r="1.25" fill="#000"/>
<circle cx="299.52" cy="400.60" r="1.25" fill="#000"/>
<circle cx="296.52" cy="372.80" r="1.25" fill="#000"/>
<line x1="307.19" y1="302.50" x2="307.19" y2="345.80" stroke="#8f8f8f" stroke-width="1.0" stroke-linecap="butt"/>
<line x1="307.19" y1="384.10" x2="307.19" y2="391.40" stroke="#8f8f8f" stroke-width="1.0" stroke-linecap="butt"/>
<rect x="302.99" y="345.80" width="8.40" height="38.30" fill="#c8474d" stroke="#8a8a8a" stroke-width="0.5"/>
<line x1="302.99" y1="383.00" x2="311.39" y2="383.00" stroke="#777" stroke-width="0.6" stroke-linecap="butt"/>
<circle cx="307.19" cy="302.50" r="1.25" fill="#000"/>
<circle cx="307.19" cy="345.80" r="1.25" fill="#000"/>
<circle cx="305.59" cy="383.60" r="1.25" fill="#000"/>
<circle cx="308.39" cy="384.40" r="1.25" fill="#000"/>
<circle cx="307.19" cy="391.40" r="1.25" fill="#000"/>
<line x1="317.86" y1="400.00" x2="317.86" y2="402.40" stroke="#8f8f8f" stroke-width="1.0" stroke-linecap="butt"/>
<line x1="317.86" y1="404.60" x2="317.86" y2="405.60" stroke="#8f8f8f" stroke-width="1.0" stroke-linecap="butt"/>
<rect x="313.66" y="402.40" width="8.40" height="2.20" fill="#9468d2" stroke="#8a8a8a" stroke-width="0.5"/>
<line x1="313.66" y1="403.60" x2="322.06" y2="403.60" stroke="#777" stroke-width="0.6" stroke-linecap="butt"/>
<circle cx="315.86" cy="400.00" r="1.25" fill="#000"/>
<circle cx="318.86" cy="400.40" r="1.25" fill="#000"/>
<circle cx="314.26" cy="403.40" r="1.25" fill="#000"/>
<circle cx="316.66" cy="404.00" r="1.25" fill="#000"/>
<circle cx="319.26" cy="404.40" r="1.25" fill="#000"/>
<circle cx="321.66" cy="403.60" r="1.25" fill="#000"/>
<circle cx="317.86" cy="405.60" r="1.25" fill="#000"/>
<line x1="328.53" y1="389.20" x2="328.53" y2="391.10" stroke="#8f8f8f" stroke-width="1.0" stroke-linecap="butt"/>
<line x1="328.53" y1="402.40" x2="328.53" y2="403.40" stroke="#8f8f8f" stroke-width="1.0" stroke-linecap="butt"/>
<rect x="324.33" y="391.10" width="8.40" height="11.30" fill="#9468d2" stroke="#8a8a8a" stroke-width="0.5"/>
<line x1="324.33" y1="399.10" x2="332.73" y2="399.10" stroke="#777" stroke-width="0.6" stroke-linecap="butt"/>
<circle cx="328.53" cy="389.20" r="1.25" fill="#000"/>
<circle cx="328.53" cy="397.00" r="1.25" fill="#000"/>
<circle cx="326.13" cy="402.60" r="1.25" fill="#000"/>
<circle cx="328.53" cy="403.20" r="1.25" fill="#000"/>
<circle cx="331.13" cy="402.20" r="1.25" fill="#000"/>
<circle cx="328.53" cy="323.60" r="1.25" fill="#000"/>
<circle cx="264.40" cy="330.90" r="1.15" fill="#000"/>
<text x="295.80" y="337.80" font-size="5.9" text-anchor="middle" fill="#000" stroke="#000" stroke-width="0.22">p=0.03</text>
<polyline points="295.50,343.60 295.50,341.00 305.80,341.00 305.80,343.60" fill="none" stroke="#000" stroke-width="1.1"/>
<rect x="395.60" y="298.40" width="106.20" height="113.50" fill="#fff" stroke="#dcdcdc" stroke-width="0.8"/>
<line x1="395.60" y1="303.00" x2="501.80" y2="303.00" stroke="#e4e4e4" stroke-width="0.8" stroke-linecap="butt"/>
<text x="391.30" y="308.00" font-size="8.0" text-anchor="end" fill="#000" stroke="#000" stroke-width="0.22">10000</text>
<line x1="395.60" y1="324.20" x2="501.80" y2="324.20" stroke="#e4e4e4" stroke-width="0.8" stroke-linecap="butt"/>
<text x="391.30" y="327.50" font-size="8.0" text-anchor="end" fill="#000" stroke="#000" stroke-width="0.22">8000</text>
<line x1="395.60" y1="344.60" x2="501.80" y2="344.60" stroke="#e4e4e4" stroke-width="0.8" stroke-linecap="butt"/>
<text x="391.30" y="348.00" font-size="8.0" text-anchor="end" fill="#000" stroke="#000" stroke-width="0.22">6000</text>
<line x1="395.60" y1="365.30" x2="501.80" y2="365.30" stroke="#e4e4e4" stroke-width="0.8" stroke-linecap="butt"/>
<text x="391.30" y="368.20" font-size="8.0" text-anchor="end" fill="#000" stroke="#000" stroke-width="0.22">4000</text>
<line x1="395.60" y1="386.30" x2="501.80" y2="386.30" stroke="#e4e4e4" stroke-width="0.8" stroke-linecap="butt"/>
<text x="391.30" y="389.60" font-size="8.0" text-anchor="end" fill="#000" stroke="#000" stroke-width="0.22">2000</text>
<line x1="395.60" y1="407.60" x2="501.80" y2="407.60" stroke="#e4e4e4" stroke-width="0.8" stroke-linecap="butt"/>
<text x="391.30" y="414.80" font-size="8.0" text-anchor="end" fill="#000" stroke="#000" stroke-width="0.22">0</text>
<text x="449.10" y="266.70" font-size="8.2" text-anchor="middle" fill="#000" font-weight="bold" font-style="italic">CXCL11</text>
<line x1="396.90" y1="295.60" x2="411.10" y2="295.60" stroke="#4a72b8" stroke-width="1.3" stroke-linecap="butt"/>
<text x="404.53" y="292.00" font-size="7.7" text-anchor="start" fill="#4a72c0" font-weight="bold" transform="rotate(-45 404.53 292.00)" stroke="#4a72c0" stroke-width="0.25">cDC1</text>
<text x="401.00" y="419.50" font-size="8.0" text-anchor="end" fill="#4a72c0" stroke="#4a72c0" stroke-width="0.22" transform="rotate(-45 401.00 419.50)">Cont</text>
<text x="413.10" y="418.20" font-size="8.0" text-anchor="end" fill="#4a72c0" stroke="#4a72c0" stroke-width="0.22" transform="rotate(-45 413.10 418.20)">Sar</text>
<line x1="418.90" y1="295.60" x2="433.10" y2="295.60" stroke="#e5823c" stroke-width="1.3" stroke-linecap="butt"/>
<text x="426.23" y="292.00" font-size="7.7" text-anchor="start" fill="#e5823c" font-weight="bold" transform="rotate(-45 426.23 292.00)" stroke="#e5823c" stroke-width="0.25">cDC2</text>
<text x="423.80" y="419.50" font-size="8.0" text-anchor="end" fill="#e5823c" stroke="#e5823c" stroke-width="0.22" transform="rotate(-45 423.80 419.50)">Cont</text>
<text x="435.70" y="418.20" font-size="8.0" text-anchor="end" fill="#e5823c" stroke="#e5823c" stroke-width="0.22" transform="rotate(-45 435.70 418.20)">Sar</text>
<line x1="440.90" y1="295.60" x2="455.10" y2="295.60" stroke="#4eae52" stroke-width="1.3" stroke-linecap="butt"/>
<text x="447.91" y="292.00" font-size="7.7" text-anchor="start" fill="#4eae52" font-weight="bold" transform="rotate(-45 447.91 292.00)" stroke="#4eae52" stroke-width="0.25">AM</text>
<text x="446.60" y="419.50" font-size="8.0" text-anchor="end" fill="#4eae52" stroke="#4eae52" stroke-width="0.22" transform="rotate(-45 446.60 419.50)">Cont</text>
<text x="458.30" y="418.20" font-size="8.0" text-anchor="end" fill="#4eae52" stroke="#4eae52" stroke-width="0.22" transform="rotate(-45 458.30 418.20)">Sar</text>
<line x1="462.90" y1="295.60" x2="477.10" y2="295.60" stroke="#c8474d" stroke-width="1.3" stroke-linecap="butt"/>
<text x="469.61" y="292.00" font-size="7.7" text-anchor="start" fill="#c8474d" font-weight="bold" transform="rotate(-45 469.61 292.00)" stroke="#c8474d" stroke-width="0.25">CM</text>
<text x="469.40" y="419.50" font-size="8.0" text-anchor="end" fill="#c8474d" stroke="#c8474d" stroke-width="0.22" transform="rotate(-45 469.40 419.50)">Cont</text>
<text x="480.90" y="418.20" font-size="8.0" text-anchor="end" fill="#c8474d" stroke="#c8474d" stroke-width="0.22" transform="rotate(-45 480.90 418.20)">Sar</text>
<line x1="484.90" y1="295.60" x2="499.10" y2="295.60" stroke="#9468d2" stroke-width="1.3" stroke-linecap="butt"/>
<text x="491.29" y="292.00" font-size="7.7" text-anchor="start" fill="#9468d2" font-weight="bold" transform="rotate(-45 491.29 292.00)" stroke="#9468d2" stroke-width="0.25">IM</text>
<text x="492.20" y="419.50" font-size="8.0" text-anchor="end" fill="#9468d2" stroke="#9468d2" stroke-width="0.22" transform="rotate(-45 492.20 419.50)">Cont</text>
<text x="503.50" y="418.20" font-size="8.0" text-anchor="end" fill="#9468d2" stroke="#9468d2" stroke-width="0.22" transform="rotate(-45 503.50 418.20)">Sar</text>
<circle cx="396.80" cy="406.70" r="1.25" fill="#000"/>
<circle cx="399.00" cy="406.90" r="1.25" fill="#000"/>
<circle cx="401.20" cy="406.70" r="1.25" fill="#000"/>
<circle cx="403.60" cy="406.60" r="1.25" fill="#000"/>
<circle cx="400.80" cy="403.50" r="1.25" fill="#000"/>
<circle cx="409.07" cy="406.60" r="1.25" fill="#000"/>
<circle cx="411.67" cy="406.80" r="1.25" fill="#000"/>
<line x1="408.07" y1="406.70" x2="415.47" y2="406.70" stroke="#222" stroke-width="0.8" stroke-linecap="butt"/>
<line x1="421.74" y1="398.60" x2="421.74" y2="399.40" stroke="#8f8f8f" stroke-width="1.0" stroke-linecap="butt"/>
<line x1="421.74" y1="403.80" x2="421.74" y2="405.00" stroke="#8f8f8f" stroke-width="1.0" stroke-linecap="butt"/>
<rect x="417.54" y="399.40" width="8.40" height="4.40" fill="#e5823c" stroke="#8a8a8a" stroke-width="0.5"/>
<line x1="417.54" y1="402.00" x2="425.94" y2="402.00" stroke="#777" stroke-width="0.6" stroke-linecap="butt"/>
<circle cx="419.34" cy="399.00" r="1.25" fill="#000"/>
<circle cx="421.74" cy="399.20" r="1.25" fill="#000"/>
<circle cx="424.34" cy="399.00" r="1.25" fill="#000"/>
<circle cx="417.94" cy="402.80" r="1.25" fill="#000"/>
<circle cx="425.34" cy="401.60" r="1.25" fill="#000"/>
<circle cx="419.74" cy="404.60" r="1.25" fill="#000"/>
<circle cx="422.34" cy="405.00" r="1.25" fill="#000"/>
<circle cx="424.74" cy="403.60" r="1.25" fill="#000"/>
<line x1="432.41" y1="391.40" x2="432.41" y2="397.00" stroke="#8f8f8f" stroke-width="1.0" stroke-linecap="butt"/>
<line x1="432.41" y1="402.60" x2="432.41" y2="406.00" stroke="#8f8f8f" stroke-width="1.0" stroke-linecap="butt"/>
<rect x="428.21" y="397.00" width="8.40" height="5.60" fill="#e5823c" stroke="#8a8a8a" stroke-width="0.5"/>
<line x1="428.21" y1="399.80" x2="436.61" y2="399.80" stroke="#777" stroke-width="0.6" stroke-linecap="butt"/>
<circle cx="432.41" cy="391.40" r="1.25" fill="#000"/>
<circle cx="432.41" cy="396.20" r="1.25" fill="#000"/>
<circle cx="432.41" cy="399.40" r="1.25" fill="#000"/>
<circle cx="432.41" cy="406.00" r="1.25" fill="#000"/>
<circle cx="429.01" cy="399.60" r="1.25" fill="#000"/>
<circle cx="439.48" cy="406.40" r="1.25" fill="#000"/>
<circle cx="441.68" cy="406.70" r="1.25" fill="#000"/>
<circle cx="443.88" cy="406.70" r="1.25" fill="#000"/>
<circle cx="446.28" cy="406.50" r="1.25" fill="#000"/>
<rect x="449.55" y="403.20" width="8.40" height="2.00" fill="#4eae52" stroke="#8a8a8a" stroke-width="0.5"/>
<line x1="449.55" y1="404.20" x2="457.95" y2="404.20" stroke="#777" stroke-width="0.6" stroke-linecap="butt"/>
<circle cx="450.35" cy="404.80" r="1.25" fill="#000"/>
<circle cx="452.15" cy="402.60" r="1.25" fill="#000"/>
<circle cx="454.55" cy="403.60" r="1.25" fill="#000"/>
<circle cx="456.35" cy="405.60" r="1.25" fill="#000"/>
<circle cx="458.15" cy="404.00" r="1.25" fill="#000"/>
<circle cx="453.75" cy="405.60" r="1.25" fill="#000"/>
<line x1="464.42" y1="376.80" x2="464.42" y2="381.20" stroke="#8f8f8f" stroke-width="1.0" stroke-linecap="butt"/>
<line x1="464.42" y1="390.70" x2="464.42" y2="397.70" stroke="#8f8f8f" stroke-width="1.0" stroke-linecap="butt"/>
<rect x="460.22" y="381.20" width="8.40" height="9.50" fill="#c8474d" stroke="#8a8a8a" stroke-width="0.5"/>
<line x1="460.22" y1="388.20" x2="468.62" y2="388.20" stroke="#777" stroke-width="0.6" stroke-linecap="butt"/>
<circle cx="464.42" cy="376.80" r="1.25" fill="#000"/>
<circle cx="464.42" cy="382.60" r="1.25" fill="#000"/>
<circle cx="462.42" cy="389.20" r="1.25" fill="#000"/>
<circle cx="467.02" cy="388.00" r="1.25" fill="#000"/>
<circle cx="464.42" cy="394.80" r="1.25" fill="#000"/>
<circle cx="464.42" cy="397.70" r="1.25" fill="#000"/>
<line x1="475.09" y1="303.20" x2="475.09" y2="325.10" stroke="#8f8f8f" stroke-width="1.0" stroke-linecap="butt"/>
<line x1="475.09" y1="374.60" x2="475.09" y2="378.00" stroke="#8f8f8f" stroke-width="1.0" stroke-linecap="butt"/>
<rect x="470.89" y="325.10" width="8.40" height="49.50" fill="#c8474d" stroke="#8a8a8a" stroke-width="0.5"/>
<line x1="470.89" y1="373.20" x2="479.29" y2="373.20" stroke="#777" stroke-width="0.6" stroke-linecap="butt"/>
<circle cx="475.09" cy="303.20" r="1.25" fill="#000"/>
<circle cx="475.09" cy="325.10" r="1.25" fill="#000"/>
<circle cx="473.89" cy="372.00" r="1.25" fill="#000"/>
<circle cx="475.09" cy="374.60" r="1.25" fill="#000"/>
<circle cx="475.09" cy="378.00" r="1.25" fill="#000"/>
<line x1="485.76" y1="399.10" x2="485.76" y2="403.00" stroke="#8f8f8f" stroke-width="1.0" stroke-linecap="butt"/>
<line x1="485.76" y1="405.20" x2="485.76" y2="406.00" stroke="#8f8f8f" stroke-width="1.0" stroke-linecap="butt"/>
<rect x="481.56" y="403.00" width="8.40" height="2.20" fill="#9468d2" stroke="#8a8a8a" stroke-width="0.5"/>
<line x1="481.56" y1="404.20" x2="489.96" y2="404.20" stroke="#777" stroke-width="0.6" stroke-linecap="butt"/>
<circle cx="485.76" cy="399.10" r="1.25" fill="#000"/>
<circle cx="482.16" cy="403.60" r="1.25" fill="#000"/>
<circle cx="484.36" cy="404.80" r="1.25" fill="#000"/>
<circle cx="486.96" cy="404.60" r="1.25" fill="#000"/>
<circle cx="489.36" cy="403.40" r="1.25" fill="#000"/>
<circle cx="485.76" cy="406.00" r="1.25" fill="#000"/>
<circle cx="483.36" cy="405.60" r="1.25" fill="#000"/>
<line x1="496.43" y1="380.90" x2="496.43" y2="385.80" stroke="#8f8f8f" stroke-width="1.0" stroke-linecap="butt"/>
<line x1="496.43" y1="403.10" x2="496.43" y2="404.60" stroke="#8f8f8f" stroke-width="1.0" stroke-linecap="butt"/>
<rect x="492.23" y="385.80" width="8.40" height="17.30" fill="#9468d2" stroke="#8a8a8a" stroke-width="0.5"/>
<line x1="492.23" y1="398.30" x2="500.63" y2="398.30" stroke="#777" stroke-width="0.6" stroke-linecap="butt"/>
<circle cx="496.43" cy="380.90" r="1.25" fill="#000"/>
<circle cx="496.43" cy="383.00" r="1.25" fill="#000"/>
<circle cx="496.43" cy="392.60" r="1.25" fill="#000"/>
<circle cx="493.83" cy="403.20" r="1.25" fill="#000"/>
<circle cx="496.43" cy="404.40" r="1.25" fill="#000"/>
<circle cx="499.03" cy="403.40" r="1.25" fill="#000"/>
<text x="467.10" y="311.30" font-size="5.9" text-anchor="middle" fill="#000" stroke="#000" stroke-width="0.22">NS</text>
<circle cx="464.50" cy="314.20" r="1.15" fill="#000"/>
<polyline points="462.60,323.40 462.60,320.80 472.50,320.80 472.50,323.40" fill="none" stroke="#000" stroke-width="1.1"/>
<rect x="569.60" y="297.40" width="106.00" height="112.70" fill="#fff" stroke="#dcdcdc" stroke-width="0.8"/>
<line x1="569.60" y1="299.60" x2="675.60" y2="299.60" stroke="#e4e4e4" stroke-width="0.8" stroke-linecap="butt"/>
<text x="565.90" y="304.00" font-size="8.0" text-anchor="end" fill="#000" stroke="#000" stroke-width="0.22">50000</text>
<line x1="569.60" y1="320.70" x2="675.60" y2="320.70" stroke="#e4e4e4" stroke-width="0.8" stroke-linecap="butt"/>
<text x="565.90" y="324.20" font-size="8.0" text-anchor="end" fill="#000" stroke="#000" stroke-width="0.22">40000</text>
<line x1="569.60" y1="342.20" x2="675.60" y2="342.20" stroke="#e4e4e4" stroke-width="0.8" stroke-linecap="butt"/>
<text x="565.90" y="346.20" font-size="8.0" text-anchor="end" fill="#000" stroke="#000" stroke-width="0.22">30000</text>
<line x1="569.60" y1="363.40" x2="675.60" y2="363.40" stroke="#e4e4e4" stroke-width="0.8" stroke-linecap="butt"/>
<text x="565.90" y="367.40" font-size="8.0" text-anchor="end" fill="#000" stroke="#000" stroke-width="0.22">20000</text>
<line x1="569.60" y1="384.50" x2="675.60" y2="384.50" stroke="#e4e4e4" stroke-width="0.8" stroke-linecap="butt"/>
<text x="565.90" y="388.40" font-size="8.0" text-anchor="end" fill="#000" stroke="#000" stroke-width="0.22">10000</text>
<line x1="569.60" y1="406.00" x2="675.60" y2="406.00" stroke="#e4e4e4" stroke-width="0.8" stroke-linecap="butt"/>
<text x="568.50" y="409.60" font-size="8.0" text-anchor="end" fill="#000" stroke="#000" stroke-width="0.22">0</text>
<text x="622.30" y="266.70" font-size="8.2" text-anchor="middle" fill="#000" font-weight="bold" font-style="italic">GBP1</text>
<line x1="570.90" y1="295.20" x2="585.10" y2="295.20" stroke="#4a72b8" stroke-width="1.3" stroke-linecap="butt"/>
<text x="578.90" y="291.60" font-size="7.7" text-anchor="start" fill="#4a72c0" font-weight="bold" transform="rotate(-45 578.90 291.60)" stroke="#4a72c0" stroke-width="0.25">cDC1</text>
<text x="575.00" y="417.70" font-size="8.0" text-anchor="end" fill="#4a72c0" stroke="#4a72c0" stroke-width="0.22" transform="rotate(-45 575.00 417.70)">Cont</text>
<text x="587.10" y="416.40" font-size="8.0" text-anchor="end" fill="#4a72c0" stroke="#4a72c0" stroke-width="0.22" transform="rotate(-45 587.10 416.40)">Sar</text>
<line x1="592.90" y1="295.20" x2="607.10" y2="295.20" stroke="#e5823c" stroke-width="1.3" stroke-linecap="butt"/>
<text x="600.45" y="291.60" font-size="7.7" text-anchor="start" fill="#e5823c" font-weight="bold" transform="rotate(-45 600.45 291.60)" stroke="#e5823c" stroke-width="0.25">cDC2</text>
<text x="597.80" y="417.70" font-size="8.0" text-anchor="end" fill="#e5823c" stroke="#e5823c" stroke-width="0.22" transform="rotate(-45 597.80 417.70)">Cont</text>
<text x="609.70" y="416.40" font-size="8.0" text-anchor="end" fill="#e5823c" stroke="#e5823c" stroke-width="0.22" transform="rotate(-45 609.70 416.40)">Sar</text>
<line x1="614.90" y1="295.20" x2="629.10" y2="295.20" stroke="#4eae52" stroke-width="1.3" stroke-linecap="butt"/>
<text x="622.00" y="291.60" font-size="7.7" text-anchor="start" fill="#4eae52" font-weight="bold" transform="rotate(-45 622.00 291.60)" stroke="#4eae52" stroke-width="0.25">AM</text>
<text x="620.60" y="417.70" font-size="8.0" text-anchor="end" fill="#4eae52" stroke="#4eae52" stroke-width="0.22" transform="rotate(-45 620.60 417.70)">Cont</text>
<text x="632.30" y="416.40" font-size="8.0" text-anchor="end" fill="#4eae52" stroke="#4eae52" stroke-width="0.22" transform="rotate(-45 632.30 416.40)">Sar</text>
<line x1="636.90" y1="295.20" x2="651.10" y2="295.20" stroke="#c8474d" stroke-width="1.3" stroke-linecap="butt"/>
<text x="643.55" y="291.60" font-size="7.7" text-anchor="start" fill="#c8474d" font-weight="bold" transform="rotate(-45 643.55 291.60)" stroke="#c8474d" stroke-width="0.25">CM</text>
<text x="643.40" y="417.70" font-size="8.0" text-anchor="end" fill="#c8474d" stroke="#c8474d" stroke-width="0.22" transform="rotate(-45 643.40 417.70)">Cont</text>
<text x="654.90" y="416.40" font-size="8.0" text-anchor="end" fill="#c8474d" stroke="#c8474d" stroke-width="0.22" transform="rotate(-45 654.90 416.40)">Sar</text>
<line x1="658.90" y1="295.20" x2="673.10" y2="295.20" stroke="#9468d2" stroke-width="1.3" stroke-linecap="butt"/>
<text x="665.10" y="291.60" font-size="7.7" text-anchor="start" fill="#9468d2" font-weight="bold" transform="rotate(-45 665.10 291.60)" stroke="#9468d2" stroke-width="0.25">IM</text>
<text x="666.20" y="417.70" font-size="8.0" text-anchor="end" fill="#9468d2" stroke="#9468d2" stroke-width="0.22" transform="rotate(-45 666.20 417.70)">Cont</text>
<text x="677.50" y="416.40" font-size="8.0" text-anchor="end" fill="#9468d2" stroke="#9468d2" stroke-width="0.22" transform="rotate(-45 677.50 416.40)">Sar</text>
<circle cx="571.20" cy="404.00" r="1.25" fill="#000"/>
<circle cx="573.40" cy="404.80" r="1.25" fill="#000"/>
<circle cx="575.60" cy="404.80" r="1.25" fill="#000"/>
<circle cx="578.00" cy="404.40" r="1.25" fill="#000"/>
<circle cx="582.80" cy="403.20" r="1.25" fill="#000"/>
<circle cx="584.80" cy="402.40" r="1.25" fill="#000"/>
<circle cx="586.80" cy="403.00" r="1.25" fill="#000"/>
<circle cx="588.80" cy="401.80" r="1.25" fill="#000"/>
<line x1="596.00" y1="396.40" x2="596.00" y2="398.00" stroke="#8f8f8f" stroke-width="1.0" stroke-linecap="butt"/>
<line x1="596.00" y1="400.60" x2="596.00" y2="402.60" stroke="#8f8f8f" stroke-width="1.0" stroke-linecap="butt"/>
<rect x="591.80" y="398.00" width="8.40" height="2.60" fill="#e5823c" stroke="#8a8a8a" stroke-width="0.5"/>
<line x1="591.80" y1="399.40" x2="600.20" y2="399.40" stroke="#777" stroke-width="0.6" stroke-linecap="butt"/>
<circle cx="596.00" cy="396.40" r="1.25" fill="#000"/>
<circle cx="592.60" cy="398.40" r="1.25" fill="#000"/>
<circle cx="594.60" cy="399.60" r="1.25" fill="#000"/>
<circle cx="597.00" cy="398.60" r="1.25" fill="#000"/>
<circle cx="599.40" cy="399.20" r="1.25" fill="#000"/>
<circle cx="594.00" cy="401.40" r="1.25" fill="#000"/>
<circle cx="596.00" cy="402.40" r="1.25" fill="#000"/>
<circle cx="598.40" cy="400.80" r="1.25" fill="#000"/>
<line x1="606.60" y1="386.70" x2="606.60" y2="387.70" stroke="#8f8f8f" stroke-width="1.0" stroke-linecap="butt"/>
<line x1="606.60" y1="393.60" x2="606.60" y2="401.60" stroke="#8f8f8f" stroke-width="1.0" stroke-linecap="butt"/>
<rect x="602.40" y="387.70" width="8.40" height="5.90" fill="#e5823c" stroke="#8a8a8a" stroke-width="0.5"/>
<line x1="602.40" y1="390.00" x2="610.80" y2="390.00" stroke="#777" stroke-width="0.6" stroke-linecap="butt"/>
<circle cx="606.60" cy="386.70" r="1.25" fill="#000"/>
<circle cx="605.60" cy="389.00" r="1.25" fill="#000"/>
<circle cx="607.60" cy="390.40" r="1.25" fill="#000"/>
<circle cx="606.60" cy="393.60" r="1.25" fill="#000"/>
<circle cx="606.60" cy="401.60" r="1.25" fill="#000"/>
<line x1="617.20" y1="397.00" x2="617.20" y2="401.60" stroke="#8f8f8f" stroke-width="0.8" stroke-linecap="butt"/>
<circle cx="617.20" cy="393.60" r="1.25" fill="#000"/>
<circle cx="613.40" cy="398.60" r="1.25" fill="#000"/>
<circle cx="615.60" cy="399.40" r="1.25" fill="#000"/>
<circle cx="617.80" cy="398.80" r="1.25" fill="#000"/>
<circle cx="619.80" cy="399.60" r="1.25" fill="#000"/>
<circle cx="621.60" cy="399.00" r="1.25" fill="#000"/>
<circle cx="617.20" cy="401.40" r="1.25" fill="#000"/>
<line x1="627.80" y1="389.60" x2="627.80" y2="390.70" stroke="#8f8f8f" stroke-width="1.0" stroke-linecap="butt"/>
<line x1="627.80" y1="395.80" x2="627.80" y2="398.60" stroke="#8f8f8f" stroke-width="1.0" stroke-linecap="butt"/>
<rect x="623.60" y="390.70" width="8.40" height="5.10" fill="#4eae52" stroke="#8a8a8a" stroke-width="0.5"/>
<line x1="623.60" y1="393.40" x2="632.00" y2="393.40" stroke="#777" stroke-width="0.6" stroke-linecap="butt"/>
<circle cx="627.80" cy="383.40" r="1.25" fill="#000"/>
<circle cx="625.40" cy="390.60" r="1.25" fill="#000"/>
<circle cx="630.20" cy="390.80" r="1.25" fill="#000"/>
<circle cx="626.80" cy="394.00" r="1.25" fill="#000"/>
<circle cx="629.40" cy="393.80" r="1.25" fill="#000"/>
<circle cx="627.80" cy="398.40" r="1.25" fill="#000"/>
<line x1="638.40" y1="380.40" x2="638.40" y2="384.50" stroke="#8f8f8f" stroke-width="1.0" stroke-linecap="butt"/>
<line x1="638.40" y1="393.10" x2="638.40" y2="396.50" stroke="#8f8f8f" stroke-width="1.0" stroke-linecap="butt"/>
<rect x="634.20" y="384.50" width="8.40" height="8.60" fill="#c8474d" stroke="#8a8a8a" stroke-width="0.5"/>
<line x1="634.20" y1="389.40" x2="642.60" y2="389.40" stroke="#777" stroke-width="0.6" stroke-linecap="butt"/>
<circle cx="638.40" cy="380.40" r="1.25" fill="#000"/>
<circle cx="638.40" cy="385.60" r="1.25" fill="#000"/>
<circle cx="637.80" cy="388.00" r="1.25" fill="#000"/>
<circle cx="638.40" cy="390.40" r="1.25" fill="#000"/>
<circle cx="636.00" cy="393.20" r="1.25" fill="#000"/>
<circle cx="639.80" cy="394.20" r="1.25" fill="#000"/>
<circle cx="638.40" cy="396.50" r="1.25" fill="#000"/>
<line x1="649.00" y1="302.50" x2="649.00" y2="333.40" stroke="#8f8f8f" stroke-width="1.0" stroke-linecap="butt"/>
<line x1="649.00" y1="371.20" x2="649.00" y2="375.30" stroke="#8f8f8f" stroke-width="1.0" stroke-linecap="butt"/>
<rect x="644.80" y="333.40" width="8.40" height="37.80" fill="#c8474d" stroke="#8a8a8a" stroke-width="0.5"/>
<line x1="644.80" y1="370.20" x2="653.20" y2="370.20" stroke="#777" stroke-width="0.6" stroke-linecap="butt"/>
<circle cx="649.00" cy="302.50" r="1.25" fill="#000"/>
<circle cx="649.00" cy="333.40" r="1.25" fill="#000"/>
<circle cx="647.40" cy="370.40" r="1.25" fill="#000"/>
<circle cx="649.20" cy="371.60" r="1.25" fill="#000"/>
<circle cx="649.00" cy="375.30" r="1.25" fill="#000"/>
<line x1="659.60" y1="397.00" x2="659.60" y2="401.40" stroke="#8f8f8f" stroke-width="0.8" stroke-linecap="butt"/>
<circle cx="658.00" cy="393.60" r="1.25" fill="#000"/>
<circle cx="660.80" cy="393.60" r="1.25" fill="#000"/>
<circle cx="656.00" cy="399.00" r="1.25" fill="#000"/>
<circle cx="658.40" cy="399.60" r="1.25" fill="#000"/>
<circle cx="660.60" cy="398.60" r="1.25" fill="#000"/>
<circle cx="663.20" cy="399.00" r="1.25" fill="#000"/>
<circle cx="659.60" cy="401.20" r="1.25" fill="#000"/>
<line x1="670.20" y1="358.00" x2="670.20" y2="371.00" stroke="#8f8f8f" stroke-width="1.0" stroke-linecap="butt"/>
<line x1="670.20" y1="394.80" x2="670.20" y2="398.30" stroke="#8f8f8f" stroke-width="1.0" stroke-linecap="butt"/>
<rect x="666.00" y="371.00" width="8.40" height="23.80" fill="#9468d2" stroke="#8a8a8a" stroke-width="0.5"/>
<line x1="666.00" y1="389.50" x2="674.40" y2="389.50" stroke="#777" stroke-width="0.6" stroke-linecap="butt"/>
<circle cx="670.20" cy="358.00" r="1.25" fill="#000"/>
<circle cx="670.20" cy="366.40" r="1.25" fill="#000"/>
<circle cx="670.20" cy="384.20" r="1.25" fill="#000"/>
<circle cx="667.80" cy="394.60" r="1.25" fill="#000"/>
<circle cx="671.40" cy="394.80" r="1.25" fill="#000"/>
<circle cx="670.20" cy="398.30" r="1.25" fill="#000"/>
<circle cx="606.90" cy="359.40" r="1.15" fill="#000"/>
<circle cx="638.40" cy="332.70" r="1.15" fill="#000"/>
<text x="637.90" y="321.00" font-size="5.9" text-anchor="middle" fill="#000" stroke="#000" stroke-width="0.22">p=0.04</text>
<polyline points="637.90,326.20 637.90,323.60 647.90,323.60 647.90,326.20" fill="none" stroke="#000" stroke-width="1.1"/>
</svg>
</body></html>
